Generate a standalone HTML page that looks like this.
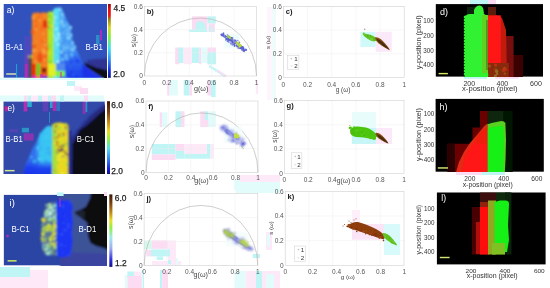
<!DOCTYPE html><html><head><meta charset="utf-8"><style>html,body{margin:0;padding:0;background:#fff;width:550px;height:288px;overflow:hidden}svg{display:block;will-change:transform}text{font-family:"Liberation Sans", sans-serif}</style></head><body>
<svg width="550" height="288" viewBox="0 0 550 288">
<defs>
<filter id="b1" x="-20%" y="-20%" width="140%" height="140%"><feGaussianBlur stdDeviation="0.8"/></filter>
<filter id="b2" x="-20%" y="-20%" width="140%" height="140%"><feGaussianBlur stdDeviation="1.5"/></filter>
<filter id="b06" x="-20%" y="-20%" width="140%" height="140%"><feGaussianBlur stdDeviation="0.6"/></filter>
<filter id="b05" x="-20%" y="-20%" width="140%" height="140%"><feGaussianBlur stdDeviation="0.45"/></filter>
<filter id="b07" x="-20%" y="-20%" width="140%" height="140%"><feGaussianBlur stdDeviation="0.95"/></filter>
<linearGradient id="cbA" x1="0" y1="0" x2="0" y2="1">
 <stop offset="0" stop-color="#8a0a10"/><stop offset="0.06" stop-color="#e01010"/><stop offset="0.16" stop-color="#f01818"/>
 <stop offset="0.2" stop-color="#9a7a10"/><stop offset="0.32" stop-color="#d8d820"/><stop offset="0.45" stop-color="#80f040"/>
 <stop offset="0.6" stop-color="#40e0f0"/><stop offset="0.75" stop-color="#3090f0"/><stop offset="0.9" stop-color="#1830e0"/><stop offset="1" stop-color="#101890"/>
</linearGradient>
<linearGradient id="cbE" x1="0" y1="0" x2="0" y2="1">
 <stop offset="0" stop-color="#3a1808"/><stop offset="0.15" stop-color="#7a4010"/><stop offset="0.3" stop-color="#d09018"/><stop offset="0.42" stop-color="#e8e020"/>
 <stop offset="0.52" stop-color="#90f040"/><stop offset="0.65" stop-color="#50e0f0"/><stop offset="0.8" stop-color="#3080f0"/><stop offset="0.93" stop-color="#1820e0"/><stop offset="1" stop-color="#10108a"/>
</linearGradient>
<linearGradient id="cbI" x1="0" y1="0" x2="0" y2="1">
 <stop offset="0" stop-color="#3a1808"/><stop offset="0.12" stop-color="#7a4010"/><stop offset="0.25" stop-color="#c08818"/><stop offset="0.36" stop-color="#e8e020"/>
 <stop offset="0.46" stop-color="#90f040"/><stop offset="0.6" stop-color="#a0e8f0"/><stop offset="0.75" stop-color="#a0a8f0"/><stop offset="0.9" stop-color="#3030e0"/><stop offset="1" stop-color="#10108a"/>
</linearGradient>
<linearGradient id="gMt" x1="0" y1="0" x2="0" y2="1">
 <stop offset="0" stop-color="#48a8f6"/><stop offset="0.55" stop-color="#4494f2"/><stop offset="0.75" stop-color="#2c60ee"/><stop offset="1" stop-color="#1a3ae8"/>
</linearGradient>
<linearGradient id="gEm" x1="0" y1="0" x2="1" y2="0">
 <stop offset="0" stop-color="#2c5cee"/><stop offset="0.45" stop-color="#3278f0"/><stop offset="0.6" stop-color="#38b0f2"/><stop offset="1" stop-color="#40ccf2"/>
</linearGradient>
<linearGradient id="gEb" x1="0" y1="0" x2="0" y2="1">
 <stop offset="0" stop-color="#1c38ee" stop-opacity="0"/><stop offset="0.45" stop-color="#1c38ee" stop-opacity="0.9"/><stop offset="1" stop-color="#1830e8"/>
</linearGradient>
</defs>
<rect x="3.7" y="4" width="103.3" height="73.8" fill="#3152bd"/>
<svg x="3.7" y="4" width="103.3" height="73.8" viewBox="3.7 4 103.3 73.8" overflow="hidden"><g filter="url(#b07)">
<polygon points="58.5,8 61,7.5 63,11 66.5,19.4 70.4,27 73,42.6 76,49 79.4,55.4 83.3,66 89.7,77.8 91,81 58.5,81" fill="url(#gMt)"/>
<circle cx="61.3" cy="52.2" r="1.74" fill="#80d0f8" opacity="1.0"/>
<circle cx="61.0" cy="47.8" r="1.42" fill="#3c88f0" opacity="1.0"/>
<circle cx="59.5" cy="51.6" r="1.38" fill="#68b8f8" opacity="1.0"/>
<circle cx="60.7" cy="25.2" r="0.92" fill="#5ab0f6" opacity="1.0"/>
<circle cx="59.2" cy="53.9" r="1.66" fill="#3c88f0" opacity="1.0"/>
<circle cx="71.3" cy="35.9" r="1.74" fill="#3c88f0" opacity="1.0"/>
<circle cx="68.4" cy="26.6" r="1.64" fill="#3c88f0" opacity="1.0"/>
<circle cx="66.1" cy="55.7" r="1.91" fill="#68b8f8" opacity="1.0"/>
<circle cx="62.2" cy="59.6" r="1.85" fill="#68b8f8" opacity="1.0"/>
<circle cx="71.6" cy="54.7" r="1.97" fill="#5ab0f6" opacity="1.0"/>
<circle cx="73.1" cy="43.2" r="1.23" fill="#5ab0f6" opacity="1.0"/>
<circle cx="70.3" cy="27.7" r="1.87" fill="#80d0f8" opacity="1.0"/>
<circle cx="60.5" cy="42.9" r="1.02" fill="#50a8f4" opacity="1.0"/>
<circle cx="67.9" cy="29.1" r="1.44" fill="#68b8f8" opacity="1.0"/>
<circle cx="67.0" cy="24.7" r="1.83" fill="#5ab0f6" opacity="1.0"/>
<circle cx="69.1" cy="29.1" r="1.09" fill="#5ab0f6" opacity="1.0"/>
<circle cx="62.4" cy="55.9" r="1.50" fill="#3c88f0" opacity="1.0"/>
<circle cx="67.7" cy="57.6" r="1.54" fill="#3c88f0" opacity="1.0"/>
<circle cx="69.4" cy="46.2" r="1.32" fill="#5ab0f6" opacity="1.0"/>
<circle cx="68.5" cy="30.7" r="0.96" fill="#80d0f8" opacity="1.0"/>
<circle cx="67.6" cy="33.7" r="1.29" fill="#80d0f8" opacity="1.0"/>
<circle cx="59.0" cy="36.5" r="1.77" fill="#80d0f8" opacity="1.0"/>
<circle cx="62.9" cy="18.0" r="1.54" fill="#68b8f8" opacity="1.0"/>
<circle cx="72.6" cy="49.7" r="1.80" fill="#80d0f8" opacity="1.0"/>
<circle cx="59.6" cy="57.1" r="0.98" fill="#68b8f8" opacity="1.0"/>
<circle cx="66.7" cy="47.5" r="1.21" fill="#80d0f8" opacity="1.0"/>
<circle cx="60.9" cy="40.9" r="1.28" fill="#68b8f8" opacity="1.0"/>
<circle cx="61.8" cy="22.0" r="1.95" fill="#80d0f8" opacity="1.0"/>
<circle cx="70.9" cy="34.3" r="1.03" fill="#80d0f8" opacity="1.0"/>
<circle cx="65.6" cy="30.5" r="1.11" fill="#68b8f8" opacity="1.0"/>
<circle cx="63.3" cy="46.2" r="1.97" fill="#5ab0f6" opacity="1.0"/>
<circle cx="66.3" cy="58.8" r="1.15" fill="#3c88f0" opacity="1.0"/>
<circle cx="61.5" cy="45.7" r="1.08" fill="#5ab0f6" opacity="1.0"/>
<circle cx="70.5" cy="36.8" r="1.14" fill="#5ab0f6" opacity="1.0"/>
<circle cx="66.7" cy="35.7" r="0.93" fill="#5ab0f6" opacity="1.0"/>
<circle cx="72.7" cy="42.7" r="1.37" fill="#80d0f8" opacity="1.0"/>
<circle cx="61.1" cy="19.8" r="0.95" fill="#68b8f8" opacity="1.0"/>
<circle cx="75.0" cy="46.9" r="1.36" fill="#80d0f8" opacity="1.0"/>
<circle cx="61.2" cy="37.6" r="1.84" fill="#5ab0f6" opacity="1.0"/>
<circle cx="71.0" cy="35.0" r="1.32" fill="#80d0f8" opacity="1.0"/>
<circle cx="60.7" cy="38.2" r="1.89" fill="#5ab0f6" opacity="1.0"/>
<circle cx="62.3" cy="14.3" r="1.63" fill="#80d0f8" opacity="1.0"/>
<circle cx="69.4" cy="29.5" r="1.21" fill="#50a8f4" opacity="1.0"/>
<circle cx="62.4" cy="25.7" r="1.99" fill="#50a8f4" opacity="1.0"/>
<circle cx="64.8" cy="19.9" r="1.64" fill="#3c88f0" opacity="1.0"/>
<circle cx="67.2" cy="59.3" r="1.16" fill="#68b8f8" opacity="1.0"/>
<circle cx="60.4" cy="17.7" r="1.90" fill="#50a8f4" opacity="1.0"/>
<circle cx="63.6" cy="25.9" r="1.46" fill="#80d0f8" opacity="1.0"/>
<circle cx="65.3" cy="26.4" r="1.22" fill="#5ab0f6" opacity="1.0"/>
<circle cx="72.3" cy="45.5" r="1.44" fill="#5ab0f6" opacity="1.0"/>
<circle cx="59.7" cy="12.7" r="1.85" fill="#50a8f4" opacity="1.0"/>
<circle cx="69.5" cy="48.9" r="1.32" fill="#5ab0f6" opacity="1.0"/>
<circle cx="68.4" cy="37.9" r="1.95" fill="#80d0f8" opacity="1.0"/>
<circle cx="63.7" cy="49.1" r="1.81" fill="#68b8f8" opacity="1.0"/>
<circle cx="66.0" cy="51.1" r="1.77" fill="#50a8f4" opacity="1.0"/>
<circle cx="63.1" cy="59.4" r="1.36" fill="#68b8f8" opacity="1.0"/>
<circle cx="66.7" cy="43.7" r="1.07" fill="#68b8f8" opacity="1.0"/>
<circle cx="66.4" cy="58.2" r="1.79" fill="#5ab0f6" opacity="1.0"/>
<circle cx="63.3" cy="33.3" r="1.01" fill="#80d0f8" opacity="1.0"/>
<circle cx="59.7" cy="9.5" r="1.98" fill="#80d0f8" opacity="1.0"/>
<circle cx="82.8" cy="73.9" r="1.49" fill="#1838ec" opacity="1.0"/>
<circle cx="76.6" cy="77.0" r="1.73" fill="#1838ec" opacity="1.0"/>
<circle cx="83.1" cy="71.9" r="1.41" fill="#3060f0" opacity="1.0"/>
<circle cx="75.2" cy="58.1" r="1.56" fill="#3060f0" opacity="1.0"/>
<circle cx="83.1" cy="70.9" r="1.84" fill="#1838ec" opacity="1.0"/>
<circle cx="71.3" cy="61.5" r="1.70" fill="#2048f0" opacity="1.0"/>
<circle cx="80.0" cy="73.4" r="1.10" fill="#2048f0" opacity="1.0"/>
<circle cx="76.7" cy="60.4" r="1.66" fill="#1838ec" opacity="1.0"/>
<circle cx="73.6" cy="74.2" r="1.19" fill="#3060f0" opacity="1.0"/>
<circle cx="78.3" cy="71.2" r="1.81" fill="#2048f0" opacity="1.0"/>
<circle cx="78.0" cy="61.3" r="1.43" fill="#1838ec" opacity="1.0"/>
<circle cx="76.7" cy="58.0" r="1.88" fill="#3060f0" opacity="1.0"/>
<circle cx="65.0" cy="69.3" r="1.27" fill="#3060f0" opacity="1.0"/>
<circle cx="64.9" cy="66.5" r="1.14" fill="#2048f0" opacity="1.0"/>
<circle cx="84.0" cy="75.1" r="1.52" fill="#2048f0" opacity="1.0"/>
<circle cx="69.0" cy="75.7" r="1.62" fill="#1838ec" opacity="1.0"/>
<circle cx="70.2" cy="67.5" r="1.29" fill="#3060f0" opacity="1.0"/>
<circle cx="71.7" cy="72.3" r="1.40" fill="#1838ec" opacity="1.0"/>
<circle cx="66.4" cy="77.3" r="1.89" fill="#3060f0" opacity="1.0"/>
<circle cx="61.3" cy="65.3" r="1.30" fill="#1838ec" opacity="1.0"/>
<polygon points="53,10 55,8 58.8,7.5 59.5,30 59.5,81 53,81" fill="#58dcf8"/>
<circle cx="58.8" cy="68.7" r="0.85" fill="#90ecfc" opacity="1.0"/>
<circle cx="55.5" cy="19.7" r="1.45" fill="#50d0f4" opacity="1.0"/>
<circle cx="54.9" cy="22.4" r="0.83" fill="#b0f4fc" opacity="1.0"/>
<circle cx="54.4" cy="36.1" r="1.11" fill="#b0f4fc" opacity="1.0"/>
<circle cx="58.2" cy="41.1" r="1.10" fill="#50d0f4" opacity="1.0"/>
<circle cx="56.3" cy="65.8" r="1.50" fill="#50d0f4" opacity="1.0"/>
<circle cx="56.1" cy="29.1" r="1.10" fill="#b0f4fc" opacity="1.0"/>
<circle cx="54.4" cy="20.2" r="0.98" fill="#90ecfc" opacity="1.0"/>
<circle cx="55.3" cy="17.6" r="1.21" fill="#b0f4fc" opacity="1.0"/>
<circle cx="57.2" cy="20.5" r="1.51" fill="#50d0f4" opacity="1.0"/>
<circle cx="57.5" cy="66.1" r="1.41" fill="#b0f4fc" opacity="1.0"/>
<circle cx="55.4" cy="70.8" r="1.57" fill="#90ecfc" opacity="1.0"/>
<circle cx="58.8" cy="34.2" r="1.39" fill="#b0f4fc" opacity="1.0"/>
<circle cx="56.4" cy="39.9" r="1.54" fill="#b0f4fc" opacity="1.0"/>
<circle cx="56.3" cy="59.2" r="1.33" fill="#50d0f4" opacity="1.0"/>
<circle cx="58.4" cy="38.0" r="1.25" fill="#b0f4fc" opacity="1.0"/>
<circle cx="57.5" cy="39.7" r="0.98" fill="#50d0f4" opacity="1.0"/>
<circle cx="58.0" cy="61.6" r="1.50" fill="#b0f4fc" opacity="1.0"/>
<circle cx="55.0" cy="66.4" r="1.05" fill="#b0f4fc" opacity="1.0"/>
<circle cx="58.1" cy="44.4" r="1.21" fill="#b0f4fc" opacity="1.0"/>
<circle cx="56.7" cy="28.6" r="0.97" fill="#b0f4fc" opacity="1.0"/>
<circle cx="55.5" cy="52.1" r="1.51" fill="#50d0f4" opacity="1.0"/>
<polygon points="47.3,13 49,11.5 52,11.5 53.7,12.5 53.7,81 47.3,81" fill="#a8e828"/>
<circle cx="48.9" cy="45.6" r="1.06" fill="#70d040" opacity="1.0"/>
<circle cx="51.3" cy="17.8" r="0.81" fill="#70d040" opacity="1.0"/>
<circle cx="49.1" cy="27.6" r="1.50" fill="#70d040" opacity="1.0"/>
<circle cx="50.7" cy="45.9" r="1.08" fill="#80e830" opacity="1.0"/>
<circle cx="48.9" cy="22.8" r="1.45" fill="#70d040" opacity="1.0"/>
<circle cx="51.9" cy="52.9" r="0.84" fill="#c8e820" opacity="1.0"/>
<circle cx="49.3" cy="15.8" r="1.41" fill="#70d040" opacity="1.0"/>
<circle cx="51.1" cy="67.4" r="1.07" fill="#70d040" opacity="1.0"/>
<circle cx="49.9" cy="60.5" r="1.11" fill="#80e830" opacity="1.0"/>
<circle cx="52.8" cy="19.7" r="0.90" fill="#80e830" opacity="1.0"/>
<circle cx="49.0" cy="53.0" r="1.35" fill="#e0e020" opacity="1.0"/>
<circle cx="50.0" cy="62.3" r="1.20" fill="#70d040" opacity="1.0"/>
<circle cx="51.0" cy="66.4" r="1.28" fill="#c8e820" opacity="1.0"/>
<circle cx="52.6" cy="71.5" r="1.27" fill="#80e830" opacity="1.0"/>
<circle cx="51.7" cy="32.9" r="1.18" fill="#c8e820" opacity="1.0"/>
<circle cx="51.8" cy="26.2" r="1.38" fill="#e0e020" opacity="1.0"/>
<path d="M31.9,81 L31.9,15 Q33.5,11.5 36,13 Q38,11.5 40,13.5 Q43,11.5 45.5,12.5 L47.8,13.5 L47.8,81 Z" fill="#f47c22"/>
<circle cx="35.8" cy="21.1" r="1.34" fill="#f06a1c" opacity="1.0"/>
<circle cx="33.6" cy="16.2" r="1.50" fill="#f49430" opacity="1.0"/>
<circle cx="44.4" cy="60.1" r="1.14" fill="#f8a040" opacity="1.0"/>
<circle cx="37.7" cy="61.0" r="1.81" fill="#f49430" opacity="1.0"/>
<circle cx="35.5" cy="69.7" r="1.81" fill="#f49430" opacity="1.0"/>
<circle cx="44.4" cy="26.4" r="1.24" fill="#f49430" opacity="1.0"/>
<circle cx="33.5" cy="50.7" r="1.64" fill="#f8a040" opacity="1.0"/>
<circle cx="36.0" cy="29.6" r="1.21" fill="#f8a040" opacity="1.0"/>
<circle cx="45.1" cy="15.4" r="1.22" fill="#f49430" opacity="1.0"/>
<circle cx="45.2" cy="45.0" r="1.36" fill="#f8a040" opacity="1.0"/>
<circle cx="36.6" cy="41.6" r="1.16" fill="#f49430" opacity="1.0"/>
<circle cx="44.6" cy="17.6" r="0.95" fill="#f49430" opacity="1.0"/>
<circle cx="40.1" cy="53.2" r="1.67" fill="#f06a1c" opacity="1.0"/>
<circle cx="47.5" cy="26.5" r="1.35" fill="#f06a1c" opacity="1.0"/>
<circle cx="41.9" cy="41.0" r="1.10" fill="#ee5818" opacity="1.0"/>
<circle cx="43.6" cy="33.9" r="1.51" fill="#f49430" opacity="1.0"/>
<circle cx="33.7" cy="18.6" r="1.15" fill="#f8a040" opacity="1.0"/>
<circle cx="41.6" cy="29.0" r="1.26" fill="#f06a1c" opacity="1.0"/>
<circle cx="36.7" cy="16.5" r="1.29" fill="#f68a2a" opacity="1.0"/>
<circle cx="45.9" cy="71.3" r="1.71" fill="#f49430" opacity="1.0"/>
<circle cx="32.5" cy="32.1" r="1.96" fill="#ee5818" opacity="1.0"/>
<circle cx="45.4" cy="66.3" r="1.65" fill="#f68a2a" opacity="1.0"/>
<circle cx="36.7" cy="26.3" r="1.39" fill="#f06a1c" opacity="1.0"/>
<circle cx="36.0" cy="50.3" r="1.07" fill="#f8a040" opacity="1.0"/>
<circle cx="32.3" cy="17.6" r="1.09" fill="#f49430" opacity="1.0"/>
<circle cx="47.5" cy="48.7" r="1.38" fill="#f06a1c" opacity="1.0"/>
<circle cx="38.7" cy="27.3" r="0.97" fill="#f68a2a" opacity="1.0"/>
<circle cx="43.5" cy="50.1" r="1.97" fill="#f8a040" opacity="1.0"/>
<circle cx="32.8" cy="43.9" r="1.17" fill="#f68a2a" opacity="1.0"/>
<circle cx="34.1" cy="46.2" r="1.75" fill="#ee5818" opacity="1.0"/>
<circle cx="42.2" cy="26.8" r="1.12" fill="#ee5818" opacity="1.0"/>
<circle cx="38.5" cy="17.2" r="1.36" fill="#f06a1c" opacity="1.0"/>
<circle cx="42.1" cy="40.2" r="1.14" fill="#f06a1c" opacity="1.0"/>
<circle cx="32.7" cy="30.0" r="1.17" fill="#f06a1c" opacity="1.0"/>
<circle cx="44.0" cy="39.6" r="1.19" fill="#f49430" opacity="1.0"/>
<circle cx="33.0" cy="69.8" r="1.52" fill="#f8a040" opacity="1.0"/>
<circle cx="38.4" cy="68.2" r="1.62" fill="#f68a2a" opacity="1.0"/>
<circle cx="39.8" cy="20.5" r="1.13" fill="#f8a040" opacity="1.0"/>
<circle cx="46.0" cy="69.6" r="1.27" fill="#ee5818" opacity="1.0"/>
<circle cx="44.4" cy="52.9" r="1.80" fill="#f8a040" opacity="1.0"/>
<circle cx="35.5" cy="62.3" r="1.78" fill="#f49430" opacity="1.0"/>
<circle cx="46.3" cy="71.4" r="0.98" fill="#f49430" opacity="1.0"/>
<circle cx="46.9" cy="54.4" r="0.95" fill="#f8a040" opacity="1.0"/>
<circle cx="34.2" cy="72.1" r="1.63" fill="#f68a2a" opacity="1.0"/>
<circle cx="45.5" cy="55.6" r="1.41" fill="#ee5818" opacity="1.0"/>
<ellipse cx="45" cy="24" rx="2" ry="4" fill="#e03010"/>
<ellipse cx="40" cy="58" rx="3" ry="5" fill="#ec5418"/>
<rect x="25" y="55" width="3.00" height="26.00" fill="#6040c0" opacity="1"/>
<rect x="28" y="55" width="4.00" height="26.00" fill="#405018" opacity="1"/>
<rect x="28" y="55" width="4.00" height="3.00" fill="#a0d020" opacity="1"/>
<rect x="32" y="63.7" width="4.30" height="17.30" fill="#f02a10" opacity="1"/>
<rect x="36.3" y="63.7" width="3.90" height="12.30" fill="#60d020" opacity="1"/>
<rect x="40.2" y="67" width="7.80" height="9.00" fill="#e85a18" opacity="1"/>
<rect x="42.4" y="68" width="3.50" height="4.40" fill="#602010" opacity="1"/>
<rect x="48" y="63.7" width="7.90" height="12.30" fill="#e0f020" opacity="1"/>
<rect x="55.9" y="70.7" width="9.10" height="6.00" fill="#80f040" opacity="1"/>
<rect x="55.9" y="63" width="9.10" height="7.70" fill="#5088f0" opacity="1"/>
<rect x="32" y="75.9" width="4.30" height="5.10" fill="#e020c0" opacity="1"/>
<rect x="40.2" y="75.9" width="7.80" height="5.10" fill="#8040c0" opacity="1"/>
<polygon points="88,60 110,58 110,71 96,67.5 86,63" fill="#2e2c88" opacity="0.8"/>
<polygon points="82,64 92,72 101,77.8 102,81 84,81" fill="#1c30e8"/>
<polygon points="84,62.5 96,67.5 110,71 110,81 104,81 103,77.8 95,72.5 86,66.5" fill="#0a0a18"/>
</g></svg>
<rect x="108" y="4" width="2.8" height="73.8" fill="url(#cbA)"/>
<rect x="6.2" y="73.2" width="9.8" height="1.6" fill="#c8d8b0"/>
<rect x="3.5" y="101.4" width="101.1" height="72.6" fill="#3249aa"/>
<svg x="3.5" y="101.4" width="101.1" height="72.6" viewBox="3.5 101.4 101.1 72.6" overflow="hidden"><g filter="url(#b07)">
<polygon points="68,178 69,142 76,132 90,116 104.6,104 108,101 108,178" fill="#262a80"/>
<polygon points="72,178 72.5,144 76.5,137 80,130 88,124.5 96,117 104.6,109.5 108,106.5 108,178" fill="#0a0a14"/>
<polygon points="22.5,178 25,166 27.5,160 30,154 33.2,146.9 36,143 38,138 41,133.8 45,128 48.5,125.5 51.5,127 52,178" fill="url(#gEm)"/>
<circle cx="39.5" cy="147.8" r="1.82" fill="#3070f0" opacity="1.0"/>
<circle cx="39.5" cy="159.3" r="1.09" fill="#48b8f0" opacity="1.0"/>
<circle cx="40.0" cy="149.9" r="1.09" fill="#3070f0" opacity="1.0"/>
<circle cx="47.0" cy="153.0" r="0.94" fill="#3070f0" opacity="1.0"/>
<circle cx="50.3" cy="151.5" r="1.52" fill="#3890f0" opacity="1.0"/>
<circle cx="43.1" cy="158.4" r="0.96" fill="#40c8f0" opacity="1.0"/>
<circle cx="39.3" cy="158.9" r="1.42" fill="#58d8f4" opacity="1.0"/>
<circle cx="40.5" cy="151.8" r="1.36" fill="#58d8f4" opacity="1.0"/>
<circle cx="38.5" cy="147.5" r="1.83" fill="#40c8f0" opacity="1.0"/>
<circle cx="44.9" cy="138.3" r="1.13" fill="#58d8f4" opacity="1.0"/>
<circle cx="34.5" cy="162.2" r="0.95" fill="#3070f0" opacity="1.0"/>
<circle cx="50.6" cy="141.5" r="0.97" fill="#3890f0" opacity="1.0"/>
<circle cx="46.3" cy="136.5" r="0.99" fill="#58d8f4" opacity="1.0"/>
<circle cx="49.4" cy="131.2" r="1.61" fill="#40c8f0" opacity="1.0"/>
<circle cx="31.3" cy="157.1" r="1.08" fill="#48b8f0" opacity="1.0"/>
<circle cx="50.7" cy="156.0" r="1.32" fill="#3070f0" opacity="1.0"/>
<circle cx="50.4" cy="157.3" r="1.20" fill="#40c8f0" opacity="1.0"/>
<circle cx="47.9" cy="151.0" r="1.00" fill="#3890f0" opacity="1.0"/>
<circle cx="46.2" cy="138.8" r="1.20" fill="#40c8f0" opacity="1.0"/>
<circle cx="37.7" cy="150.3" r="1.03" fill="#48b8f0" opacity="1.0"/>
<circle cx="40.2" cy="148.4" r="1.77" fill="#3890f0" opacity="1.0"/>
<circle cx="43.2" cy="138.1" r="1.13" fill="#48b8f0" opacity="1.0"/>
<circle cx="45.5" cy="162.7" r="1.10" fill="#3070f0" opacity="1.0"/>
<circle cx="48.5" cy="149.5" r="1.32" fill="#40c8f0" opacity="1.0"/>
<circle cx="35.4" cy="154.9" r="1.29" fill="#3070f0" opacity="1.0"/>
<circle cx="47.3" cy="149.3" r="1.19" fill="#3890f0" opacity="1.0"/>
<circle cx="49.5" cy="164.1" r="1.03" fill="#3070f0" opacity="1.0"/>
<circle cx="41.7" cy="159.2" r="1.51" fill="#58d8f4" opacity="1.0"/>
<circle cx="34.5" cy="161.7" r="1.65" fill="#40c8f0" opacity="1.0"/>
<circle cx="37.7" cy="148.3" r="1.03" fill="#58d8f4" opacity="1.0"/>
<circle cx="37.0" cy="154.6" r="1.42" fill="#3890f0" opacity="1.0"/>
<circle cx="42.4" cy="162.0" r="1.37" fill="#58d8f4" opacity="1.0"/>
<circle cx="44.7" cy="163.5" r="0.92" fill="#40c8f0" opacity="1.0"/>
<circle cx="40.1" cy="154.5" r="1.22" fill="#40c8f0" opacity="1.0"/>
<circle cx="45.5" cy="161.1" r="1.64" fill="#3890f0" opacity="1.0"/>
<circle cx="46.7" cy="161.7" r="1.25" fill="#3070f0" opacity="1.0"/>
<circle cx="48.9" cy="160.0" r="1.32" fill="#40c8f0" opacity="1.0"/>
<circle cx="48.1" cy="148.3" r="1.52" fill="#3070f0" opacity="1.0"/>
<circle cx="49.6" cy="153.1" r="1.36" fill="#3070f0" opacity="1.0"/>
<circle cx="47.6" cy="129.3" r="1.65" fill="#40c8f0" opacity="1.0"/>
<polygon points="39,134 45,128 48.5,125.5 52,127 52,165 40,165" fill="#38c8f4" opacity="0.7"/>
<polygon points="22.5,178 25.5,165 30,160 52,160 52,178" fill="url(#gEb)"/>
<polygon points="52,125 55,123 60,122.5 65,123.5 68.4,125 68.4,178 52,178" fill="#e8d820"/>
<rect x="52" y="125" width="4.5" height="53" fill="#9ae040"/>
<circle cx="59.8" cy="157.2" r="1.07" fill="#c8e030" opacity="1.0"/>
<circle cx="58.3" cy="173.8" r="0.94" fill="#80e040" opacity="1.0"/>
<circle cx="63.3" cy="154.5" r="0.99" fill="#f8f040" opacity="1.0"/>
<circle cx="54.4" cy="146.6" r="0.71" fill="#c8e030" opacity="1.0"/>
<circle cx="53.0" cy="165.1" r="0.65" fill="#e0a020" opacity="1.0"/>
<circle cx="63.2" cy="164.1" r="0.66" fill="#f0e020" opacity="1.0"/>
<circle cx="65.4" cy="157.4" r="0.76" fill="#80e040" opacity="1.0"/>
<circle cx="67.5" cy="130.5" r="0.90" fill="#c8e030" opacity="1.0"/>
<circle cx="60.8" cy="168.2" r="0.99" fill="#f0e020" opacity="1.0"/>
<circle cx="61.1" cy="149.9" r="0.66" fill="#f8f040" opacity="1.0"/>
<circle cx="58.9" cy="154.2" r="0.93" fill="#80e040" opacity="1.0"/>
<circle cx="60.9" cy="156.4" r="0.66" fill="#c8e030" opacity="1.0"/>
<circle cx="68.0" cy="157.5" r="0.85" fill="#e0a020" opacity="1.0"/>
<circle cx="66.2" cy="143.9" r="0.82" fill="#e0a020" opacity="1.0"/>
<circle cx="55.9" cy="142.8" r="0.96" fill="#f8f040" opacity="1.0"/>
<circle cx="54.9" cy="143.7" r="1.20" fill="#f0e020" opacity="1.0"/>
<circle cx="60.5" cy="135.9" r="0.90" fill="#80e040" opacity="1.0"/>
<circle cx="55.4" cy="154.8" r="1.13" fill="#c8e030" opacity="1.0"/>
<circle cx="54.9" cy="159.1" r="0.63" fill="#e0a020" opacity="1.0"/>
<circle cx="60.2" cy="154.5" r="1.11" fill="#f8f040" opacity="1.0"/>
<circle cx="59.5" cy="135.2" r="0.80" fill="#80e040" opacity="1.0"/>
<circle cx="63.4" cy="166.9" r="0.77" fill="#c8e030" opacity="1.0"/>
<circle cx="59.6" cy="151.9" r="0.73" fill="#c8e030" opacity="1.0"/>
<circle cx="67.0" cy="125.3" r="0.79" fill="#e0a020" opacity="1.0"/>
<circle cx="54.9" cy="164.0" r="0.95" fill="#c8e030" opacity="1.0"/>
<circle cx="62.2" cy="173.2" r="1.30" fill="#f8f040" opacity="1.0"/>
<circle cx="54.5" cy="170.4" r="1.22" fill="#e0a020" opacity="1.0"/>
<circle cx="62.5" cy="136.2" r="0.97" fill="#80e040" opacity="1.0"/>
<circle cx="60.0" cy="142.3" r="1.08" fill="#80e040" opacity="1.0"/>
<circle cx="66.7" cy="132.9" r="0.80" fill="#f0e020" opacity="1.0"/>
<circle cx="56.6" cy="171.3" r="0.96" fill="#80e040" opacity="1.0"/>
<circle cx="63.6" cy="135.5" r="0.80" fill="#e0a020" opacity="1.0"/>
<circle cx="52.5" cy="125.2" r="0.62" fill="#f8f040" opacity="1.0"/>
<circle cx="66.5" cy="145.6" r="0.77" fill="#80e040" opacity="1.0"/>
<circle cx="59.7" cy="127.9" r="1.00" fill="#e0a020" opacity="1.0"/>
<circle cx="64.5" cy="145.5" r="1.01" fill="#80e040" opacity="1.0"/>
<circle cx="64.9" cy="153.4" r="0.84" fill="#e0a020" opacity="1.0"/>
<circle cx="62.5" cy="143.9" r="0.71" fill="#c8e030" opacity="1.0"/>
<circle cx="66.8" cy="164.1" r="1.23" fill="#80e040" opacity="1.0"/>
<circle cx="60.8" cy="163.7" r="0.87" fill="#f0e020" opacity="1.0"/>
<circle cx="63.6" cy="134.3" r="0.79" fill="#f8f040" opacity="1.0"/>
<circle cx="60.1" cy="154.9" r="0.75" fill="#f8f040" opacity="1.0"/>
<circle cx="63.5" cy="144.3" r="0.77" fill="#80e040" opacity="1.0"/>
<circle cx="57.8" cy="129.0" r="0.83" fill="#f0e020" opacity="1.0"/>
<circle cx="63.8" cy="140.2" r="0.73" fill="#80e040" opacity="1.0"/>
<circle cx="58.0" cy="126.5" r="0.94" fill="#80e040" opacity="1.0"/>
<circle cx="60.0" cy="127.8" r="1.02" fill="#80e040" opacity="1.0"/>
<circle cx="55.9" cy="141.0" r="1.26" fill="#f0e020" opacity="1.0"/>
<circle cx="67.8" cy="143.0" r="1.19" fill="#80e040" opacity="1.0"/>
<circle cx="56.9" cy="150.3" r="0.70" fill="#e0a020" opacity="1.0"/>
<circle cx="54.7" cy="147.8" r="1.02" fill="#c8e030" opacity="1.0"/>
<circle cx="59.5" cy="163.5" r="0.63" fill="#c8e030" opacity="1.0"/>
<circle cx="58.7" cy="159.2" r="1.15" fill="#f8f040" opacity="1.0"/>
<circle cx="63.0" cy="157.5" r="1.28" fill="#f8f040" opacity="1.0"/>
<circle cx="61.4" cy="140.3" r="1.13" fill="#f0e020" opacity="1.0"/>
<circle cx="57.3" cy="149.5" r="0.85" fill="#e0a020" opacity="1.0"/>
<circle cx="54.8" cy="148.4" r="1.16" fill="#c8e030" opacity="1.0"/>
<circle cx="56.1" cy="127.2" r="1.16" fill="#e0a020" opacity="1.0"/>
<circle cx="58.7" cy="155.7" r="0.80" fill="#f8f040" opacity="1.0"/>
<circle cx="57.3" cy="131.2" r="1.05" fill="#f8f040" opacity="1.0"/>
<circle cx="65.1" cy="143.5" r="0.90" fill="#e0a020" opacity="1.0"/>
<circle cx="57.6" cy="162.7" r="0.94" fill="#80e040" opacity="1.0"/>
<circle cx="65.4" cy="134.0" r="1.15" fill="#e0a020" opacity="1.0"/>
<circle cx="53.8" cy="138.1" r="1.22" fill="#e0a020" opacity="1.0"/>
<circle cx="68.1" cy="169.8" r="1.14" fill="#e0a020" opacity="1.0"/>
<circle cx="65.7" cy="135.3" r="1.22" fill="#f0e020" opacity="1.0"/>
<circle cx="61.1" cy="127.1" r="1.17" fill="#c8e030" opacity="1.0"/>
<circle cx="54.7" cy="160.1" r="0.81" fill="#c8e030" opacity="1.0"/>
<circle cx="68.1" cy="162.9" r="0.98" fill="#f0e020" opacity="1.0"/>
<circle cx="62.0" cy="130.0" r="1.08" fill="#f8f040" opacity="1.0"/>
<circle cx="58.1" cy="149.9" r="0.91" fill="#403070" opacity="1.0"/>
<circle cx="62.8" cy="149.3" r="1.02" fill="#403070" opacity="1.0"/>
<circle cx="56.6" cy="145.0" r="0.63" fill="#604040" opacity="1.0"/>
<circle cx="55.4" cy="132.0" r="0.91" fill="#503060" opacity="1.0"/>
<circle cx="66.9" cy="154.7" r="0.55" fill="#604040" opacity="1.0"/>
<circle cx="64.9" cy="151.8" r="1.07" fill="#604040" opacity="1.0"/>
<circle cx="59.3" cy="135.5" r="1.04" fill="#e06020" opacity="1.0"/>
<circle cx="63.0" cy="156.4" r="0.88" fill="#503060" opacity="1.0"/>
<circle cx="59.2" cy="147.0" r="0.88" fill="#604040" opacity="1.0"/>
<circle cx="63.3" cy="145.7" r="0.95" fill="#403070" opacity="1.0"/>
<circle cx="60.3" cy="151.3" r="0.82" fill="#604040" opacity="1.0"/>
<circle cx="57.4" cy="144.7" r="0.65" fill="#e06020" opacity="1.0"/>
<circle cx="58.1" cy="137.0" r="1.03" fill="#e06020" opacity="1.0"/>
<circle cx="61.6" cy="146.1" r="1.03" fill="#604040" opacity="1.0"/>
<circle cx="56.6" cy="141.8" r="0.88" fill="#e06020" opacity="1.0"/>
<circle cx="59.7" cy="151.0" r="1.06" fill="#503060" opacity="1.0"/>
<circle cx="57.7" cy="143.9" r="0.92" fill="#e06020" opacity="1.0"/>
<circle cx="62.7" cy="133.1" r="0.75" fill="#604040" opacity="1.0"/>
<circle cx="65.6" cy="153.7" r="0.62" fill="#604040" opacity="1.0"/>
<circle cx="61.2" cy="149.0" r="1.04" fill="#403070" opacity="1.0"/>
<circle cx="63.7" cy="134.8" r="0.87" fill="#503060" opacity="1.0"/>
<circle cx="59.3" cy="151.3" r="0.70" fill="#604040" opacity="1.0"/>
<circle cx="57.3" cy="153.2" r="0.83" fill="#403070" opacity="1.0"/>
<circle cx="57.0" cy="141.7" r="0.86" fill="#503060" opacity="1.0"/>
<circle cx="66.7" cy="154.4" r="0.89" fill="#503060" opacity="1.0"/>
<circle cx="56.5" cy="137.9" r="0.74" fill="#604040" opacity="1.0"/>
<circle cx="61.8" cy="150.4" r="1.06" fill="#604040" opacity="1.0"/>
<circle cx="65.2" cy="129.1" r="0.69" fill="#403070" opacity="1.0"/>
<circle cx="53.7" cy="130.7" r="0.99" fill="#e09020" opacity="1.0"/>
<circle cx="56.3" cy="125.8" r="1.04" fill="#604050" opacity="1.0"/>
<circle cx="56.8" cy="130.5" r="0.84" fill="#a0e040" opacity="1.0"/>
<circle cx="56.2" cy="132.6" r="0.79" fill="#c0e040" opacity="1.0"/>
<circle cx="57.8" cy="130.0" r="0.91" fill="#e09020" opacity="1.0"/>
<circle cx="60.8" cy="130.3" r="0.70" fill="#a0e040" opacity="1.0"/>
<circle cx="54.0" cy="126.7" r="0.65" fill="#e09020" opacity="1.0"/>
<circle cx="65.7" cy="127.2" r="0.95" fill="#604050" opacity="1.0"/>
<circle cx="66.3" cy="124.0" r="0.98" fill="#a0e040" opacity="1.0"/>
<circle cx="61.3" cy="130.0" r="0.82" fill="#a0e040" opacity="1.0"/>
<circle cx="64.0" cy="128.4" r="1.00" fill="#c0e040" opacity="1.0"/>
<circle cx="59.2" cy="125.4" r="1.08" fill="#c0e040" opacity="1.0"/>
<circle cx="53.6" cy="132.0" r="0.65" fill="#c0e040" opacity="1.0"/>
<circle cx="53.9" cy="124.8" r="0.85" fill="#a0e040" opacity="1.0"/>
<circle cx="58.8" cy="133.7" r="0.70" fill="#604050" opacity="1.0"/>
<circle cx="59.3" cy="128.3" r="0.86" fill="#a0e040" opacity="1.0"/>
<rect x="68.4" y="130" width="3" height="48" fill="#242c88"/>
</g></svg>
<rect x="107" y="101.2" width="3" height="72.8" fill="url(#cbE)"/>
<rect x="4.9" y="169.9" width="9.7" height="1.5" fill="#d0e890"/>
<rect x="3.85" y="194.9" width="102.75" height="70.4" fill="#2b45a4"/>
<svg x="3.85" y="194.9" width="102.75" height="70.4" viewBox="3.85 194.9 102.75 70.4" overflow="hidden"><g filter="url(#b07)">
<polygon points="60,190 110,190 110,270 60,270" fill="#3d5398"/>
<polygon points="60,252 110,254 110,270 60,270" fill="#3a44a0"/>
<polygon points="74.5,212.5 78,210.5 81,209.5 86,206.5 89.7,199 91.5,191 110,191 110,251 106.6,249.5 103.5,248 96,246 90.5,243 88,236 87.2,222.7 81,217.7 76,214.2" fill="#08080e"/>
<polygon points="74.5,212.5 80,210 85,211 84.7,219 78,216" fill="#202838" opacity="0.8"/>
<polygon points="46,204.7 50,203 54.5,202.3 57.5,202 57.5,255 49.6,255.8 44.7,254.6 42.3,248.5 41,238.8 41,229 42.3,219.3 44.7,209.6" fill="#7a9a90" opacity="0.55"/>
<circle cx="46.2" cy="214.4" r="1.27" fill="#c0e040" opacity="1.0"/>
<circle cx="55.4" cy="219.8" r="1.13" fill="#90d8c0" opacity="1.0"/>
<circle cx="46.5" cy="211.5" r="1.41" fill="#a8e8d8" opacity="1.0"/>
<circle cx="49.0" cy="212.5" r="0.76" fill="#c8f0e0" opacity="1.0"/>
<circle cx="56.4" cy="214.5" r="1.09" fill="#c0e040" opacity="1.0"/>
<circle cx="48.4" cy="211.0" r="0.80" fill="#b0e0a0" opacity="1.0"/>
<circle cx="45.2" cy="216.6" r="0.72" fill="#c8f0e0" opacity="1.0"/>
<circle cx="51.5" cy="208.2" r="1.14" fill="#c8f0e0" opacity="1.0"/>
<circle cx="53.0" cy="210.5" r="1.44" fill="#a8e8d8" opacity="1.0"/>
<circle cx="54.5" cy="205.8" r="1.57" fill="#90d8c0" opacity="1.0"/>
<circle cx="57.3" cy="203.3" r="1.20" fill="#90d8c0" opacity="1.0"/>
<circle cx="55.2" cy="205.6" r="1.53" fill="#90d8c0" opacity="1.0"/>
<circle cx="49.5" cy="208.6" r="1.11" fill="#c0e040" opacity="1.0"/>
<circle cx="48.3" cy="210.7" r="0.94" fill="#a8e8d8" opacity="1.0"/>
<circle cx="46.1" cy="214.9" r="1.58" fill="#a8e8d8" opacity="1.0"/>
<circle cx="50.6" cy="211.9" r="1.37" fill="#c8f0e0" opacity="1.0"/>
<circle cx="51.7" cy="207.7" r="1.58" fill="#a8e8d8" opacity="1.0"/>
<circle cx="46.4" cy="205.1" r="1.01" fill="#b0e0a0" opacity="1.0"/>
<circle cx="48.7" cy="212.8" r="0.98" fill="#a8e8d8" opacity="1.0"/>
<circle cx="46.3" cy="218.6" r="0.86" fill="#c0e040" opacity="1.0"/>
<circle cx="49.1" cy="214.3" r="1.31" fill="#c8f0e0" opacity="1.0"/>
<circle cx="49.5" cy="219.8" r="1.57" fill="#90d8c0" opacity="1.0"/>
<circle cx="50.8" cy="214.0" r="1.54" fill="#c8f0e0" opacity="1.0"/>
<circle cx="54.9" cy="215.9" r="1.13" fill="#b0e0a0" opacity="1.0"/>
<circle cx="47.9" cy="209.6" r="0.85" fill="#a8e8d8" opacity="1.0"/>
<circle cx="55.8" cy="213.6" r="0.83" fill="#c8f0e0" opacity="1.0"/>
<circle cx="54.1" cy="210.6" r="0.93" fill="#90d8c0" opacity="1.0"/>
<circle cx="56.3" cy="210.6" r="1.56" fill="#b0e0a0" opacity="1.0"/>
<circle cx="54.7" cy="217.9" r="1.24" fill="#c0e040" opacity="1.0"/>
<circle cx="50.5" cy="218.2" r="1.13" fill="#c8f0e0" opacity="1.0"/>
<circle cx="51.2" cy="207.0" r="1.39" fill="#a8e8d8" opacity="1.0"/>
<circle cx="49.2" cy="204.3" r="1.34" fill="#b0e0a0" opacity="1.0"/>
<circle cx="52.0" cy="213.6" r="1.47" fill="#90d8c0" opacity="1.0"/>
<circle cx="49.7" cy="214.3" r="1.38" fill="#c8f0e0" opacity="1.0"/>
<circle cx="50.0" cy="204.5" r="1.48" fill="#b0e0a0" opacity="1.0"/>
<circle cx="45.7" cy="211.7" r="0.99" fill="#c0e040" opacity="1.0"/>
<circle cx="56.0" cy="213.2" r="0.86" fill="#c0e040" opacity="1.0"/>
<circle cx="46.7" cy="215.4" r="1.38" fill="#90d8c0" opacity="1.0"/>
<circle cx="53.6" cy="217.7" r="1.40" fill="#a8e8d8" opacity="1.0"/>
<circle cx="49.2" cy="217.6" r="1.06" fill="#90d8c0" opacity="1.0"/>
<circle cx="46.4" cy="214.8" r="0.93" fill="#90d8c0" opacity="1.0"/>
<circle cx="49.2" cy="207.6" r="1.51" fill="#b0e0a0" opacity="1.0"/>
<circle cx="55.0" cy="216.5" r="1.14" fill="#90d8c0" opacity="1.0"/>
<circle cx="45.3" cy="212.8" r="1.16" fill="#b0e0a0" opacity="1.0"/>
<circle cx="57.1" cy="207.6" r="1.33" fill="#90d8c0" opacity="1.0"/>
<circle cx="56.3" cy="243.7" r="1.59" fill="#c0e040" opacity="1.0"/>
<circle cx="47.3" cy="228.3" r="1.43" fill="#90d850" opacity="1.0"/>
<circle cx="48.3" cy="224.7" r="1.16" fill="#c0e040" opacity="1.0"/>
<circle cx="42.7" cy="244.5" r="1.20" fill="#c0e040" opacity="1.0"/>
<circle cx="49.5" cy="238.1" r="1.06" fill="#c0e040" opacity="1.0"/>
<circle cx="44.4" cy="219.9" r="1.07" fill="#e0e020" opacity="1.0"/>
<circle cx="51.2" cy="244.2" r="1.06" fill="#a8d840" opacity="1.0"/>
<circle cx="55.2" cy="244.2" r="0.98" fill="#90d850" opacity="1.0"/>
<circle cx="50.5" cy="240.2" r="0.88" fill="#d8e840" opacity="1.0"/>
<circle cx="50.7" cy="230.6" r="1.34" fill="#e0e020" opacity="1.0"/>
<circle cx="54.2" cy="232.9" r="1.37" fill="#e8e830" opacity="1.0"/>
<circle cx="44.2" cy="222.0" r="0.80" fill="#c0e040" opacity="1.0"/>
<circle cx="50.4" cy="243.4" r="0.98" fill="#e8e830" opacity="1.0"/>
<circle cx="46.5" cy="228.6" r="0.99" fill="#90d850" opacity="1.0"/>
<circle cx="55.8" cy="230.8" r="0.92" fill="#e0e020" opacity="1.0"/>
<circle cx="42.8" cy="239.4" r="1.41" fill="#a8d840" opacity="1.0"/>
<circle cx="49.1" cy="227.5" r="0.84" fill="#3a48a8" opacity="1.0"/>
<circle cx="50.8" cy="243.6" r="0.87" fill="#c0e040" opacity="1.0"/>
<circle cx="41.9" cy="229.8" r="0.72" fill="#a8d840" opacity="1.0"/>
<circle cx="44.7" cy="219.3" r="0.92" fill="#3a48a8" opacity="1.0"/>
<circle cx="56.7" cy="233.0" r="1.69" fill="#3a48a8" opacity="1.0"/>
<circle cx="42.5" cy="219.4" r="1.49" fill="#d8e840" opacity="1.0"/>
<circle cx="44.2" cy="221.0" r="1.17" fill="#e0e020" opacity="1.0"/>
<circle cx="53.5" cy="230.9" r="1.00" fill="#c0e040" opacity="1.0"/>
<circle cx="42.7" cy="232.8" r="0.87" fill="#e8e830" opacity="1.0"/>
<circle cx="50.2" cy="225.2" r="0.80" fill="#e0e020" opacity="1.0"/>
<circle cx="55.9" cy="230.6" r="1.04" fill="#d8e840" opacity="1.0"/>
<circle cx="54.4" cy="242.3" r="1.39" fill="#d8e840" opacity="1.0"/>
<circle cx="42.1" cy="244.0" r="1.60" fill="#3a48a8" opacity="1.0"/>
<circle cx="44.9" cy="226.7" r="1.11" fill="#a8d840" opacity="1.0"/>
<circle cx="55.2" cy="234.9" r="0.75" fill="#90d850" opacity="1.0"/>
<circle cx="42.8" cy="235.4" r="1.03" fill="#e8e830" opacity="1.0"/>
<circle cx="53.0" cy="230.2" r="0.87" fill="#3a48a8" opacity="1.0"/>
<circle cx="42.3" cy="233.6" r="1.24" fill="#e0e020" opacity="1.0"/>
<circle cx="55.6" cy="243.9" r="1.50" fill="#3a48a8" opacity="1.0"/>
<circle cx="45.5" cy="227.8" r="0.72" fill="#e0e020" opacity="1.0"/>
<circle cx="53.4" cy="229.4" r="1.49" fill="#c0e040" opacity="1.0"/>
<circle cx="43.9" cy="230.7" r="1.12" fill="#c0e040" opacity="1.0"/>
<circle cx="47.9" cy="226.2" r="1.30" fill="#e8e830" opacity="1.0"/>
<circle cx="52.9" cy="223.6" r="1.23" fill="#90d850" opacity="1.0"/>
<circle cx="55.8" cy="221.2" r="1.58" fill="#a8d840" opacity="1.0"/>
<circle cx="55.7" cy="228.8" r="0.72" fill="#d8e840" opacity="1.0"/>
<circle cx="51.0" cy="226.6" r="1.02" fill="#90d850" opacity="1.0"/>
<circle cx="54.3" cy="226.1" r="1.63" fill="#e0e020" opacity="1.0"/>
<circle cx="47.4" cy="229.9" r="1.52" fill="#d8e840" opacity="1.0"/>
<circle cx="53.5" cy="242.0" r="1.24" fill="#3a48a8" opacity="1.0"/>
<circle cx="42.5" cy="224.6" r="0.96" fill="#a8d840" opacity="1.0"/>
<circle cx="43.4" cy="228.6" r="1.32" fill="#c0e040" opacity="1.0"/>
<circle cx="45.6" cy="239.0" r="0.71" fill="#c0e040" opacity="1.0"/>
<circle cx="45.3" cy="241.1" r="0.95" fill="#e8e830" opacity="1.0"/>
<circle cx="51.5" cy="220.1" r="1.51" fill="#90d850" opacity="1.0"/>
<circle cx="44.3" cy="233.7" r="1.32" fill="#a8d840" opacity="1.0"/>
<circle cx="42.5" cy="238.2" r="1.10" fill="#3a48a8" opacity="1.0"/>
<circle cx="47.0" cy="244.6" r="1.32" fill="#3a48a8" opacity="1.0"/>
<circle cx="51.8" cy="223.4" r="1.68" fill="#3a48a8" opacity="1.0"/>
<circle cx="44.0" cy="219.5" r="1.31" fill="#e0e020" opacity="1.0"/>
<circle cx="56.4" cy="226.7" r="1.60" fill="#90d850" opacity="1.0"/>
<circle cx="50.4" cy="239.0" r="1.52" fill="#e8e830" opacity="1.0"/>
<circle cx="53.5" cy="221.7" r="0.73" fill="#90d850" opacity="1.0"/>
<circle cx="42.5" cy="241.3" r="0.91" fill="#d8e840" opacity="1.0"/>
<circle cx="57.4" cy="238.7" r="0.92" fill="#e8e830" opacity="1.0"/>
<circle cx="55.2" cy="230.3" r="1.06" fill="#3a48a8" opacity="1.0"/>
<circle cx="44.6" cy="233.6" r="1.44" fill="#d8e840" opacity="1.0"/>
<circle cx="55.6" cy="244.5" r="1.68" fill="#e0e020" opacity="1.0"/>
<circle cx="46.9" cy="244.5" r="1.01" fill="#c0e040" opacity="1.0"/>
<circle cx="49.1" cy="228.1" r="0.91" fill="#3a48a8" opacity="1.0"/>
<circle cx="49.8" cy="224.5" r="1.11" fill="#c0e040" opacity="1.0"/>
<circle cx="41.7" cy="238.1" r="1.17" fill="#e0e020" opacity="1.0"/>
<circle cx="50.7" cy="229.8" r="0.95" fill="#90d850" opacity="1.0"/>
<circle cx="54.5" cy="229.4" r="1.07" fill="#d8e840" opacity="1.0"/>
<circle cx="57.0" cy="232.9" r="1.32" fill="#d8e840" opacity="1.0"/>
<circle cx="54.4" cy="223.7" r="1.14" fill="#e0e020" opacity="1.0"/>
<circle cx="51.9" cy="230.2" r="0.76" fill="#a8d840" opacity="1.0"/>
<circle cx="45.2" cy="238.2" r="1.12" fill="#90d850" opacity="1.0"/>
<circle cx="57.1" cy="238.3" r="1.41" fill="#3a48a8" opacity="1.0"/>
<circle cx="55.4" cy="237.7" r="0.84" fill="#c0e040" opacity="1.0"/>
<circle cx="53.4" cy="240.1" r="1.16" fill="#a8d840" opacity="1.0"/>
<circle cx="43.0" cy="220.8" r="1.17" fill="#e0e020" opacity="1.0"/>
<circle cx="57.2" cy="239.8" r="0.82" fill="#c0e040" opacity="1.0"/>
<circle cx="53.4" cy="234.8" r="1.23" fill="#e0e020" opacity="1.0"/>
<circle cx="55.1" cy="239.4" r="1.01" fill="#3a48a8" opacity="1.0"/>
<circle cx="45.7" cy="231.8" r="1.25" fill="#a8d840" opacity="1.0"/>
<circle cx="49.9" cy="227.8" r="1.44" fill="#e0e020" opacity="1.0"/>
<circle cx="54.0" cy="233.8" r="1.60" fill="#e0e020" opacity="1.0"/>
<circle cx="42.0" cy="239.3" r="0.84" fill="#c0e040" opacity="1.0"/>
<circle cx="52.5" cy="227.1" r="0.95" fill="#a8d840" opacity="1.0"/>
<circle cx="50.6" cy="240.6" r="1.66" fill="#c0e040" opacity="1.0"/>
<circle cx="52.9" cy="243.9" r="1.33" fill="#e8e830" opacity="1.0"/>
<circle cx="45.4" cy="233.2" r="1.12" fill="#3a48a8" opacity="1.0"/>
<circle cx="51.7" cy="241.8" r="0.90" fill="#3a48a8" opacity="1.0"/>
<circle cx="51.9" cy="236.6" r="1.36" fill="#e0e020" opacity="1.0"/>
<circle cx="43.9" cy="224.7" r="0.76" fill="#3a48a8" opacity="1.0"/>
<circle cx="55.8" cy="225.8" r="1.63" fill="#e8e830" opacity="1.0"/>
<circle cx="54.4" cy="238.7" r="1.27" fill="#e8e830" opacity="1.0"/>
<circle cx="48.0" cy="220.2" r="0.72" fill="#e0e020" opacity="1.0"/>
<circle cx="53.0" cy="253.2" r="0.85" fill="#c0e040" opacity="1.0"/>
<circle cx="45.0" cy="251.4" r="0.77" fill="#c0e040" opacity="1.0"/>
<circle cx="54.5" cy="247.1" r="1.44" fill="#a8e8d8" opacity="1.0"/>
<circle cx="48.8" cy="253.5" r="1.49" fill="#a8e8d8" opacity="1.0"/>
<circle cx="49.6" cy="253.3" r="1.25" fill="#80d0c0" opacity="1.0"/>
<circle cx="56.8" cy="244.9" r="1.31" fill="#3a48a8" opacity="1.0"/>
<circle cx="44.4" cy="247.6" r="0.94" fill="#3a48a8" opacity="1.0"/>
<circle cx="52.1" cy="251.3" r="0.73" fill="#c0e040" opacity="1.0"/>
<circle cx="46.9" cy="253.8" r="0.76" fill="#a8e8d8" opacity="1.0"/>
<circle cx="45.8" cy="250.6" r="0.82" fill="#80d0c0" opacity="1.0"/>
<circle cx="55.3" cy="246.9" r="1.29" fill="#c0e040" opacity="1.0"/>
<circle cx="43.5" cy="249.4" r="0.82" fill="#c0e040" opacity="1.0"/>
<circle cx="47.0" cy="246.2" r="1.18" fill="#c0e040" opacity="1.0"/>
<circle cx="49.4" cy="246.9" r="1.11" fill="#c0e040" opacity="1.0"/>
<circle cx="50.2" cy="246.7" r="1.20" fill="#90d850" opacity="1.0"/>
<circle cx="46.9" cy="250.0" r="0.88" fill="#c0e040" opacity="1.0"/>
<circle cx="54.3" cy="248.4" r="1.08" fill="#90d850" opacity="1.0"/>
<circle cx="45.9" cy="246.0" r="1.16" fill="#80d0c0" opacity="1.0"/>
<circle cx="47.3" cy="253.7" r="1.42" fill="#a8e8d8" opacity="1.0"/>
<circle cx="46.8" cy="248.9" r="1.31" fill="#a8e8d8" opacity="1.0"/>
<circle cx="43.3" cy="247.6" r="1.03" fill="#80d0c0" opacity="1.0"/>
<circle cx="50.4" cy="250.3" r="1.03" fill="#80d0c0" opacity="1.0"/>
<circle cx="55.0" cy="247.1" r="1.00" fill="#c0e040" opacity="1.0"/>
<circle cx="47.2" cy="254.0" r="1.34" fill="#a8e8d8" opacity="1.0"/>
<circle cx="56.1" cy="254.2" r="0.71" fill="#80d0c0" opacity="1.0"/>
<circle cx="48.2" cy="248.3" r="0.93" fill="#80d0c0" opacity="1.0"/>
<circle cx="47.9" cy="252.4" r="0.95" fill="#a8e8d8" opacity="1.0"/>
<circle cx="48.2" cy="244.2" r="1.07" fill="#a8e8d8" opacity="1.0"/>
<circle cx="44.6" cy="246.5" r="0.80" fill="#3a48a8" opacity="1.0"/>
<circle cx="45.3" cy="248.9" r="0.84" fill="#a8e8d8" opacity="1.0"/>
<circle cx="43.7" cy="244.9" r="0.89" fill="#a8e8d8" opacity="1.0"/>
<circle cx="50.6" cy="251.7" r="0.74" fill="#90d850" opacity="1.0"/>
<circle cx="54.3" cy="245.1" r="0.85" fill="#c0e040" opacity="1.0"/>
<circle cx="54.1" cy="252.4" r="1.18" fill="#3a48a8" opacity="1.0"/>
<circle cx="49.7" cy="251.7" r="0.90" fill="#80d0c0" opacity="1.0"/>
<polygon points="56,201 60,199.8 64,200.5 68,199.8 71,201.5 72.5,206 71.8,214 72.8,222 72,232 72.6,242 71.5,250 70,256 66,256.5 62,257.5 57,256.5" fill="#1c34f4"/>
<circle cx="72.1" cy="207.9" r="0.62" fill="#1028e8" opacity="1.0"/>
<circle cx="59.1" cy="206.8" r="1.12" fill="#1028e8" opacity="1.0"/>
<circle cx="69.3" cy="204.4" r="0.82" fill="#2444f8" opacity="1.0"/>
<circle cx="61.4" cy="234.5" r="1.35" fill="#3050f8" opacity="1.0"/>
<circle cx="68.3" cy="224.6" r="1.31" fill="#3050f8" opacity="1.0"/>
<circle cx="70.8" cy="233.8" r="0.85" fill="#2444f8" opacity="1.0"/>
<circle cx="59.0" cy="206.2" r="1.02" fill="#3050f8" opacity="1.0"/>
<circle cx="69.0" cy="255.3" r="1.05" fill="#3050f8" opacity="1.0"/>
<circle cx="61.5" cy="219.1" r="0.75" fill="#1028e8" opacity="1.0"/>
<circle cx="61.2" cy="244.9" r="1.36" fill="#3050f8" opacity="1.0"/>
<circle cx="64.7" cy="215.9" r="0.82" fill="#3050f8" opacity="1.0"/>
<circle cx="59.1" cy="202.6" r="1.03" fill="#2444f8" opacity="1.0"/>
<circle cx="63.0" cy="214.3" r="0.83" fill="#1028e8" opacity="1.0"/>
<circle cx="62.7" cy="253.1" r="0.75" fill="#3050f8" opacity="1.0"/>
<circle cx="62.3" cy="233.4" r="0.84" fill="#3050f8" opacity="1.0"/>
<circle cx="65.4" cy="230.2" r="1.21" fill="#3050f8" opacity="1.0"/>
<circle cx="63.2" cy="205.0" r="0.95" fill="#2444f8" opacity="1.0"/>
<circle cx="63.3" cy="223.0" r="1.34" fill="#2444f8" opacity="1.0"/>
<circle cx="64.6" cy="222.9" r="0.68" fill="#2444f8" opacity="1.0"/>
<circle cx="58.9" cy="231.3" r="0.88" fill="#1028e8" opacity="1.0"/>
<circle cx="71.3" cy="236.1" r="0.95" fill="#2444f8" opacity="1.0"/>
<circle cx="65.0" cy="245.7" r="1.12" fill="#2444f8" opacity="1.0"/>
<circle cx="67.0" cy="205.6" r="0.76" fill="#2444f8" opacity="1.0"/>
<circle cx="69.9" cy="252.9" r="0.97" fill="#2444f8" opacity="1.0"/>
<circle cx="64.4" cy="230.0" r="1.07" fill="#3050f8" opacity="1.0"/>
<circle cx="68.5" cy="227.1" r="1.18" fill="#3050f8" opacity="1.0"/>
<circle cx="68.0" cy="254.9" r="0.69" fill="#3050f8" opacity="1.0"/>
<circle cx="60.3" cy="206.7" r="0.75" fill="#1028e8" opacity="1.0"/>
<circle cx="66.7" cy="219.5" r="0.74" fill="#3050f8" opacity="1.0"/>
<circle cx="66.0" cy="240.2" r="0.74" fill="#2444f8" opacity="1.0"/>
<circle cx="72.2" cy="220.1" r="0.69" fill="#2444f8" opacity="1.0"/>
<circle cx="65.0" cy="227.9" r="0.65" fill="#2444f8" opacity="1.0"/>
<circle cx="60.6" cy="205.4" r="0.98" fill="#2444f8" opacity="1.0"/>
<circle cx="62.8" cy="206.6" r="1.33" fill="#3050f8" opacity="1.0"/>
<circle cx="70.0" cy="202.0" r="0.90" fill="#3050f8" opacity="1.0"/>
<circle cx="56.6" cy="211.5" r="0.99" fill="#1028e8" opacity="1.0"/>
<circle cx="56.8" cy="239.5" r="0.94" fill="#1028e8" opacity="1.0"/>
<circle cx="60.2" cy="213.1" r="0.81" fill="#2444f8" opacity="1.0"/>
<circle cx="71.6" cy="232.5" r="0.74" fill="#3050f8" opacity="1.0"/>
<circle cx="61.4" cy="201.5" r="0.73" fill="#1028e8" opacity="1.0"/>
</g></svg>
<rect x="109.3" y="194.4" width="3.1" height="72.5" fill="url(#cbI)"/>
<rect x="7.6" y="260.1" width="9" height="1.5" fill="#cce860"/>
<g filter="url(#b05)">
<rect x="16.3" y="64" width="0.80" height="14.00" fill="#28c4d8" opacity="0.9"/>
<rect x="24.3" y="36" width="7.20" height="41.80" fill="#7a3cc0" opacity="0.35"/>
<rect x="24.8" y="64" width="3.00" height="13.50" fill="#c828b4" opacity="0.7"/>
<rect x="100" y="30" width="2.00" height="10.50" fill="#c828b4" opacity="0.8"/>
<rect x="96" y="35" width="3.50" height="9.00" fill="#28c4d8" opacity="0.5"/>
<rect x="60" y="72" width="2.00" height="5.80" fill="#c828b4" opacity="0.5"/>
<rect x="40" y="74" width="3.00" height="3.80" fill="#c828b4" opacity="0.6"/>
<rect x="23.6" y="101.4" width="3.70" height="10.10" fill="#c828b4" opacity="0.85"/>
<rect x="27.3" y="101.4" width="4.50" height="5.60" fill="#28c4d8" opacity="0.8"/>
<rect x="42.7" y="101.4" width="5.50" height="10.10" fill="#7a3cc0" opacity="0.6"/>
<rect x="50" y="101.4" width="2.70" height="6.60" fill="#28c4d8" opacity="0.7"/>
<rect x="52.7" y="101.4" width="3.70" height="9.60" fill="#c828b4" opacity="0.8"/>
<rect x="56.4" y="101.4" width="3.60" height="9.60" fill="#3090d0" opacity="0.6"/>
<rect x="82.7" y="101.4" width="2.80" height="12.60" fill="#c828b4" opacity="0.6"/>
<rect x="85.5" y="101.4" width="1.80" height="10.60" fill="#28c4d8" opacity="0.6"/>
<rect x="23.6" y="133.5" width="10.00" height="7.00" fill="#c828b4" opacity="0.6"/>
<rect x="21.8" y="127.8" width="7.20" height="4.60" fill="#28c4d8" opacity="0.6"/>
<rect x="9" y="129" width="9.00" height="3.50" fill="#7a3cc0" opacity="0.4"/>
<rect x="49" y="112" width="1.00" height="11.00" fill="#28c4d8" opacity="0.5"/>
<rect x="59.3" y="198" width="1.30" height="9.00" fill="#c828b4" opacity="0.8"/>
<circle cx="7.5" cy="236" r="1.5" fill="#c828b4" opacity="0.8"/>
<ellipse cx="6.2" cy="108.6" rx="1.6" ry="2.8" fill="#e01890" opacity="0.9"/>
<rect x="7.6" y="98" width="1.10" height="4.00" fill="#28c4d8" opacity="0.8"/>
</g>
<text x="6.8" y="12.9" font-size="8.6" fill="#fff" text-anchor="start" font-weight="normal" >a)</text>
<text x="5.6" y="49.9" font-size="9" fill="#fff" text-anchor="start" font-weight="normal"  textLength="17.6" lengthAdjust="spacingAndGlyphs">B-A1</text>
<text x="85.4" y="49.9" font-size="9" fill="#fff" text-anchor="start" font-weight="normal"  textLength="17.4" lengthAdjust="spacingAndGlyphs">B-B1</text>
<text x="7.4" y="110.5" font-size="8.4" fill="#fff" text-anchor="start" font-weight="normal" >e)</text>
<text x="5.6" y="141.6" font-size="9" fill="#fff" text-anchor="start" font-weight="normal"  textLength="17.2" lengthAdjust="spacingAndGlyphs">B-B1</text>
<text x="76.7" y="141.8" font-size="9" fill="#fff" text-anchor="start" font-weight="normal"  textLength="17.6" lengthAdjust="spacingAndGlyphs">B-C1</text>
<text x="9.6" y="206.3" font-size="9.4" fill="#fff" text-anchor="start" font-weight="normal" >i)</text>
<text x="11.5" y="231.8" font-size="9.4" fill="#fff" text-anchor="start" font-weight="normal"  textLength="18.2" lengthAdjust="spacingAndGlyphs">B-C1</text>
<text x="78.5" y="231.8" font-size="9.4" fill="#fff" text-anchor="start" font-weight="normal"  textLength="17.9" lengthAdjust="spacingAndGlyphs">B-D1</text>
<text x="113.6" y="11" font-size="8.4" fill="#222" text-anchor="start" font-weight="normal" stroke="#222" stroke-width="0.25">4.5</text>
<text x="113.2" y="76.8" font-size="8.4" fill="#222" text-anchor="start" font-weight="normal" stroke="#222" stroke-width="0.25">2.0</text>
<text x="111.3" y="108.2" font-size="8.4" fill="#222" text-anchor="start" font-weight="normal" stroke="#222" stroke-width="0.25">6.0</text>
<text x="111.3" y="174.4" font-size="8.4" fill="#222" text-anchor="start" font-weight="normal" stroke="#222" stroke-width="0.25">2.0</text>
<text x="114.8" y="200.6" font-size="8.4" fill="#222" text-anchor="start" font-weight="normal" stroke="#222" stroke-width="0.25">6.0</text>
<text x="115" y="265.6" font-size="8.4" fill="#222" text-anchor="start" font-weight="normal" stroke="#222" stroke-width="0.25">1.2</text>
<rect x="0" y="95.5" width="24.00" height="5.90" fill="#e2fbfb" opacity="1"/>
<rect x="24" y="95.5" width="3.50" height="5.90" fill="#fbdcf3" opacity="1"/>
<rect x="27.5" y="95.5" width="3.50" height="5.90" fill="#bff5f5" opacity="1"/>
<rect x="31" y="95.5" width="7.00" height="5.90" fill="#fde9f8" opacity="1"/>
<rect x="38" y="95.5" width="4.00" height="5.90" fill="#bff5f5" opacity="1"/>
<rect x="42" y="95.5" width="6.00" height="5.90" fill="#fde9f8" opacity="1"/>
<rect x="48" y="95.5" width="3.00" height="5.90" fill="#bff5f5" opacity="1"/>
<rect x="51" y="95.5" width="5.00" height="5.90" fill="#fbdcf3" opacity="1"/>
<rect x="56" y="95.5" width="48.00" height="5.90" fill="#e2fbfb" opacity="1"/>
<rect x="60" y="95.5" width="4.00" height="5.90" fill="#bff5f5" opacity="1"/>
<rect x="84" y="95.5" width="4.00" height="5.90" fill="#fbdcf3" opacity="1"/>
<rect x="0" y="77.8" width="104.00" height="2.20" fill="#e2fbfb" opacity="1"/>
<rect x="67" y="81" width="8.00" height="5.00" fill="#bff5f5" opacity="1"/>
<rect x="74" y="86" width="8.00" height="5.00" fill="#fde9f8" opacity="1"/>
<rect x="80" y="88" width="8.00" height="6.00" fill="#fbdcf3" opacity="1"/>
<rect x="191.9" y="16.3" width="15.60" height="15.60" fill="#fbdcf3" opacity="1"/>
<rect x="207.5" y="16.3" width="8.30" height="7.20" fill="#bff5f5" opacity="1"/>
<rect x="208.5" y="23.5" width="6.30" height="8.40" fill="#fbdcf3" opacity="1"/>
<rect x="188.8" y="29.8" width="3.20" height="2.10" fill="#bff5f5" opacity="1"/>
<rect x="192" y="29.5" width="4.00" height="2.40" fill="#bff5f5" opacity="1"/>
<rect x="175.2" y="47.5" width="4.20" height="16.70" fill="#fbdcf3" opacity="1"/>
<rect x="178.3" y="47.5" width="5.20" height="15.50" fill="#bff5f5" opacity="1"/>
<rect x="183.5" y="47.5" width="8.40" height="16.70" fill="#fde9f8" opacity="1"/>
<rect x="191.9" y="47.5" width="7.30" height="15.50" fill="#bff5f5" opacity="1"/>
<rect x="199.2" y="47.5" width="2.10" height="16.70" fill="#fbdcf3" opacity="1"/>
<rect x="201.3" y="47.5" width="6.20" height="15.50" fill="#e2fbfb" opacity="1"/>
<rect x="207.5" y="47.5" width="8.50" height="16.70" fill="#fbdcf3" opacity="1"/>
<rect x="208.5" y="52" width="7.30" height="11.00" fill="#bff5f5" opacity="1"/>
<rect x="167.2" y="80" width="2.30" height="15.50" fill="#fbdcf3" opacity="1"/>
<rect x="169.5" y="80" width="8.30" height="15.50" fill="#e2fbfb" opacity="1"/>
<rect x="183.7" y="80" width="5.90" height="15.50" fill="#bff5f5" opacity="1"/>
<rect x="189.6" y="80" width="2.40" height="15.50" fill="#fbdcf3" opacity="1"/>
<rect x="207.4" y="80" width="3.60" height="15.50" fill="#fbdcf3" opacity="1"/>
<rect x="211" y="80" width="4.60" height="17.00" fill="#bff5f5" opacity="1"/>
<rect x="255.8" y="80" width="2.40" height="14.00" fill="#fde9f8" opacity="1"/>
<rect x="159.7" y="112.4" width="2.30" height="14.60" fill="#fbdcf3" opacity="1"/>
<rect x="162" y="112.4" width="5.60" height="14.60" fill="#e2fbfb" opacity="1"/>
<rect x="175.5" y="111.3" width="6.70" height="15.70" fill="#bff5f5" opacity="1"/>
<rect x="181" y="111.3" width="3.50" height="15.70" fill="#fbdcf3" opacity="1"/>
<rect x="200.3" y="111.3" width="5.70" height="15.70" fill="#fbdcf3" opacity="1"/>
<rect x="204.8" y="111.3" width="3.40" height="8.70" fill="#bff5f5" opacity="1"/>
<rect x="206" y="120" width="6.70" height="7.00" fill="#fbdcf3" opacity="1"/>
<rect x="208.2" y="111.3" width="7.80" height="15.70" fill="#e2fbfb" opacity="1"/>
<rect x="151.8" y="144" width="23.70" height="10.50" fill="#bff5f5" opacity="1"/>
<rect x="151.8" y="154.5" width="23.70" height="5.50" fill="#fbdcf3" opacity="1"/>
<rect x="175.5" y="144" width="9.00" height="6.80" fill="#fbdcf3" opacity="1"/>
<rect x="175.5" y="150.8" width="9.00" height="7.90" fill="#bff5f5" opacity="1"/>
<rect x="184.5" y="144" width="22.50" height="10.00" fill="#fde9f8" opacity="1"/>
<rect x="184.5" y="154" width="22.50" height="4.70" fill="#bff5f5" opacity="1"/>
<rect x="207" y="144" width="3.50" height="14.70" fill="#bff5f5" opacity="1"/>
<rect x="210.5" y="144" width="3.50" height="14.70" fill="#fde9f8" opacity="1"/>
<rect x="234" y="180" width="21.00" height="10.00" fill="#e2fbfb" opacity="1"/>
<rect x="470" y="0" width="18.00" height="4.30" fill="#bff5f5" opacity="1"/>
<rect x="488" y="0" width="8.00" height="4.30" fill="#fbdcf3" opacity="1"/>
<rect x="464" y="76" width="23.00" height="2.80" fill="#bff5f5" opacity="1"/>
<rect x="495" y="76" width="23.60" height="2.80" fill="#fbdcf3" opacity="1"/>
<rect x="456" y="171.4" width="25.80" height="3.60" fill="#fbdcf3" opacity="1"/>
<rect x="481.8" y="171.4" width="23.20" height="3.60" fill="#bff5f5" opacity="1"/>
<rect x="271.5" y="7" width="4.50" height="93.00" fill="#f0fcfc" opacity="1"/>
<rect x="267" y="7" width="4.50" height="93.00" fill="#fef4fb" opacity="1"/>
<rect x="152" y="261" width="29.00" height="4.30" fill="#fde9f8" opacity="1"/>
<rect x="168" y="258" width="10.00" height="7.30" fill="#e2fbfb" opacity="1"/>
<rect x="252.7" y="254" width="7.30" height="4.00" fill="#bff5f5" opacity="1"/>
<rect x="127.3" y="271.5" width="6.70" height="6.50" fill="#bff5f5" opacity="1"/>
<rect x="127.3" y="276" width="14.50" height="12.00" fill="#fbdcf3" opacity="1"/>
<rect x="134" y="271.5" width="7.80" height="4.50" fill="#fde9f8" opacity="1"/>
<rect x="142.5" y="270" width="1.50" height="18.00" fill="#bff5f5" opacity="1"/>
<rect x="160" y="270" width="2.20" height="18.00" fill="#bff5f5" opacity="1"/>
<rect x="162.2" y="270" width="5.80" height="18.00" fill="#fbdcf3" opacity="1"/>
<rect x="234.5" y="271" width="11.00" height="17.00" fill="#e2fbfb" opacity="1"/>
<rect x="245.5" y="271" width="10.50" height="17.00" fill="#fde9f8" opacity="1"/>
<rect x="256" y="271" width="6.00" height="17.00" fill="#bff5f5" opacity="1"/>
<rect x="262" y="271" width="18.00" height="17.00" fill="#fde9f8" opacity="1"/>
<rect x="266" y="274" width="8.00" height="14.00" fill="#e2fbfb" opacity="1"/>
<rect x="0" y="267" width="30.00" height="10.00" fill="#bff5f5" opacity="1"/>
<rect x="0" y="277" width="48.00" height="11.00" fill="#fde9f8" opacity="1"/>
<rect x="30" y="270" width="18.00" height="10.00" fill="#fde9f8" opacity="1"/>
<rect x="124.7" y="275" width="2.60" height="13.00" fill="#e2fbfb" opacity="1"/>
<rect x="240" y="175" width="40.00" height="7.00" fill="#fde9f8" opacity="1"/>
<rect x="235.5" y="182" width="44.50" height="11.00" fill="#e2fbfb" opacity="1"/>
<rect x="151.8" y="240.4" width="16.00" height="8.40" fill="#fbdcf3" opacity="1"/>
<rect x="167.8" y="240.4" width="8.20" height="24.30" fill="#fde9f8" opacity="1"/>
<rect x="151" y="249.4" width="18.90" height="7.00" fill="#bff5f5" opacity="1"/>
<rect x="156.7" y="256.4" width="6.30" height="3.60" fill="#bff5f5" opacity="1"/>
<rect x="146.3" y="250" width="4.70" height="6.40" fill="#fbdcf3" opacity="1"/>
<rect x="144.3" y="240.4" width="7.50" height="9.00" fill="#d8f8ec" opacity="1"/>
<rect x="168" y="260" width="3.00" height="4.00" fill="#bff5f5" opacity="1"/>
<rect x="266" y="232" width="6.00" height="18.00" fill="#fde9f8" opacity="1"/>
<rect x="267" y="234" width="3.00" height="12.00" fill="#e2fbfb" opacity="1"/>
<rect x="57" y="192.4" width="6.60" height="3.60" fill="#bff5f5" opacity="1"/>
<rect x="104" y="192" width="3.00" height="4.00" fill="#fbdcf3" opacity="1"/>
<path d="M195.5,31.9 L195.5,25.5 Q196,21.5 200,21.3 Q204.5,21.5 205,25 L206,28 L207.5,31.9 Z" fill="#bff5f5"/>
<path d="M208.5,31.9 L208.5,27 Q209.5,24.5 212,26 L214.8,31.9 Z" fill="#bff5f5" opacity="0.6"/>
<path d="M207.5,64.2 L207.5,55 Q209,51.5 211.5,53 Q213.5,55 214,58 L216,64.2 Z" fill="#bff5f5"/>
<rect x="209.0" y="65.5" width="2.60" height="2.20" fill="#bff5f5" opacity="1"/>
<rect x="211.0" y="66.8" width="2.60" height="2.20" fill="#bff5f5" opacity="1"/>
<rect x="213.0" y="68.1" width="2.60" height="2.20" fill="#bff5f5" opacity="1"/>
<rect x="215.0" y="69.4" width="2.60" height="2.20" fill="#bff5f5" opacity="1"/>
<rect x="217.0" y="70.7" width="2.60" height="2.20" fill="#bff5f5" opacity="1"/>
<rect x="219.0" y="72.0" width="2.60" height="2.20" fill="#bff5f5" opacity="1"/>
<rect x="221.0" y="73.3" width="2.60" height="2.20" fill="#bff5f5" opacity="1"/>
<rect x="223.0" y="74.6" width="2.60" height="2.20" fill="#bff5f5" opacity="1"/>
<rect x="217.0" y="70.0" width="2.20" height="2.00" fill="#fbdcf3" opacity="1"/>
<rect x="218.8" y="71.2" width="2.20" height="2.00" fill="#fbdcf3" opacity="1"/>
<rect x="220.6" y="72.4" width="2.20" height="2.00" fill="#fbdcf3" opacity="1"/>
<rect x="222.4" y="73.6" width="2.20" height="2.00" fill="#fbdcf3" opacity="1"/>
<rect x="224.2" y="74.8" width="2.20" height="2.00" fill="#fbdcf3" opacity="1"/>
<line x1="166.82" y1="6.4" x2="166.82" y2="76" stroke="#eeeeee" stroke-width="0.5"/>
<line x1="189.24" y1="6.4" x2="189.24" y2="76" stroke="#eeeeee" stroke-width="0.5"/>
<line x1="211.66" y1="6.4" x2="211.66" y2="76" stroke="#eeeeee" stroke-width="0.5"/>
<line x1="234.08" y1="6.4" x2="234.08" y2="76" stroke="#eeeeee" stroke-width="0.5"/>
<line x1="144.4" y1="52.80" x2="256.5" y2="52.80" stroke="#eeeeee" stroke-width="0.5"/>
<line x1="144.4" y1="29.60" x2="256.5" y2="29.60" stroke="#eeeeee" stroke-width="0.5"/>
<rect x="144.4" y="6.4" width="112.1" height="69.6" fill="none" stroke="#d0d0d0" stroke-width="0.6"/>
<path d="M144.4,76 A56.05,58.0 0 0 1 256.5,76" fill="none" stroke="#b8b8b8" stroke-width="0.7"/>
<text x="144.40" y="84.80" font-size="6.5" fill="#555" text-anchor="middle" font-weight="normal" >0</text>
<text x="166.82" y="84.80" font-size="6.5" fill="#555" text-anchor="middle" font-weight="normal" >0.2</text>
<text x="189.24" y="84.80" font-size="6.5" fill="#555" text-anchor="middle" font-weight="normal" >0.4</text>
<text x="211.66" y="84.80" font-size="6.5" fill="#555" text-anchor="middle" font-weight="normal" >0.6</text>
<text x="234.08" y="84.80" font-size="6.5" fill="#555" text-anchor="middle" font-weight="normal" >0.8</text>
<text x="256.50" y="84.80" font-size="6.5" fill="#555" text-anchor="middle" font-weight="normal" >1</text>
<text x="142.90" y="78.30" font-size="6.5" fill="#555" text-anchor="end" font-weight="normal" >0</text>
<text x="142.90" y="55.10" font-size="6.5" fill="#555" text-anchor="end" font-weight="normal" >0.2</text>
<text x="142.90" y="31.90" font-size="6.5" fill="#555" text-anchor="end" font-weight="normal" >0.4</text>
<text x="142.90" y="8.70" font-size="6.5" fill="#555" text-anchor="end" font-weight="normal" >0.6</text>
<text x="146.70000000000002" y="14.100000000000001" font-size="7.6" fill="#1a1a1a" text-anchor="start" font-weight="bold" >b)</text>
<line x1="307.56" y1="6.4" x2="307.56" y2="77.5" stroke="#eeeeee" stroke-width="0.5"/>
<line x1="331.72" y1="6.4" x2="331.72" y2="77.5" stroke="#eeeeee" stroke-width="0.5"/>
<line x1="355.88" y1="6.4" x2="355.88" y2="77.5" stroke="#eeeeee" stroke-width="0.5"/>
<line x1="380.04" y1="6.4" x2="380.04" y2="77.5" stroke="#eeeeee" stroke-width="0.5"/>
<line x1="283.4" y1="53.80" x2="404.2" y2="53.80" stroke="#eeeeee" stroke-width="0.5"/>
<line x1="283.4" y1="30.10" x2="404.2" y2="30.10" stroke="#eeeeee" stroke-width="0.5"/>
<rect x="283.4" y="6.4" width="120.80000000000001" height="71.1" fill="none" stroke="#d0d0d0" stroke-width="0.6"/>
<text x="283.40" y="86.70" font-size="6.5" fill="#555" text-anchor="middle" font-weight="normal" >0</text>
<text x="307.56" y="86.70" font-size="6.5" fill="#555" text-anchor="middle" font-weight="normal" >0.2</text>
<text x="331.72" y="86.70" font-size="6.5" fill="#555" text-anchor="middle" font-weight="normal" >0.4</text>
<text x="355.88" y="86.70" font-size="6.5" fill="#555" text-anchor="middle" font-weight="normal" >0.6</text>
<text x="380.04" y="86.70" font-size="6.5" fill="#555" text-anchor="middle" font-weight="normal" >0.8</text>
<text x="404.20" y="86.70" font-size="6.5" fill="#555" text-anchor="middle" font-weight="normal" >1</text>
<text x="281.90" y="79.80" font-size="6.5" fill="#555" text-anchor="end" font-weight="normal" >0</text>
<text x="281.90" y="56.10" font-size="6.5" fill="#555" text-anchor="end" font-weight="normal" >0.2</text>
<text x="281.90" y="32.40" font-size="6.5" fill="#555" text-anchor="end" font-weight="normal" >0.4</text>
<text x="281.90" y="8.70" font-size="6.5" fill="#555" text-anchor="end" font-weight="normal" >0.6</text>
<text x="285.7" y="14.100000000000001" font-size="7.6" fill="#1a1a1a" text-anchor="start" font-weight="bold" >c)</text>
<line x1="168.40" y1="101" x2="168.40" y2="172.4" stroke="#eeeeee" stroke-width="0.5"/>
<line x1="190.80" y1="101" x2="190.80" y2="172.4" stroke="#eeeeee" stroke-width="0.5"/>
<line x1="213.20" y1="101" x2="213.20" y2="172.4" stroke="#eeeeee" stroke-width="0.5"/>
<line x1="235.60" y1="101" x2="235.60" y2="172.4" stroke="#eeeeee" stroke-width="0.5"/>
<line x1="146" y1="148.60" x2="258" y2="148.60" stroke="#eeeeee" stroke-width="0.5"/>
<line x1="146" y1="124.80" x2="258" y2="124.80" stroke="#eeeeee" stroke-width="0.5"/>
<rect x="146" y="101" width="112" height="71.4" fill="none" stroke="#d0d0d0" stroke-width="0.6"/>
<path d="M146,172.4 A56.0,59.50000000000001 0 0 1 258,172.4" fill="none" stroke="#b8b8b8" stroke-width="0.7"/>
<text x="146.00" y="180.10" font-size="6.5" fill="#555" text-anchor="middle" font-weight="normal" >0</text>
<text x="168.40" y="180.10" font-size="6.5" fill="#555" text-anchor="middle" font-weight="normal" >0.2</text>
<text x="190.80" y="180.10" font-size="6.5" fill="#555" text-anchor="middle" font-weight="normal" >0.4</text>
<text x="213.20" y="180.10" font-size="6.5" fill="#555" text-anchor="middle" font-weight="normal" >0.6</text>
<text x="235.60" y="180.10" font-size="6.5" fill="#555" text-anchor="middle" font-weight="normal" >0.8</text>
<text x="258.00" y="180.10" font-size="6.5" fill="#555" text-anchor="middle" font-weight="normal" >1</text>
<text x="144.50" y="174.70" font-size="6.5" fill="#555" text-anchor="end" font-weight="normal" >0</text>
<text x="144.50" y="150.90" font-size="6.5" fill="#555" text-anchor="end" font-weight="normal" >0.2</text>
<text x="144.50" y="127.10" font-size="6.5" fill="#555" text-anchor="end" font-weight="normal" >0.4</text>
<text x="144.50" y="103.30" font-size="6.5" fill="#555" text-anchor="end" font-weight="normal" >0.6</text>
<text x="148.3" y="108.7" font-size="7.6" fill="#1a1a1a" text-anchor="start" font-weight="bold" >f)</text>
<line x1="308.24" y1="100.3" x2="308.24" y2="173.5" stroke="#eeeeee" stroke-width="0.5"/>
<line x1="332.18" y1="100.3" x2="332.18" y2="173.5" stroke="#eeeeee" stroke-width="0.5"/>
<line x1="356.12" y1="100.3" x2="356.12" y2="173.5" stroke="#eeeeee" stroke-width="0.5"/>
<line x1="380.06" y1="100.3" x2="380.06" y2="173.5" stroke="#eeeeee" stroke-width="0.5"/>
<line x1="284.3" y1="149.10" x2="404" y2="149.10" stroke="#eeeeee" stroke-width="0.5"/>
<line x1="284.3" y1="124.70" x2="404" y2="124.70" stroke="#eeeeee" stroke-width="0.5"/>
<rect x="284.3" y="100.3" width="119.69999999999999" height="73.2" fill="none" stroke="#d0d0d0" stroke-width="0.6"/>
<text x="284.30" y="181.70" font-size="6.5" fill="#555" text-anchor="middle" font-weight="normal" >0</text>
<text x="308.24" y="181.70" font-size="6.5" fill="#555" text-anchor="middle" font-weight="normal" >0.2</text>
<text x="332.18" y="181.70" font-size="6.5" fill="#555" text-anchor="middle" font-weight="normal" >0.4</text>
<text x="356.12" y="181.70" font-size="6.5" fill="#555" text-anchor="middle" font-weight="normal" >0.6</text>
<text x="380.06" y="181.70" font-size="6.5" fill="#555" text-anchor="middle" font-weight="normal" >0.8</text>
<text x="404.00" y="181.70" font-size="6.5" fill="#555" text-anchor="middle" font-weight="normal" >1</text>
<text x="282.80" y="175.80" font-size="6.5" fill="#555" text-anchor="end" font-weight="normal" >0</text>
<text x="282.80" y="151.40" font-size="6.5" fill="#555" text-anchor="end" font-weight="normal" >0.2</text>
<text x="282.80" y="127.00" font-size="6.5" fill="#555" text-anchor="end" font-weight="normal" >0.4</text>
<text x="282.80" y="102.60" font-size="6.5" fill="#555" text-anchor="end" font-weight="normal" >0.6</text>
<text x="286.6" y="108.0" font-size="7.6" fill="#1a1a1a" text-anchor="start" font-weight="bold" >g)</text>
<line x1="166.84" y1="193.4" x2="166.84" y2="265.5" stroke="#eeeeee" stroke-width="0.5"/>
<line x1="189.58" y1="193.4" x2="189.58" y2="265.5" stroke="#eeeeee" stroke-width="0.5"/>
<line x1="212.32" y1="193.4" x2="212.32" y2="265.5" stroke="#eeeeee" stroke-width="0.5"/>
<line x1="235.06" y1="193.4" x2="235.06" y2="265.5" stroke="#eeeeee" stroke-width="0.5"/>
<line x1="144.1" y1="241.47" x2="257.8" y2="241.47" stroke="#eeeeee" stroke-width="0.5"/>
<line x1="144.1" y1="217.43" x2="257.8" y2="217.43" stroke="#eeeeee" stroke-width="0.5"/>
<rect x="144.1" y="193.4" width="113.70000000000002" height="72.1" fill="none" stroke="#d0d0d0" stroke-width="0.6"/>
<path d="M144.1,265.5 A56.85000000000001,60.08333333333333 0 0 1 257.8,265.5" fill="none" stroke="#b8b8b8" stroke-width="0.7"/>
<text x="144.10" y="274.40" font-size="6.5" fill="#555" text-anchor="middle" font-weight="normal" >0</text>
<text x="166.84" y="274.40" font-size="6.5" fill="#555" text-anchor="middle" font-weight="normal" >0.2</text>
<text x="189.58" y="274.40" font-size="6.5" fill="#555" text-anchor="middle" font-weight="normal" >0.4</text>
<text x="212.32" y="274.40" font-size="6.5" fill="#555" text-anchor="middle" font-weight="normal" >0.6</text>
<text x="235.06" y="274.40" font-size="6.5" fill="#555" text-anchor="middle" font-weight="normal" >0.8</text>
<text x="257.80" y="274.40" font-size="6.5" fill="#555" text-anchor="middle" font-weight="normal" >1</text>
<text x="142.60" y="267.80" font-size="6.5" fill="#555" text-anchor="end" font-weight="normal" >0</text>
<text x="142.60" y="243.77" font-size="6.5" fill="#555" text-anchor="end" font-weight="normal" >0.2</text>
<text x="142.60" y="219.73" font-size="6.5" fill="#555" text-anchor="end" font-weight="normal" >0.4</text>
<text x="142.60" y="195.70" font-size="6.5" fill="#555" text-anchor="end" font-weight="normal" >0.6</text>
<text x="146.4" y="201.1" font-size="7.6" fill="#1a1a1a" text-anchor="start" font-weight="bold" >j)</text>
<line x1="308.96" y1="191.4" x2="308.96" y2="265.3" stroke="#eeeeee" stroke-width="0.5"/>
<line x1="332.72" y1="191.4" x2="332.72" y2="265.3" stroke="#eeeeee" stroke-width="0.5"/>
<line x1="356.48" y1="191.4" x2="356.48" y2="265.3" stroke="#eeeeee" stroke-width="0.5"/>
<line x1="380.24" y1="191.4" x2="380.24" y2="265.3" stroke="#eeeeee" stroke-width="0.5"/>
<line x1="285.2" y1="240.67" x2="404" y2="240.67" stroke="#eeeeee" stroke-width="0.5"/>
<line x1="285.2" y1="216.03" x2="404" y2="216.03" stroke="#eeeeee" stroke-width="0.5"/>
<rect x="285.2" y="191.4" width="118.80000000000001" height="73.9" fill="none" stroke="#d0d0d0" stroke-width="0.6"/>
<text x="285.30" y="274.00" font-size="6.5" fill="#555" text-anchor="middle" font-weight="normal" >0</text>
<text x="312.60" y="274.00" font-size="6.5" fill="#555" text-anchor="middle" font-weight="normal" >0.2</text>
<text x="336.50" y="274.00" font-size="6.5" fill="#555" text-anchor="middle" font-weight="normal" >0.4</text>
<text x="360.50" y="274.00" font-size="6.5" fill="#555" text-anchor="middle" font-weight="normal" >0.6</text>
<text x="380.50" y="274.00" font-size="6.5" fill="#555" text-anchor="middle" font-weight="normal" >0.8</text>
<text x="404.20" y="274.00" font-size="6.5" fill="#555" text-anchor="middle" font-weight="normal" >1</text>
<text x="283.70" y="267.60" font-size="6.5" fill="#555" text-anchor="end" font-weight="normal" >0</text>
<text x="283.70" y="242.97" font-size="6.5" fill="#555" text-anchor="end" font-weight="normal" >0.2</text>
<text x="283.70" y="218.33" font-size="6.5" fill="#555" text-anchor="end" font-weight="normal" >0.4</text>
<text x="283.70" y="193.70" font-size="6.5" fill="#555" text-anchor="end" font-weight="normal" >0.6</text>
<text x="287.5" y="199.1" font-size="7.6" fill="#1a1a1a" text-anchor="start" font-weight="bold" >k)</text>
<rect x="224" y="34" width="15" height="14" fill="#ecfcfc" filter="url(#b1)"/>
<g filter="url(#b06)">
<circle cx="221.48" cy="34.46" r="0.98" fill="#6068d4" opacity="1.0"/>
<circle cx="244.00" cy="50.38" r="0.87" fill="#9aa0e2" opacity="1.0"/>
<circle cx="239.01" cy="47.63" r="0.96" fill="#6068d4" opacity="1.0"/>
<circle cx="226.16" cy="38.98" r="1.01" fill="#5860d0" opacity="1.0"/>
<circle cx="231.05" cy="41.31" r="0.51" fill="#8088dc" opacity="1.0"/>
<circle cx="229.70" cy="39.60" r="0.64" fill="#8088dc" opacity="1.0"/>
<circle cx="229.75" cy="40.72" r="0.65" fill="#5860d0" opacity="1.0"/>
<circle cx="237.55" cy="44.86" r="0.54" fill="#5860d0" opacity="1.0"/>
<circle cx="241.88" cy="47.71" r="1.09" fill="#8088dc" opacity="1.0"/>
<circle cx="221.99" cy="34.65" r="1.01" fill="#8088dc" opacity="1.0"/>
<circle cx="236.86" cy="45.25" r="1.01" fill="#6068d4" opacity="1.0"/>
<circle cx="228.12" cy="41.28" r="1.07" fill="#8088dc" opacity="1.0"/>
<circle cx="222.71" cy="34.20" r="0.78" fill="#9aa0e2" opacity="1.0"/>
<circle cx="236.53" cy="45.70" r="0.72" fill="#6068d4" opacity="1.0"/>
<circle cx="244.17" cy="51.48" r="0.71" fill="#6068d4" opacity="1.0"/>
<circle cx="235.00" cy="43.24" r="1.16" fill="#9aa0e2" opacity="1.0"/>
<circle cx="228.50" cy="38.93" r="1.06" fill="#5058c8" opacity="1.0"/>
<circle cx="238.03" cy="45.84" r="0.57" fill="#8088dc" opacity="1.0"/>
<circle cx="228.81" cy="37.98" r="1.12" fill="#5860d0" opacity="1.0"/>
<circle cx="230.97" cy="43.57" r="1.06" fill="#8088dc" opacity="1.0"/>
<circle cx="229.98" cy="42.33" r="0.69" fill="#9aa0e2" opacity="1.0"/>
<circle cx="224.10" cy="36.20" r="0.64" fill="#5058c8" opacity="1.0"/>
<circle cx="225.05" cy="37.05" r="0.54" fill="#5860d0" opacity="1.0"/>
<circle cx="240.45" cy="47.17" r="0.69" fill="#5058c8" opacity="1.0"/>
<circle cx="245.63" cy="49.68" r="1.10" fill="#8088dc" opacity="1.0"/>
<circle cx="224.76" cy="36.21" r="1.01" fill="#9aa0e2" opacity="1.0"/>
<circle cx="233.36" cy="42.38" r="0.84" fill="#8088dc" opacity="1.0"/>
<circle cx="230.02" cy="39.52" r="0.51" fill="#8088dc" opacity="1.0"/>
<circle cx="237.85" cy="40.36" r="0.59" fill="#5860d0" opacity="1.0"/>
<circle cx="241.66" cy="49.36" r="0.53" fill="#5860d0" opacity="1.0"/>
<circle cx="242.46" cy="49.33" r="1.11" fill="#9aa0e2" opacity="1.0"/>
<circle cx="227.38" cy="34.85" r="0.82" fill="#9aa0e2" opacity="1.0"/>
<circle cx="234.06" cy="42.19" r="0.66" fill="#6068d4" opacity="1.0"/>
<circle cx="239.53" cy="44.83" r="0.82" fill="#9aa0e2" opacity="1.0"/>
<circle cx="241.44" cy="47.34" r="0.87" fill="#5058c8" opacity="1.0"/>
<circle cx="238.78" cy="47.30" r="1.16" fill="#9aa0e2" opacity="1.0"/>
<circle cx="230.57" cy="40.29" r="0.97" fill="#9aa0e2" opacity="1.0"/>
<circle cx="231.93" cy="40.70" r="0.60" fill="#8088dc" opacity="1.0"/>
<circle cx="242.36" cy="49.26" r="0.71" fill="#5860d0" opacity="1.0"/>
<circle cx="225.95" cy="39.88" r="1.05" fill="#9aa0e2" opacity="1.0"/>
<circle cx="243.51" cy="50.51" r="1.08" fill="#5058c8" opacity="1.0"/>
<circle cx="227.53" cy="38.46" r="0.64" fill="#9aa0e2" opacity="1.0"/>
<circle cx="231.39" cy="38.35" r="0.77" fill="#6068d4" opacity="1.0"/>
<circle cx="226.53" cy="38.91" r="0.73" fill="#5058c8" opacity="1.0"/>
<circle cx="239.10" cy="44.46" r="0.55" fill="#6068d4" opacity="1.0"/>
<circle cx="242.04" cy="49.82" r="0.99" fill="#8088dc" opacity="1.0"/>
<circle cx="233.03" cy="40.52" r="0.79" fill="#5860d0" opacity="1.0"/>
<circle cx="234.05" cy="40.64" r="0.71" fill="#8088dc" opacity="1.0"/>
<circle cx="240.98" cy="48.63" r="0.69" fill="#5058c8" opacity="1.0"/>
<circle cx="228.78" cy="38.81" r="1.14" fill="#5860d0" opacity="1.0"/>
<circle cx="227.35" cy="41.19" r="0.67" fill="#6068d4" opacity="1.0"/>
<circle cx="242.78" cy="46.82" r="0.88" fill="#5058c8" opacity="1.0"/>
<circle cx="242.34" cy="47.62" r="0.51" fill="#5860d0" opacity="1.0"/>
<circle cx="234.43" cy="40.60" r="0.71" fill="#8088dc" opacity="1.0"/>
<circle cx="233.53" cy="43.25" r="0.77" fill="#9aa0e2" opacity="1.0"/>
<circle cx="227.06" cy="36.81" r="1.12" fill="#8088dc" opacity="1.0"/>
<circle cx="223.72" cy="33.12" r="0.67" fill="#8088dc" opacity="1.0"/>
<circle cx="238.72" cy="44.29" r="0.73" fill="#5860d0" opacity="1.0"/>
<circle cx="240.16" cy="47.98" r="0.84" fill="#8088dc" opacity="1.0"/>
<circle cx="224.71" cy="36.42" r="0.53" fill="#5058c8" opacity="1.0"/>
<circle cx="240.25" cy="47.97" r="1.10" fill="#5860d0" opacity="1.0"/>
<circle cx="225.06" cy="35.97" r="0.52" fill="#8088dc" opacity="1.0"/>
<circle cx="232.97" cy="40.00" r="0.98" fill="#9aa0e2" opacity="1.0"/>
<circle cx="241.26" cy="47.98" r="1.01" fill="#5058c8" opacity="1.0"/>
<circle cx="226.39" cy="38.87" r="0.75" fill="#5860d0" opacity="1.0"/>
<circle cx="230.95" cy="40.41" r="1.11" fill="#5860d0" opacity="1.0"/>
<circle cx="232.48" cy="38.10" r="0.98" fill="#8088dc" opacity="1.0"/>
<circle cx="221.89" cy="35.22" r="1.01" fill="#8088dc" opacity="1.0"/>
<circle cx="238.37" cy="48.23" r="1.05" fill="#9aa0e2" opacity="1.0"/>
<circle cx="232.32" cy="44.81" r="0.72" fill="#6068d4" opacity="1.0"/>
<circle cx="234.66" cy="43.52" r="0.60" fill="#5860d0" opacity="1.0"/>
<circle cx="229.65" cy="37.90" r="1.00" fill="#6068d4" opacity="1.0"/>
<circle cx="224.80" cy="35.51" r="0.74" fill="#8088dc" opacity="1.0"/>
<circle cx="239.77" cy="47.43" r="1.08" fill="#5860d0" opacity="1.0"/>
<circle cx="232.42" cy="40.78" r="0.63" fill="#6068d4" opacity="1.0"/>
<circle cx="243.45" cy="48.44" r="1.07" fill="#6068d4" opacity="1.0"/>
<circle cx="223.78" cy="36.50" r="0.72" fill="#9aa0e2" opacity="1.0"/>
<circle cx="241.05" cy="45.87" r="0.80" fill="#5860d0" opacity="1.0"/>
<circle cx="234.60" cy="41.23" r="1.11" fill="#8088dc" opacity="1.0"/>
<circle cx="228.53" cy="41.80" r="0.98" fill="#8088dc" opacity="1.0"/>
<circle cx="225.26" cy="36.42" r="1.10" fill="#5058c8" opacity="1.0"/>
<circle cx="233.97" cy="44.13" r="1.04" fill="#5860d0" opacity="1.0"/>
<circle cx="237.30" cy="46.60" r="0.99" fill="#6068d4" opacity="1.0"/>
<circle cx="235.97" cy="41.44" r="0.91" fill="#6068d4" opacity="1.0"/>
<circle cx="229.02" cy="36.61" r="0.92" fill="#5860d0" opacity="1.0"/>
<circle cx="229.49" cy="38.69" r="0.92" fill="#9aa0e2" opacity="1.0"/>
<circle cx="226.86" cy="39.42" r="0.60" fill="#6068d4" opacity="1.0"/>
<circle cx="232.39" cy="42.58" r="0.87" fill="#9aa0e2" opacity="1.0"/>
<circle cx="241.99" cy="49.14" r="0.63" fill="#8088dc" opacity="1.0"/>
<circle cx="233.10" cy="43.49" r="0.98" fill="#5860d0" opacity="1.0"/>
<circle cx="231.30" cy="38.07" r="1.08" fill="#5058c8" opacity="1.0"/>
<circle cx="221.24" cy="34.84" r="0.76" fill="#6068d4" opacity="1.0"/>
<circle cx="239.41" cy="45.19" r="0.64" fill="#5860d0" opacity="1.0"/>
<circle cx="239.15" cy="46.43" r="0.91" fill="#5058c8" opacity="1.0"/>
<circle cx="243.41" cy="50.82" r="1.03" fill="#9aa0e2" opacity="1.0"/>
<circle cx="234.59" cy="45.85" r="1.07" fill="#5860d0" opacity="1.0"/>
<circle cx="223.47" cy="36.01" r="0.74" fill="#6068d4" opacity="1.0"/>
<circle cx="228.43" cy="36.12" r="0.76" fill="#8088dc" opacity="1.0"/>
<circle cx="228.07" cy="39.68" r="1.07" fill="#5860d0" opacity="1.0"/>
<circle cx="223.68" cy="35.64" r="0.61" fill="#5058c8" opacity="1.0"/>
<circle cx="225.15" cy="36.88" r="0.60" fill="#5058c8" opacity="1.0"/>
<circle cx="242.13" cy="48.52" r="0.99" fill="#5860d0" opacity="1.0"/>
<circle cx="229.30" cy="39.34" r="0.92" fill="#5058c8" opacity="1.0"/>
<circle cx="232.39" cy="44.97" r="0.80" fill="#9aa0e2" opacity="1.0"/>
<circle cx="225.48" cy="36.60" r="0.89" fill="#6068d4" opacity="1.0"/>
<circle cx="235.00" cy="43.64" r="0.60" fill="#9aa0e2" opacity="1.0"/>
<circle cx="236.73" cy="42.88" r="0.70" fill="#6068d4" opacity="1.0"/>
<circle cx="234.79" cy="40.00" r="0.74" fill="#6068d4" opacity="1.0"/>
<circle cx="228.96" cy="37.94" r="0.69" fill="#5058c8" opacity="1.0"/>
<circle cx="239.08" cy="42.65" r="1.17" fill="#8088dc" opacity="1.0"/>
<circle cx="230.04" cy="39.20" r="0.79" fill="#5860d0" opacity="1.0"/>
<circle cx="245.28" cy="50.16" r="0.53" fill="#8088dc" opacity="1.0"/>
<circle cx="235.37" cy="41.37" r="1.08" fill="#8088dc" opacity="1.0"/>
<circle cx="223.54" cy="34.98" r="0.92" fill="#5860d0" opacity="1.0"/>
<circle cx="243.78" cy="50.63" r="0.84" fill="#5860d0" opacity="1.0"/>
<circle cx="240.82" cy="45.57" r="0.52" fill="#6068d4" opacity="1.0"/>
<circle cx="232.82" cy="43.45" r="1.10" fill="#8088dc" opacity="1.0"/>
<circle cx="227.97" cy="38.86" r="0.82" fill="#6068d4" opacity="1.0"/>
<circle cx="232.17" cy="41.40" r="0.84" fill="#6068d4" opacity="1.0"/>
<circle cx="224.21" cy="36.48" r="0.96" fill="#5860d0" opacity="1.0"/>
<circle cx="234.70" cy="42.43" r="0.69" fill="#9aa0e2" opacity="1.0"/>
<circle cx="241.79" cy="48.96" r="0.52" fill="#8088dc" opacity="1.0"/>
<circle cx="232.06" cy="39.20" r="0.81" fill="#5860d0" opacity="1.0"/>
<circle cx="232.49" cy="42.06" r="0.97" fill="#5058c8" opacity="1.0"/>
<circle cx="243.68" cy="49.96" r="1.16" fill="#5860d0" opacity="1.0"/>
<circle cx="227.82" cy="39.50" r="0.69" fill="#6068d4" opacity="1.0"/>
<circle cx="224.35" cy="35.81" r="0.97" fill="#8088dc" opacity="1.0"/>
<circle cx="222.42" cy="34.83" r="0.88" fill="#6068d4" opacity="1.0"/>
<circle cx="227.88" cy="37.69" r="0.77" fill="#5860d0" opacity="1.0"/>
<circle cx="223.33" cy="33.50" r="0.90" fill="#6068d4" opacity="1.0"/>
<circle cx="227.94" cy="37.79" r="0.54" fill="#6068d4" opacity="1.0"/>
<circle cx="229.14" cy="39.42" r="1.05" fill="#5058c8" opacity="1.0"/>
<circle cx="229.01" cy="39.78" r="0.93" fill="#5860d0" opacity="1.0"/>
<circle cx="242.84" cy="47.88" r="1.11" fill="#5860d0" opacity="1.0"/>
<circle cx="246.09" cy="49.97" r="1.05" fill="#6068d4" opacity="1.0"/>
<circle cx="235.01" cy="43.42" r="0.95" fill="#5860d0" opacity="1.0"/>
<circle cx="241.46" cy="47.12" r="1.20" fill="#5860d0" opacity="1.0"/>
<circle cx="235.39" cy="40.60" r="0.94" fill="#6068d4" opacity="1.0"/>
<circle cx="222.32" cy="35.52" r="0.92" fill="#5860d0" opacity="1.0"/>
<circle cx="238.55" cy="44.88" r="0.77" fill="#5860d0" opacity="1.0"/>
</g>
<g filter="url(#b06)">
<circle cx="227.77" cy="36.09" r="0.85" fill="#b8d448" opacity="1.0"/>
<circle cx="227.44" cy="36.09" r="0.42" fill="#b8d448" opacity="1.0"/>
<circle cx="229.29" cy="37.65" r="0.87" fill="#b8d448" opacity="1.0"/>
<circle cx="229.33" cy="36.45" r="0.40" fill="#a8d050" opacity="1.0"/>
<circle cx="230.22" cy="36.55" r="0.50" fill="#b8d448" opacity="1.0"/>
<circle cx="231.28" cy="38.70" r="0.50" fill="#a8d050" opacity="1.0"/>
<circle cx="228.44" cy="37.34" r="0.76" fill="#b8d448" opacity="1.0"/>
<circle cx="227.53" cy="35.93" r="0.42" fill="#a8d050" opacity="1.0"/>
<circle cx="229.66" cy="37.54" r="0.76" fill="#b8d448" opacity="1.0"/>
<circle cx="227.87" cy="36.70" r="0.81" fill="#98c860" opacity="1.0"/>
<circle cx="228.82" cy="36.54" r="0.42" fill="#b8d448" opacity="1.0"/>
<circle cx="228.47" cy="36.41" r="0.56" fill="#a8d050" opacity="1.0"/>
<circle cx="230.00" cy="37.99" r="0.75" fill="#b8d448" opacity="1.0"/>
<circle cx="227.66" cy="35.66" r="0.49" fill="#a8d050" opacity="1.0"/>
<circle cx="230.21" cy="38.04" r="0.73" fill="#a8d050" opacity="1.0"/>
<circle cx="229.64" cy="37.55" r="0.47" fill="#a8d050" opacity="1.0"/>
<circle cx="228.24" cy="36.42" r="0.88" fill="#98c860" opacity="1.0"/>
<circle cx="228.80" cy="36.79" r="0.58" fill="#b8d448" opacity="1.0"/>
</g>
<g filter="url(#b06)">
<circle cx="239.43" cy="43.86" r="0.57" fill="#a8d050" opacity="1.0"/>
<circle cx="240.84" cy="45.16" r="0.72" fill="#a8d050" opacity="1.0"/>
<circle cx="237.22" cy="42.87" r="0.70" fill="#a8d050" opacity="1.0"/>
<circle cx="239.17" cy="43.77" r="0.67" fill="#a8d050" opacity="1.0"/>
<circle cx="239.30" cy="44.72" r="0.70" fill="#c0d840" opacity="1.0"/>
<circle cx="239.39" cy="45.73" r="0.92" fill="#a8d050" opacity="1.0"/>
<circle cx="237.53" cy="44.97" r="0.73" fill="#a8d050" opacity="1.0"/>
<circle cx="237.98" cy="42.45" r="0.92" fill="#c8dc40" opacity="1.0"/>
<circle cx="240.94" cy="46.08" r="0.94" fill="#a8d050" opacity="1.0"/>
<circle cx="237.53" cy="44.34" r="0.79" fill="#c0d840" opacity="1.0"/>
<circle cx="238.75" cy="44.19" r="0.80" fill="#a8d050" opacity="1.0"/>
<circle cx="237.59" cy="44.55" r="0.51" fill="#c0d840" opacity="1.0"/>
<circle cx="240.69" cy="45.35" r="0.81" fill="#c0d840" opacity="1.0"/>
<circle cx="236.02" cy="43.24" r="0.46" fill="#c8dc40" opacity="1.0"/>
<circle cx="236.20" cy="42.35" r="0.92" fill="#a8d050" opacity="1.0"/>
<circle cx="239.05" cy="45.26" r="0.67" fill="#c8dc40" opacity="1.0"/>
<circle cx="240.30" cy="44.96" r="0.92" fill="#c8dc40" opacity="1.0"/>
<circle cx="236.52" cy="42.62" r="0.69" fill="#c8dc40" opacity="1.0"/>
<circle cx="240.17" cy="44.80" r="0.55" fill="#a8d050" opacity="1.0"/>
<circle cx="238.67" cy="45.59" r="0.83" fill="#a8d050" opacity="1.0"/>
<circle cx="239.86" cy="46.34" r="0.69" fill="#a8d050" opacity="1.0"/>
<circle cx="236.70" cy="42.56" r="0.76" fill="#a8d050" opacity="1.0"/>
<circle cx="237.60" cy="43.36" r="0.64" fill="#c8dc40" opacity="1.0"/>
<circle cx="239.62" cy="46.82" r="0.98" fill="#c8dc40" opacity="1.0"/>
<circle cx="237.92" cy="44.03" r="0.97" fill="#c0d840" opacity="1.0"/>
<circle cx="236.80" cy="42.60" r="0.51" fill="#a8d050" opacity="1.0"/>
</g>
<rect x="224" y="127" width="18" height="15" fill="#f2fcfc" filter="url(#b1)"/>
<polygon points="221.50,127.00 222.18,128.49 223.05,129.73 224.00,130.87 225.00,131.94 226.07,132.93 227.19,133.84 228.35,134.71 229.51,135.56 230.69,136.39 231.89,137.21 233.09,138.02 234.31,138.81 235.53,139.58 236.77,140.34 238.02,141.09 239.28,141.82 240.55,142.53 241.84,143.23 243.14,143.90 244.50,144.50 244.50,144.50 243.56,143.35 242.56,142.27 241.55,141.22 240.52,140.18 239.48,139.16 238.43,138.16 237.37,137.17 236.29,136.19 235.21,135.23 234.11,134.29 233.01,133.36 231.89,132.44 230.75,131.54 229.61,130.66 228.43,129.82 227.20,129.06 225.90,128.38 224.55,127.77 223.12,127.26 221.50,127.00" fill="#5a62d4" opacity="0.7" filter="url(#b05)"/>
<g filter="url(#b07)">
<circle cx="229.86" cy="133.48" r="0.95" fill="#ffffff" opacity="1.0"/>
<circle cx="241.55" cy="143.31" r="0.61" fill="#3a40c8" opacity="1.0"/>
<circle cx="230.21" cy="133.15" r="0.88" fill="#c0c4f0" opacity="1.0"/>
<circle cx="245.31" cy="143.33" r="0.46" fill="#5a60d8" opacity="1.0"/>
<circle cx="243.59" cy="145.04" r="0.59" fill="#c0c4f0" opacity="1.0"/>
<circle cx="235.73" cy="137.49" r="0.48" fill="#ffffff" opacity="1.0"/>
<circle cx="220.84" cy="128.31" r="0.57" fill="#c0c4f0" opacity="1.0"/>
<circle cx="231.25" cy="130.65" r="0.71" fill="#ffffff" opacity="1.0"/>
<circle cx="234.81" cy="141.08" r="0.83" fill="#5a60d8" opacity="1.0"/>
<circle cx="221.06" cy="129.02" r="0.62" fill="#ffffff" opacity="1.0"/>
<circle cx="222.29" cy="126.09" r="0.89" fill="#4a50d0" opacity="1.0"/>
<circle cx="228.68" cy="131.14" r="0.53" fill="#c0c4f0" opacity="1.0"/>
<circle cx="221.97" cy="129.79" r="0.92" fill="#5a60d8" opacity="1.0"/>
<circle cx="221.37" cy="127.07" r="0.52" fill="#7078e0" opacity="1.0"/>
<circle cx="244.00" cy="142.51" r="0.60" fill="#4a50d0" opacity="1.0"/>
<circle cx="241.05" cy="143.18" r="0.81" fill="#3a40c8" opacity="1.0"/>
<circle cx="224.58" cy="130.41" r="0.85" fill="#c0c4f0" opacity="1.0"/>
<circle cx="242.91" cy="140.47" r="0.86" fill="#4a50d0" opacity="1.0"/>
<circle cx="244.59" cy="143.73" r="0.68" fill="#c0c4f0" opacity="1.0"/>
<circle cx="240.91" cy="137.00" r="0.78" fill="#7078e0" opacity="1.0"/>
<circle cx="232.62" cy="140.60" r="0.57" fill="#3a40c8" opacity="1.0"/>
<circle cx="236.62" cy="141.82" r="0.82" fill="#7078e0" opacity="1.0"/>
<circle cx="238.17" cy="142.49" r="0.75" fill="#c0c4f0" opacity="1.0"/>
<circle cx="226.02" cy="132.06" r="0.66" fill="#c0c4f0" opacity="1.0"/>
<circle cx="227.59" cy="133.75" r="0.94" fill="#7078e0" opacity="1.0"/>
<circle cx="238.72" cy="139.01" r="0.57" fill="#5a60d8" opacity="1.0"/>
<circle cx="225.84" cy="130.59" r="0.58" fill="#5a60d8" opacity="1.0"/>
<circle cx="232.41" cy="138.26" r="0.79" fill="#7078e0" opacity="1.0"/>
<circle cx="228.48" cy="132.75" r="0.52" fill="#7078e0" opacity="1.0"/>
<circle cx="233.16" cy="139.78" r="0.84" fill="#ffffff" opacity="1.0"/>
<circle cx="239.98" cy="139.38" r="0.60" fill="#3a40c8" opacity="1.0"/>
<circle cx="221.28" cy="127.59" r="0.77" fill="#5a60d8" opacity="1.0"/>
<circle cx="237.81" cy="135.62" r="0.55" fill="#c0c4f0" opacity="1.0"/>
<circle cx="243.94" cy="143.90" r="0.98" fill="#4a50d0" opacity="1.0"/>
<circle cx="233.99" cy="134.35" r="0.82" fill="#3a40c8" opacity="1.0"/>
<circle cx="228.29" cy="130.81" r="0.59" fill="#7078e0" opacity="1.0"/>
<circle cx="234.15" cy="139.13" r="0.60" fill="#ffffff" opacity="1.0"/>
<circle cx="233.08" cy="131.01" r="0.67" fill="#7078e0" opacity="1.0"/>
<circle cx="237.15" cy="139.08" r="0.78" fill="#5a60d8" opacity="1.0"/>
<circle cx="230.82" cy="137.23" r="0.95" fill="#3a40c8" opacity="1.0"/>
<circle cx="224.61" cy="125.30" r="0.90" fill="#4a50d0" opacity="1.0"/>
<circle cx="235.26" cy="137.61" r="1.00" fill="#c0c4f0" opacity="1.0"/>
<circle cx="233.49" cy="136.24" r="0.68" fill="#7078e0" opacity="1.0"/>
<circle cx="230.29" cy="130.06" r="0.65" fill="#5a60d8" opacity="1.0"/>
<circle cx="230.27" cy="135.22" r="0.79" fill="#7078e0" opacity="1.0"/>
<circle cx="224.43" cy="129.25" r="0.81" fill="#ffffff" opacity="1.0"/>
<circle cx="229.56" cy="133.59" r="0.79" fill="#ffffff" opacity="1.0"/>
<circle cx="236.88" cy="143.07" r="0.85" fill="#7078e0" opacity="1.0"/>
<circle cx="237.06" cy="140.86" r="0.73" fill="#5a60d8" opacity="1.0"/>
<circle cx="232.18" cy="135.73" r="0.76" fill="#c0c4f0" opacity="1.0"/>
<circle cx="222.35" cy="126.69" r="0.50" fill="#c0c4f0" opacity="1.0"/>
<circle cx="239.25" cy="141.75" r="0.92" fill="#7078e0" opacity="1.0"/>
<circle cx="221.61" cy="126.52" r="0.89" fill="#ffffff" opacity="1.0"/>
<circle cx="239.85" cy="142.55" r="1.00" fill="#c0c4f0" opacity="1.0"/>
<circle cx="231.62" cy="133.98" r="0.55" fill="#4a50d0" opacity="1.0"/>
<circle cx="231.19" cy="131.24" r="0.64" fill="#7078e0" opacity="1.0"/>
<circle cx="224.83" cy="129.92" r="0.91" fill="#3a40c8" opacity="1.0"/>
<circle cx="227.80" cy="132.62" r="0.96" fill="#3a40c8" opacity="1.0"/>
<circle cx="239.94" cy="142.50" r="0.99" fill="#c0c4f0" opacity="1.0"/>
<circle cx="221.96" cy="131.01" r="0.46" fill="#5a60d8" opacity="1.0"/>
<circle cx="243.88" cy="143.55" r="0.88" fill="#3a40c8" opacity="1.0"/>
<circle cx="242.66" cy="145.89" r="0.86" fill="#7078e0" opacity="1.0"/>
<circle cx="238.97" cy="140.59" r="0.81" fill="#c0c4f0" opacity="1.0"/>
<circle cx="238.34" cy="137.26" r="0.74" fill="#3a40c8" opacity="1.0"/>
<circle cx="232.83" cy="138.92" r="0.89" fill="#4a50d0" opacity="1.0"/>
<circle cx="236.47" cy="142.99" r="0.74" fill="#5a60d8" opacity="1.0"/>
<circle cx="240.90" cy="141.01" r="0.96" fill="#3a40c8" opacity="1.0"/>
<circle cx="226.51" cy="132.48" r="0.50" fill="#3a40c8" opacity="1.0"/>
<circle cx="244.61" cy="144.10" r="0.75" fill="#c0c4f0" opacity="1.0"/>
<circle cx="220.63" cy="127.58" r="0.81" fill="#5a60d8" opacity="1.0"/>
<circle cx="229.37" cy="133.76" r="0.82" fill="#7078e0" opacity="1.0"/>
<circle cx="238.03" cy="136.16" r="0.47" fill="#5a60d8" opacity="1.0"/>
<circle cx="222.57" cy="127.44" r="0.72" fill="#c0c4f0" opacity="1.0"/>
<circle cx="223.18" cy="127.94" r="0.76" fill="#7078e0" opacity="1.0"/>
<circle cx="243.07" cy="139.42" r="0.85" fill="#c0c4f0" opacity="1.0"/>
<circle cx="233.04" cy="130.48" r="0.81" fill="#ffffff" opacity="1.0"/>
<circle cx="240.73" cy="144.22" r="0.83" fill="#c0c4f0" opacity="1.0"/>
<circle cx="244.63" cy="142.97" r="0.87" fill="#4a50d0" opacity="1.0"/>
<circle cx="223.32" cy="127.70" r="0.98" fill="#7078e0" opacity="1.0"/>
<circle cx="228.20" cy="130.27" r="0.47" fill="#ffffff" opacity="1.0"/>
<circle cx="241.09" cy="138.79" r="0.90" fill="#ffffff" opacity="1.0"/>
<circle cx="232.82" cy="130.77" r="0.64" fill="#5a60d8" opacity="1.0"/>
<circle cx="226.98" cy="136.73" r="0.94" fill="#ffffff" opacity="1.0"/>
<circle cx="238.09" cy="138.06" r="0.54" fill="#c0c4f0" opacity="1.0"/>
<circle cx="226.42" cy="133.50" r="0.60" fill="#3a40c8" opacity="1.0"/>
<circle cx="228.91" cy="139.80" r="0.85" fill="#5a60d8" opacity="1.0"/>
<circle cx="231.99" cy="137.65" r="0.50" fill="#3a40c8" opacity="1.0"/>
<circle cx="241.75" cy="144.99" r="0.63" fill="#5a60d8" opacity="1.0"/>
<circle cx="242.46" cy="144.99" r="0.53" fill="#3a40c8" opacity="1.0"/>
<circle cx="231.39" cy="141.35" r="0.88" fill="#4a50d0" opacity="1.0"/>
<circle cx="224.73" cy="125.62" r="0.88" fill="#c0c4f0" opacity="1.0"/>
<circle cx="225.23" cy="128.17" r="0.56" fill="#3a40c8" opacity="1.0"/>
<circle cx="228.90" cy="133.94" r="0.61" fill="#5a60d8" opacity="1.0"/>
<circle cx="238.75" cy="139.69" r="0.55" fill="#7078e0" opacity="1.0"/>
<circle cx="226.39" cy="131.24" r="0.61" fill="#3a40c8" opacity="1.0"/>
<circle cx="231.51" cy="137.58" r="0.68" fill="#3a40c8" opacity="1.0"/>
<circle cx="229.54" cy="137.04" r="0.79" fill="#3a40c8" opacity="1.0"/>
<circle cx="225.37" cy="128.01" r="0.50" fill="#7078e0" opacity="1.0"/>
<circle cx="225.53" cy="127.96" r="0.53" fill="#7078e0" opacity="1.0"/>
<circle cx="239.74" cy="141.80" r="0.96" fill="#5a60d8" opacity="1.0"/>
<circle cx="222.18" cy="129.29" r="0.61" fill="#5a60d8" opacity="1.0"/>
<circle cx="243.64" cy="144.73" r="0.57" fill="#4a50d0" opacity="1.0"/>
<circle cx="231.81" cy="137.47" r="0.86" fill="#c0c4f0" opacity="1.0"/>
<circle cx="238.73" cy="138.34" r="0.68" fill="#4a50d0" opacity="1.0"/>
<circle cx="235.89" cy="135.98" r="0.50" fill="#7078e0" opacity="1.0"/>
<circle cx="224.65" cy="129.26" r="0.80" fill="#ffffff" opacity="1.0"/>
<circle cx="242.57" cy="144.70" r="0.59" fill="#7078e0" opacity="1.0"/>
<circle cx="243.43" cy="143.86" r="0.64" fill="#7078e0" opacity="1.0"/>
<circle cx="227.59" cy="129.36" r="0.60" fill="#4a50d0" opacity="1.0"/>
<circle cx="230.45" cy="135.26" r="0.91" fill="#3a40c8" opacity="1.0"/>
<circle cx="226.85" cy="128.62" r="0.78" fill="#5a60d8" opacity="1.0"/>
<circle cx="220.63" cy="128.63" r="0.63" fill="#7078e0" opacity="1.0"/>
<circle cx="237.25" cy="139.47" r="0.78" fill="#7078e0" opacity="1.0"/>
<circle cx="227.83" cy="131.16" r="0.54" fill="#ffffff" opacity="1.0"/>
<circle cx="233.55" cy="131.73" r="0.58" fill="#7078e0" opacity="1.0"/>
<circle cx="232.13" cy="136.56" r="0.46" fill="#5a60d8" opacity="1.0"/>
<circle cx="223.13" cy="130.92" r="0.89" fill="#c0c4f0" opacity="1.0"/>
<circle cx="236.41" cy="139.48" r="0.74" fill="#ffffff" opacity="1.0"/>
<circle cx="230.66" cy="131.60" r="0.59" fill="#3a40c8" opacity="1.0"/>
<circle cx="240.69" cy="142.01" r="0.97" fill="#ffffff" opacity="1.0"/>
<circle cx="224.50" cy="131.92" r="0.46" fill="#4a50d0" opacity="1.0"/>
<circle cx="237.50" cy="139.33" r="0.70" fill="#4a50d0" opacity="1.0"/>
<circle cx="235.80" cy="133.10" r="0.73" fill="#5a60d8" opacity="1.0"/>
<circle cx="234.40" cy="132.95" r="0.67" fill="#ffffff" opacity="1.0"/>
<circle cx="233.08" cy="141.44" r="0.71" fill="#5a60d8" opacity="1.0"/>
<circle cx="233.56" cy="139.89" r="0.83" fill="#5a60d8" opacity="1.0"/>
<circle cx="223.32" cy="128.66" r="0.66" fill="#5a60d8" opacity="1.0"/>
<circle cx="226.73" cy="126.69" r="0.88" fill="#5a60d8" opacity="1.0"/>
<circle cx="243.70" cy="144.81" r="0.52" fill="#3a40c8" opacity="1.0"/>
<circle cx="223.70" cy="126.77" r="0.97" fill="#3a40c8" opacity="1.0"/>
<circle cx="222.04" cy="127.80" r="0.70" fill="#7078e0" opacity="1.0"/>
<circle cx="242.53" cy="144.19" r="0.70" fill="#5a60d8" opacity="1.0"/>
<circle cx="227.44" cy="132.35" r="0.69" fill="#c0c4f0" opacity="1.0"/>
<circle cx="235.03" cy="137.21" r="1.00" fill="#ffffff" opacity="1.0"/>
<circle cx="229.82" cy="135.27" r="0.80" fill="#c0c4f0" opacity="1.0"/>
<circle cx="230.98" cy="139.88" r="0.45" fill="#c0c4f0" opacity="1.0"/>
<circle cx="238.07" cy="137.82" r="0.93" fill="#3a40c8" opacity="1.0"/>
<circle cx="239.75" cy="138.93" r="0.55" fill="#7078e0" opacity="1.0"/>
<circle cx="236.30" cy="138.43" r="0.54" fill="#5a60d8" opacity="1.0"/>
<circle cx="223.08" cy="127.10" r="0.49" fill="#3a40c8" opacity="1.0"/>
<circle cx="225.27" cy="128.38" r="0.51" fill="#3a40c8" opacity="1.0"/>
<circle cx="228.73" cy="130.37" r="0.74" fill="#4a50d0" opacity="1.0"/>
<circle cx="230.74" cy="136.40" r="0.80" fill="#ffffff" opacity="1.0"/>
<circle cx="233.85" cy="140.74" r="0.89" fill="#3a40c8" opacity="1.0"/>
<circle cx="242.66" cy="143.60" r="0.93" fill="#4a50d0" opacity="1.0"/>
<circle cx="224.72" cy="126.95" r="0.73" fill="#c0c4f0" opacity="1.0"/>
<circle cx="240.93" cy="139.06" r="0.85" fill="#ffffff" opacity="1.0"/>
<circle cx="240.15" cy="134.71" r="0.88" fill="#ffffff" opacity="1.0"/>
<circle cx="234.90" cy="136.65" r="0.93" fill="#7078e0" opacity="1.0"/>
<circle cx="237.25" cy="138.83" r="0.85" fill="#3a40c8" opacity="1.0"/>
<circle cx="225.28" cy="130.17" r="1.00" fill="#4a50d0" opacity="1.0"/>
<circle cx="244.79" cy="143.86" r="0.82" fill="#5a60d8" opacity="1.0"/>
<circle cx="223.86" cy="132.10" r="0.52" fill="#ffffff" opacity="1.0"/>
<circle cx="239.10" cy="141.66" r="0.67" fill="#c0c4f0" opacity="1.0"/>
<circle cx="238.63" cy="140.70" r="0.99" fill="#ffffff" opacity="1.0"/>
<circle cx="225.60" cy="128.74" r="0.67" fill="#ffffff" opacity="1.0"/>
<circle cx="223.91" cy="126.78" r="0.85" fill="#4a50d0" opacity="1.0"/>
<circle cx="242.39" cy="143.59" r="0.85" fill="#3a40c8" opacity="1.0"/>
<circle cx="233.87" cy="135.36" r="0.68" fill="#4a50d0" opacity="1.0"/>
<circle cx="236.76" cy="134.91" r="0.90" fill="#4a50d0" opacity="1.0"/>
<circle cx="235.37" cy="134.74" r="0.51" fill="#c0c4f0" opacity="1.0"/>
<circle cx="227.02" cy="132.92" r="0.80" fill="#4a50d0" opacity="1.0"/>
<circle cx="226.31" cy="131.74" r="0.57" fill="#5a60d8" opacity="1.0"/>
<circle cx="229.40" cy="136.54" r="0.84" fill="#7078e0" opacity="1.0"/>
<circle cx="223.91" cy="127.95" r="0.60" fill="#5a60d8" opacity="1.0"/>
<circle cx="242.55" cy="142.61" r="0.68" fill="#3a40c8" opacity="1.0"/>
<circle cx="233.30" cy="134.47" r="0.53" fill="#4a50d0" opacity="1.0"/>
<circle cx="241.32" cy="141.73" r="0.97" fill="#c0c4f0" opacity="1.0"/>
<circle cx="226.24" cy="130.31" r="0.95" fill="#4a50d0" opacity="1.0"/>
<circle cx="237.95" cy="138.59" r="0.91" fill="#c0c4f0" opacity="1.0"/>
<circle cx="240.81" cy="141.07" r="0.80" fill="#c0c4f0" opacity="1.0"/>
<circle cx="221.67" cy="127.51" r="0.94" fill="#5a60d8" opacity="1.0"/>
<circle cx="240.89" cy="140.00" r="0.94" fill="#ffffff" opacity="1.0"/>
<circle cx="240.67" cy="143.81" r="0.55" fill="#7078e0" opacity="1.0"/>
<circle cx="243.75" cy="138.54" r="0.66" fill="#5a60d8" opacity="1.0"/>
<circle cx="232.45" cy="132.13" r="0.61" fill="#7078e0" opacity="1.0"/>
<circle cx="226.76" cy="132.21" r="0.69" fill="#7078e0" opacity="1.0"/>
<circle cx="237.94" cy="138.33" r="0.73" fill="#5a60d8" opacity="1.0"/>
<circle cx="231.04" cy="134.86" r="0.48" fill="#7078e0" opacity="1.0"/>
<circle cx="241.82" cy="145.59" r="0.77" fill="#3a40c8" opacity="1.0"/>
<circle cx="222.00" cy="128.98" r="0.78" fill="#ffffff" opacity="1.0"/>
<circle cx="241.62" cy="139.10" r="0.52" fill="#c0c4f0" opacity="1.0"/>
<circle cx="239.61" cy="143.41" r="0.58" fill="#3a40c8" opacity="1.0"/>
<circle cx="229.88" cy="131.24" r="0.74" fill="#7078e0" opacity="1.0"/>
<circle cx="244.94" cy="143.20" r="0.79" fill="#5a60d8" opacity="1.0"/>
<circle cx="229.66" cy="137.21" r="0.68" fill="#ffffff" opacity="1.0"/>
<circle cx="226.59" cy="132.12" r="0.46" fill="#3a40c8" opacity="1.0"/>
<circle cx="240.30" cy="139.94" r="0.58" fill="#7078e0" opacity="1.0"/>
<circle cx="238.72" cy="138.20" r="0.85" fill="#4a50d0" opacity="1.0"/>
<circle cx="241.67" cy="139.42" r="0.56" fill="#5a60d8" opacity="1.0"/>
</g>
<g filter="url(#b06)">
<circle cx="237.03" cy="137.12" r="0.66" fill="#b0d848" opacity="1.0"/>
<circle cx="235.35" cy="134.88" r="1.02" fill="#b0d848" opacity="1.0"/>
<circle cx="235.44" cy="134.63" r="0.65" fill="#b0d848" opacity="1.0"/>
<circle cx="237.33" cy="136.41" r="0.89" fill="#b0d848" opacity="1.0"/>
<circle cx="238.05" cy="135.85" r="0.91" fill="#c0dc40" opacity="1.0"/>
<circle cx="238.15" cy="136.62" r="0.61" fill="#d0e040" opacity="1.0"/>
<circle cx="235.44" cy="136.75" r="0.74" fill="#c0dc40" opacity="1.0"/>
<circle cx="235.11" cy="137.51" r="0.75" fill="#d0e040" opacity="1.0"/>
<circle cx="237.03" cy="136.83" r="0.88" fill="#d0e040" opacity="1.0"/>
<circle cx="235.98" cy="133.86" r="0.71" fill="#b0d848" opacity="1.0"/>
<circle cx="236.90" cy="137.12" r="0.99" fill="#c0dc40" opacity="1.0"/>
<circle cx="238.30" cy="135.61" r="1.04" fill="#c0dc40" opacity="1.0"/>
<circle cx="238.09" cy="137.50" r="0.82" fill="#d0e040" opacity="1.0"/>
<circle cx="236.03" cy="134.48" r="0.75" fill="#b0d848" opacity="1.0"/>
<circle cx="235.25" cy="136.39" r="0.93" fill="#c0dc40" opacity="1.0"/>
<circle cx="237.53" cy="135.58" r="0.67" fill="#d0e040" opacity="1.0"/>
<circle cx="235.55" cy="136.92" r="0.89" fill="#b0d848" opacity="1.0"/>
<circle cx="236.36" cy="135.39" r="1.04" fill="#c0dc40" opacity="1.0"/>
<circle cx="235.42" cy="135.85" r="0.69" fill="#c0dc40" opacity="1.0"/>
<circle cx="238.58" cy="137.34" r="0.90" fill="#b0d848" opacity="1.0"/>
<circle cx="236.62" cy="134.96" r="1.14" fill="#d0e040" opacity="1.0"/>
<circle cx="235.99" cy="134.37" r="0.60" fill="#b0d848" opacity="1.0"/>
<circle cx="237.32" cy="136.09" r="1.13" fill="#d0e040" opacity="1.0"/>
<circle cx="235.57" cy="136.76" r="1.20" fill="#c0dc40" opacity="1.0"/>
<circle cx="236.86" cy="136.27" r="0.58" fill="#b0d848" opacity="1.0"/>
<circle cx="235.55" cy="135.10" r="0.98" fill="#b0d848" opacity="1.0"/>
<circle cx="236.28" cy="133.32" r="0.87" fill="#b0d848" opacity="1.0"/>
<circle cx="237.32" cy="138.58" r="0.51" fill="#b0d848" opacity="1.0"/>
<circle cx="234.87" cy="135.63" r="1.04" fill="#d0e040" opacity="1.0"/>
<circle cx="235.97" cy="134.14" r="0.80" fill="#d0e040" opacity="1.0"/>
</g>
<g filter="url(#b06)">
<circle cx="236.37" cy="143.15" r="0.39" fill="#b0b0c0" opacity="1.0"/>
<circle cx="241.87" cy="146.81" r="0.32" fill="#b0b0c0" opacity="1.0"/>
<circle cx="239.35" cy="146.83" r="0.37" fill="#b0b0c0" opacity="1.0"/>
<circle cx="243.04" cy="148.39" r="0.49" fill="#98b090" opacity="1.0"/>
<circle cx="236.91" cy="144.73" r="0.38" fill="#a0a8a0" opacity="1.0"/>
<circle cx="237.95" cy="143.08" r="0.47" fill="#a0a8a0" opacity="1.0"/>
<circle cx="242.66" cy="146.99" r="0.42" fill="#98b090" opacity="1.0"/>
<circle cx="236.75" cy="143.05" r="0.42" fill="#a0a8a0" opacity="1.0"/>
<circle cx="243.38" cy="148.86" r="0.48" fill="#b0b0c0" opacity="1.0"/>
<circle cx="241.40" cy="146.19" r="0.50" fill="#b0b0c0" opacity="1.0"/>
<circle cx="241.35" cy="146.77" r="0.47" fill="#98b090" opacity="1.0"/>
<circle cx="242.43" cy="147.54" r="0.48" fill="#98b090" opacity="1.0"/>
</g>
<rect x="226" y="232" width="22" height="14" fill="#f4fcfc" filter="url(#b1)"/>
<polygon points="224.00,231.00 225.03,232.55 226.21,233.86 227.45,235.09 228.72,236.27 230.03,237.40 231.37,238.47 232.74,239.50 234.15,240.47 235.59,241.41 237.04,242.32 238.50,243.21 239.99,244.07 241.49,244.91 243.00,245.72 244.54,246.51 246.08,247.28 247.65,248.02 249.23,248.73 250.83,249.42 252.50,250.00 252.50,250.00 251.32,248.68 250.07,247.47 248.80,246.28 247.52,245.12 246.21,243.99 244.90,242.88 243.56,241.79 242.21,240.73 240.85,239.69 239.46,238.68 238.06,237.69 236.65,236.73 235.21,235.80 233.73,234.93 232.22,234.10 230.68,233.33 229.10,232.61 227.49,231.94 225.82,231.35 224.00,231.00" fill="#8488dc" opacity="0.8" filter="url(#b05)"/>
<g filter="url(#b07)">
<circle cx="231.08" cy="234.48" r="0.99" fill="#7c80dc" opacity="1.0"/>
<circle cx="247.65" cy="246.73" r="0.65" fill="#9094e0" opacity="1.0"/>
<circle cx="240.93" cy="238.92" r="0.81" fill="#5a60cc" opacity="1.0"/>
<circle cx="240.14" cy="242.45" r="0.72" fill="#5a60cc" opacity="1.0"/>
<circle cx="233.27" cy="241.27" r="0.52" fill="#5a60cc" opacity="1.0"/>
<circle cx="224.56" cy="230.97" r="0.91" fill="#7c80dc" opacity="1.0"/>
<circle cx="233.89" cy="236.79" r="0.98" fill="#7c80dc" opacity="1.0"/>
<circle cx="244.77" cy="246.73" r="0.52" fill="#7c80dc" opacity="1.0"/>
<circle cx="234.65" cy="243.37" r="0.99" fill="#c0c4f0" opacity="1.0"/>
<circle cx="227.72" cy="230.96" r="0.83" fill="#9094e0" opacity="1.0"/>
<circle cx="251.11" cy="247.80" r="1.05" fill="#5a60cc" opacity="1.0"/>
<circle cx="228.21" cy="230.52" r="1.04" fill="#c0c4f0" opacity="1.0"/>
<circle cx="248.21" cy="242.46" r="0.80" fill="#c0c4f0" opacity="1.0"/>
<circle cx="247.01" cy="243.32" r="0.89" fill="#9094e0" opacity="1.0"/>
<circle cx="246.98" cy="247.56" r="1.06" fill="#c0c4f0" opacity="1.0"/>
<circle cx="228.61" cy="229.15" r="0.99" fill="#5a60cc" opacity="1.0"/>
<circle cx="249.75" cy="249.41" r="0.52" fill="#9094e0" opacity="1.0"/>
<circle cx="240.53" cy="238.27" r="1.03" fill="#c0c4f0" opacity="1.0"/>
<circle cx="234.71" cy="239.42" r="1.04" fill="#9094e0" opacity="1.0"/>
<circle cx="241.00" cy="241.19" r="0.63" fill="#c0c4f0" opacity="1.0"/>
<circle cx="225.77" cy="230.47" r="0.86" fill="#7c80dc" opacity="1.0"/>
<circle cx="239.22" cy="241.66" r="1.03" fill="#5a60cc" opacity="1.0"/>
<circle cx="230.63" cy="235.73" r="1.03" fill="#7c80dc" opacity="1.0"/>
<circle cx="227.62" cy="231.42" r="0.78" fill="#6c70d4" opacity="1.0"/>
<circle cx="242.36" cy="244.37" r="0.55" fill="#c0c4f0" opacity="1.0"/>
<circle cx="237.13" cy="241.59" r="1.08" fill="#5a60cc" opacity="1.0"/>
<circle cx="241.19" cy="240.45" r="0.77" fill="#9094e0" opacity="1.0"/>
<circle cx="224.31" cy="230.35" r="0.97" fill="#5a60cc" opacity="1.0"/>
<circle cx="228.32" cy="232.08" r="0.74" fill="#9094e0" opacity="1.0"/>
<circle cx="235.04" cy="233.21" r="0.74" fill="#5a60cc" opacity="1.0"/>
<circle cx="240.93" cy="239.18" r="0.69" fill="#c0c4f0" opacity="1.0"/>
<circle cx="226.48" cy="233.87" r="1.06" fill="#9094e0" opacity="1.0"/>
<circle cx="248.50" cy="247.65" r="0.53" fill="#c0c4f0" opacity="1.0"/>
<circle cx="232.07" cy="238.33" r="0.53" fill="#5a60cc" opacity="1.0"/>
<circle cx="225.04" cy="230.28" r="0.67" fill="#9094e0" opacity="1.0"/>
<circle cx="224.32" cy="233.82" r="0.79" fill="#c0c4f0" opacity="1.0"/>
<circle cx="249.62" cy="246.74" r="1.05" fill="#6c70d4" opacity="1.0"/>
<circle cx="245.17" cy="244.50" r="1.06" fill="#c0c4f0" opacity="1.0"/>
<circle cx="247.76" cy="246.96" r="0.61" fill="#6c70d4" opacity="1.0"/>
<circle cx="247.90" cy="249.48" r="1.06" fill="#6c70d4" opacity="1.0"/>
<circle cx="242.57" cy="240.58" r="0.60" fill="#c0c4f0" opacity="1.0"/>
<circle cx="238.50" cy="238.09" r="0.58" fill="#c0c4f0" opacity="1.0"/>
<circle cx="240.14" cy="239.47" r="0.53" fill="#9094e0" opacity="1.0"/>
<circle cx="236.23" cy="240.32" r="0.55" fill="#6c70d4" opacity="1.0"/>
<circle cx="227.81" cy="231.46" r="1.01" fill="#6c70d4" opacity="1.0"/>
<circle cx="241.06" cy="242.19" r="0.81" fill="#9094e0" opacity="1.0"/>
<circle cx="233.17" cy="238.42" r="0.79" fill="#6c70d4" opacity="1.0"/>
<circle cx="245.15" cy="240.26" r="0.79" fill="#c0c4f0" opacity="1.0"/>
<circle cx="229.35" cy="234.82" r="0.63" fill="#7c80dc" opacity="1.0"/>
<circle cx="249.90" cy="247.35" r="0.84" fill="#9094e0" opacity="1.0"/>
<circle cx="244.91" cy="244.55" r="0.61" fill="#5a60cc" opacity="1.0"/>
<circle cx="247.58" cy="246.75" r="0.68" fill="#6c70d4" opacity="1.0"/>
<circle cx="227.34" cy="234.86" r="0.56" fill="#6c70d4" opacity="1.0"/>
<circle cx="229.83" cy="232.71" r="0.78" fill="#5a60cc" opacity="1.0"/>
<circle cx="225.84" cy="232.22" r="0.83" fill="#9094e0" opacity="1.0"/>
<circle cx="233.24" cy="234.07" r="0.88" fill="#9094e0" opacity="1.0"/>
<circle cx="233.89" cy="235.60" r="0.53" fill="#5a60cc" opacity="1.0"/>
<circle cx="238.20" cy="239.12" r="0.54" fill="#c0c4f0" opacity="1.0"/>
<circle cx="225.41" cy="230.10" r="0.88" fill="#5a60cc" opacity="1.0"/>
<circle cx="239.07" cy="237.44" r="0.56" fill="#c0c4f0" opacity="1.0"/>
<circle cx="250.62" cy="248.38" r="0.68" fill="#6c70d4" opacity="1.0"/>
<circle cx="243.09" cy="243.99" r="0.52" fill="#9094e0" opacity="1.0"/>
<circle cx="241.49" cy="243.82" r="0.79" fill="#6c70d4" opacity="1.0"/>
<circle cx="245.72" cy="245.03" r="0.95" fill="#5a60cc" opacity="1.0"/>
<circle cx="245.59" cy="248.19" r="1.08" fill="#6c70d4" opacity="1.0"/>
<circle cx="229.66" cy="232.36" r="0.93" fill="#9094e0" opacity="1.0"/>
<circle cx="229.99" cy="235.23" r="0.89" fill="#9094e0" opacity="1.0"/>
<circle cx="243.95" cy="240.66" r="0.54" fill="#6c70d4" opacity="1.0"/>
<circle cx="245.23" cy="246.12" r="0.52" fill="#5a60cc" opacity="1.0"/>
<circle cx="250.88" cy="248.58" r="0.94" fill="#7c80dc" opacity="1.0"/>
<circle cx="250.33" cy="249.09" r="1.09" fill="#7c80dc" opacity="1.0"/>
<circle cx="231.24" cy="232.35" r="0.56" fill="#5a60cc" opacity="1.0"/>
<circle cx="241.94" cy="242.28" r="0.53" fill="#5a60cc" opacity="1.0"/>
<circle cx="227.86" cy="234.70" r="0.95" fill="#c0c4f0" opacity="1.0"/>
<circle cx="226.33" cy="232.22" r="0.65" fill="#7c80dc" opacity="1.0"/>
<circle cx="251.84" cy="249.58" r="0.56" fill="#7c80dc" opacity="1.0"/>
<circle cx="248.05" cy="246.75" r="0.64" fill="#5a60cc" opacity="1.0"/>
<circle cx="229.28" cy="236.24" r="0.96" fill="#9094e0" opacity="1.0"/>
<circle cx="252.37" cy="250.09" r="0.53" fill="#5a60cc" opacity="1.0"/>
<circle cx="244.79" cy="244.34" r="0.66" fill="#6c70d4" opacity="1.0"/>
<circle cx="238.93" cy="242.26" r="0.65" fill="#5a60cc" opacity="1.0"/>
<circle cx="235.29" cy="237.30" r="0.93" fill="#9094e0" opacity="1.0"/>
<circle cx="243.04" cy="242.42" r="1.00" fill="#c0c4f0" opacity="1.0"/>
<circle cx="234.36" cy="239.90" r="0.89" fill="#7c80dc" opacity="1.0"/>
<circle cx="243.29" cy="247.83" r="1.01" fill="#7c80dc" opacity="1.0"/>
<circle cx="241.20" cy="246.38" r="0.68" fill="#9094e0" opacity="1.0"/>
<circle cx="224.39" cy="231.64" r="0.79" fill="#5a60cc" opacity="1.0"/>
<circle cx="242.88" cy="243.92" r="0.71" fill="#5a60cc" opacity="1.0"/>
<circle cx="236.76" cy="239.18" r="1.05" fill="#9094e0" opacity="1.0"/>
<circle cx="231.55" cy="237.31" r="1.01" fill="#5a60cc" opacity="1.0"/>
<circle cx="227.82" cy="232.88" r="0.82" fill="#c0c4f0" opacity="1.0"/>
<circle cx="230.92" cy="233.84" r="1.08" fill="#6c70d4" opacity="1.0"/>
<circle cx="246.04" cy="244.88" r="0.88" fill="#5a60cc" opacity="1.0"/>
<circle cx="228.04" cy="234.90" r="0.64" fill="#5a60cc" opacity="1.0"/>
<circle cx="238.51" cy="241.26" r="0.63" fill="#c0c4f0" opacity="1.0"/>
<circle cx="237.66" cy="239.14" r="0.76" fill="#5a60cc" opacity="1.0"/>
<circle cx="229.46" cy="233.98" r="0.64" fill="#7c80dc" opacity="1.0"/>
<circle cx="246.59" cy="247.21" r="0.77" fill="#5a60cc" opacity="1.0"/>
<circle cx="237.26" cy="242.79" r="0.96" fill="#c0c4f0" opacity="1.0"/>
<circle cx="239.63" cy="240.80" r="0.64" fill="#9094e0" opacity="1.0"/>
<circle cx="236.38" cy="243.01" r="1.05" fill="#5a60cc" opacity="1.0"/>
<circle cx="247.18" cy="245.02" r="0.82" fill="#c0c4f0" opacity="1.0"/>
<circle cx="233.73" cy="238.13" r="1.08" fill="#7c80dc" opacity="1.0"/>
<circle cx="237.57" cy="242.30" r="0.50" fill="#9094e0" opacity="1.0"/>
<circle cx="226.75" cy="235.90" r="0.51" fill="#9094e0" opacity="1.0"/>
<circle cx="233.35" cy="233.11" r="0.52" fill="#c0c4f0" opacity="1.0"/>
<circle cx="238.73" cy="242.69" r="0.61" fill="#6c70d4" opacity="1.0"/>
<circle cx="243.13" cy="238.71" r="0.94" fill="#7c80dc" opacity="1.0"/>
<circle cx="241.01" cy="242.55" r="0.64" fill="#6c70d4" opacity="1.0"/>
<circle cx="252.49" cy="248.91" r="1.09" fill="#9094e0" opacity="1.0"/>
<circle cx="251.52" cy="248.96" r="0.63" fill="#c0c4f0" opacity="1.0"/>
<circle cx="229.50" cy="232.37" r="0.95" fill="#9094e0" opacity="1.0"/>
<circle cx="236.96" cy="240.97" r="0.96" fill="#6c70d4" opacity="1.0"/>
<circle cx="229.45" cy="235.95" r="0.96" fill="#7c80dc" opacity="1.0"/>
<circle cx="249.58" cy="250.06" r="0.90" fill="#9094e0" opacity="1.0"/>
<circle cx="231.49" cy="234.14" r="0.68" fill="#6c70d4" opacity="1.0"/>
<circle cx="242.89" cy="242.49" r="0.90" fill="#6c70d4" opacity="1.0"/>
<circle cx="225.80" cy="234.89" r="0.53" fill="#9094e0" opacity="1.0"/>
<circle cx="225.67" cy="232.52" r="0.96" fill="#6c70d4" opacity="1.0"/>
<circle cx="241.89" cy="242.95" r="1.10" fill="#6c70d4" opacity="1.0"/>
<circle cx="235.48" cy="238.36" r="0.81" fill="#6c70d4" opacity="1.0"/>
<circle cx="235.18" cy="239.32" r="0.60" fill="#9094e0" opacity="1.0"/>
<circle cx="225.14" cy="233.51" r="0.54" fill="#c0c4f0" opacity="1.0"/>
<circle cx="251.85" cy="250.56" r="1.00" fill="#c0c4f0" opacity="1.0"/>
<circle cx="240.13" cy="241.98" r="0.62" fill="#6c70d4" opacity="1.0"/>
<circle cx="246.61" cy="246.94" r="0.66" fill="#9094e0" opacity="1.0"/>
<circle cx="232.80" cy="237.89" r="0.65" fill="#7c80dc" opacity="1.0"/>
<circle cx="242.59" cy="241.60" r="0.70" fill="#5a60cc" opacity="1.0"/>
<circle cx="236.13" cy="237.84" r="1.00" fill="#6c70d4" opacity="1.0"/>
<circle cx="238.95" cy="245.18" r="0.68" fill="#9094e0" opacity="1.0"/>
<circle cx="225.76" cy="232.09" r="0.62" fill="#c0c4f0" opacity="1.0"/>
<circle cx="242.44" cy="242.43" r="0.75" fill="#7c80dc" opacity="1.0"/>
<circle cx="230.88" cy="237.52" r="0.85" fill="#9094e0" opacity="1.0"/>
<circle cx="229.59" cy="236.19" r="0.96" fill="#7c80dc" opacity="1.0"/>
<circle cx="225.36" cy="231.21" r="0.72" fill="#5a60cc" opacity="1.0"/>
<circle cx="228.59" cy="239.00" r="0.77" fill="#7c80dc" opacity="1.0"/>
<circle cx="244.29" cy="245.36" r="0.77" fill="#5a60cc" opacity="1.0"/>
<circle cx="241.25" cy="241.86" r="0.87" fill="#6c70d4" opacity="1.0"/>
<circle cx="226.53" cy="234.75" r="0.93" fill="#9094e0" opacity="1.0"/>
<circle cx="245.49" cy="246.50" r="0.65" fill="#7c80dc" opacity="1.0"/>
<circle cx="247.61" cy="247.14" r="0.59" fill="#6c70d4" opacity="1.0"/>
<circle cx="228.25" cy="235.25" r="1.02" fill="#5a60cc" opacity="1.0"/>
<circle cx="243.53" cy="242.38" r="0.51" fill="#5a60cc" opacity="1.0"/>
<circle cx="241.88" cy="242.37" r="0.85" fill="#5a60cc" opacity="1.0"/>
<circle cx="230.67" cy="235.88" r="0.86" fill="#9094e0" opacity="1.0"/>
<circle cx="238.50" cy="240.07" r="1.06" fill="#c0c4f0" opacity="1.0"/>
<circle cx="233.53" cy="241.00" r="0.76" fill="#9094e0" opacity="1.0"/>
<circle cx="236.10" cy="238.94" r="0.62" fill="#9094e0" opacity="1.0"/>
<circle cx="240.74" cy="241.51" r="1.08" fill="#5a60cc" opacity="1.0"/>
<circle cx="225.05" cy="231.31" r="0.53" fill="#7c80dc" opacity="1.0"/>
</g>
<g filter="url(#b07)">
<circle cx="233.28" cy="237.70" r="0.79" fill="#bcd448" opacity="1.0"/>
<circle cx="227.74" cy="233.99" r="1.05" fill="#b0d040" opacity="1.0"/>
<circle cx="233.64" cy="237.20" r="1.08" fill="#bcd448" opacity="1.0"/>
<circle cx="231.37" cy="233.01" r="0.52" fill="#bcd448" opacity="1.0"/>
<circle cx="228.35" cy="233.68" r="0.79" fill="#a0c850" opacity="1.0"/>
<circle cx="226.43" cy="233.18" r="0.97" fill="#bcd448" opacity="1.0"/>
<circle cx="224.65" cy="232.70" r="0.73" fill="#b0d040" opacity="1.0"/>
<circle cx="229.58" cy="234.75" r="0.90" fill="#bcd448" opacity="1.0"/>
<circle cx="228.97" cy="235.04" r="0.82" fill="#b0d040" opacity="1.0"/>
<circle cx="226.28" cy="233.54" r="0.69" fill="#a0c850" opacity="1.0"/>
<circle cx="229.12" cy="232.05" r="0.86" fill="#b0d040" opacity="1.0"/>
<circle cx="224.23" cy="230.71" r="0.89" fill="#a0c850" opacity="1.0"/>
<circle cx="228.16" cy="234.99" r="0.96" fill="#b0d040" opacity="1.0"/>
<circle cx="224.77" cy="232.63" r="0.86" fill="#bcd448" opacity="1.0"/>
<circle cx="226.17" cy="231.91" r="0.60" fill="#a0c850" opacity="1.0"/>
<circle cx="231.89" cy="235.54" r="0.59" fill="#b0d040" opacity="1.0"/>
<circle cx="233.32" cy="234.06" r="0.99" fill="#b0d040" opacity="1.0"/>
<circle cx="228.82" cy="234.90" r="1.00" fill="#a0c850" opacity="1.0"/>
<circle cx="231.01" cy="236.38" r="0.90" fill="#b0d040" opacity="1.0"/>
<circle cx="231.12" cy="234.33" r="0.99" fill="#b0d040" opacity="1.0"/>
<circle cx="230.81" cy="236.06" r="0.54" fill="#b0d040" opacity="1.0"/>
<circle cx="225.53" cy="231.38" r="1.05" fill="#b0d040" opacity="1.0"/>
<circle cx="231.88" cy="234.62" r="0.90" fill="#b0d040" opacity="1.0"/>
<circle cx="227.43" cy="232.11" r="1.09" fill="#b0d040" opacity="1.0"/>
<circle cx="229.38" cy="234.44" r="0.91" fill="#b0d040" opacity="1.0"/>
<circle cx="227.55" cy="232.41" r="0.62" fill="#bcd448" opacity="1.0"/>
<circle cx="225.41" cy="233.05" r="1.06" fill="#b0d040" opacity="1.0"/>
<circle cx="230.89" cy="236.65" r="1.03" fill="#b0d040" opacity="1.0"/>
<circle cx="226.51" cy="232.00" r="0.72" fill="#b0d040" opacity="1.0"/>
<circle cx="225.30" cy="232.67" r="0.74" fill="#b0d040" opacity="1.0"/>
<circle cx="228.76" cy="234.03" r="0.95" fill="#a0c850" opacity="1.0"/>
<circle cx="233.46" cy="236.43" r="0.66" fill="#bcd448" opacity="1.0"/>
<circle cx="231.61" cy="233.82" r="0.85" fill="#a0c850" opacity="1.0"/>
<circle cx="231.22" cy="234.69" r="0.66" fill="#a0c850" opacity="1.0"/>
<circle cx="224.54" cy="232.67" r="0.79" fill="#b0d040" opacity="1.0"/>
<circle cx="233.47" cy="237.12" r="0.54" fill="#a0c850" opacity="1.0"/>
<circle cx="225.53" cy="234.33" r="0.67" fill="#bcd448" opacity="1.0"/>
<circle cx="232.87" cy="235.28" r="0.60" fill="#b0d040" opacity="1.0"/>
<circle cx="227.12" cy="232.90" r="0.71" fill="#b0d040" opacity="1.0"/>
<circle cx="226.05" cy="232.81" r="0.71" fill="#b0d040" opacity="1.0"/>
<circle cx="225.19" cy="230.28" r="0.97" fill="#bcd448" opacity="1.0"/>
<circle cx="231.71" cy="235.26" r="0.93" fill="#bcd448" opacity="1.0"/>
<circle cx="227.85" cy="236.38" r="1.08" fill="#b0d040" opacity="1.0"/>
<circle cx="229.63" cy="234.36" r="0.71" fill="#a0c850" opacity="1.0"/>
<circle cx="226.54" cy="231.02" r="0.95" fill="#b0d040" opacity="1.0"/>
</g>
<g filter="url(#b07)">
<circle cx="244.54" cy="244.69" r="0.93" fill="#b0d848" opacity="1.0"/>
<circle cx="244.90" cy="242.68" r="0.94" fill="#b0d848" opacity="1.0"/>
<circle cx="239.96" cy="241.73" r="1.09" fill="#c8e040" opacity="1.0"/>
<circle cx="246.68" cy="243.82" r="0.66" fill="#b0d848" opacity="1.0"/>
<circle cx="240.63" cy="241.20" r="0.62" fill="#c0dc40" opacity="1.0"/>
<circle cx="241.43" cy="241.40" r="0.80" fill="#b0d848" opacity="1.0"/>
<circle cx="247.41" cy="244.48" r="1.06" fill="#c8e040" opacity="1.0"/>
<circle cx="242.63" cy="241.97" r="0.55" fill="#b0d848" opacity="1.0"/>
<circle cx="246.26" cy="241.34" r="0.89" fill="#c0dc40" opacity="1.0"/>
<circle cx="245.02" cy="246.28" r="0.77" fill="#c8e040" opacity="1.0"/>
<circle cx="243.06" cy="240.64" r="0.64" fill="#c0dc40" opacity="1.0"/>
<circle cx="240.17" cy="242.20" r="0.95" fill="#c0dc40" opacity="1.0"/>
<circle cx="246.07" cy="245.82" r="0.74" fill="#c8e040" opacity="1.0"/>
<circle cx="242.20" cy="242.22" r="0.53" fill="#c8e040" opacity="1.0"/>
<circle cx="241.26" cy="241.68" r="0.82" fill="#b0d848" opacity="1.0"/>
<circle cx="243.45" cy="242.22" r="0.61" fill="#c0dc40" opacity="1.0"/>
<circle cx="244.02" cy="243.93" r="0.62" fill="#c8e040" opacity="1.0"/>
<circle cx="241.34" cy="240.88" r="0.89" fill="#c0dc40" opacity="1.0"/>
<circle cx="243.11" cy="243.08" r="0.89" fill="#c0dc40" opacity="1.0"/>
<circle cx="246.49" cy="245.17" r="0.86" fill="#c8e040" opacity="1.0"/>
<circle cx="242.13" cy="241.97" r="0.78" fill="#c8e040" opacity="1.0"/>
<circle cx="243.39" cy="240.16" r="1.00" fill="#b0d848" opacity="1.0"/>
<circle cx="242.95" cy="242.38" r="0.76" fill="#b0d848" opacity="1.0"/>
<circle cx="244.14" cy="241.99" r="0.56" fill="#c0dc40" opacity="1.0"/>
<circle cx="243.23" cy="240.64" r="0.82" fill="#c8e040" opacity="1.0"/>
<circle cx="243.62" cy="241.90" r="0.61" fill="#c8e040" opacity="1.0"/>
<circle cx="246.04" cy="241.91" r="1.02" fill="#c8e040" opacity="1.0"/>
<circle cx="244.75" cy="244.07" r="0.59" fill="#b0d848" opacity="1.0"/>
<circle cx="247.42" cy="245.38" r="0.82" fill="#c8e040" opacity="1.0"/>
<circle cx="246.14" cy="245.00" r="0.51" fill="#b0d848" opacity="1.0"/>
<circle cx="244.52" cy="241.80" r="0.90" fill="#b0d848" opacity="1.0"/>
<circle cx="243.66" cy="242.48" r="1.01" fill="#b0d848" opacity="1.0"/>
<circle cx="246.12" cy="245.48" r="0.83" fill="#c0dc40" opacity="1.0"/>
<circle cx="244.09" cy="243.51" r="1.09" fill="#c0dc40" opacity="1.0"/>
<circle cx="242.46" cy="243.13" r="0.85" fill="#c0dc40" opacity="1.0"/>
<circle cx="245.05" cy="244.50" r="0.52" fill="#c0dc40" opacity="1.0"/>
<circle cx="245.65" cy="241.67" r="0.89" fill="#b0d848" opacity="1.0"/>
<circle cx="248.01" cy="245.52" r="0.95" fill="#c0dc40" opacity="1.0"/>
<circle cx="242.30" cy="243.77" r="0.90" fill="#c0dc40" opacity="1.0"/>
<circle cx="246.88" cy="246.18" r="0.85" fill="#c0dc40" opacity="1.0"/>
</g>
<rect x="360.4" y="31.8" width="15.3" height="15.2" fill="#d0fafa"/>
<rect x="375.7" y="31.8" width="16" height="20" fill="#fbe8f8"/>
<polygon points="362.50,33.80 362.96,34.64 363.51,35.29 364.08,35.88 364.67,36.45 365.28,36.98 365.89,37.49 366.52,37.99 367.16,38.45 367.80,38.90 368.46,39.33 369.12,39.74 369.80,40.12 370.48,40.49 371.18,40.84 371.91,41.11 372.70,41.25 373.55,41.27 374.46,41.18 375.42,40.96 376.50,40.50 376.50,40.50 376.18,39.37 375.74,38.48 375.25,37.72 374.70,37.07 374.09,36.54 373.42,36.14 372.72,35.82 372.00,35.52 371.28,35.23 370.54,34.97 369.80,34.73 369.04,34.51 368.28,34.30 367.51,34.13 366.72,33.97 365.93,33.83 365.12,33.73 364.29,33.65 363.44,33.63 362.50,33.80" fill="#5ec020" opacity="1" filter="url(#b05)"/>
<g filter="url(#b06)">
<circle cx="370.32" cy="35.43" r="0.66" fill="#50b818" opacity="1.0"/>
<circle cx="373.71" cy="38.70" r="0.51" fill="#50b818" opacity="1.0"/>
<circle cx="368.04" cy="35.60" r="0.58" fill="#5cc020" opacity="1.0"/>
<circle cx="374.45" cy="40.16" r="0.84" fill="#68c828" opacity="1.0"/>
<circle cx="367.64" cy="35.70" r="0.86" fill="#50b818" opacity="1.0"/>
<circle cx="374.70" cy="40.04" r="0.87" fill="#50b818" opacity="1.0"/>
<circle cx="368.94" cy="36.45" r="0.91" fill="#68c828" opacity="1.0"/>
<circle cx="372.79" cy="39.83" r="0.81" fill="#78d030" opacity="1.0"/>
<circle cx="368.18" cy="36.89" r="0.68" fill="#5cc020" opacity="1.0"/>
<circle cx="369.88" cy="37.77" r="0.54" fill="#50b818" opacity="1.0"/>
<circle cx="376.09" cy="40.27" r="0.67" fill="#5cc020" opacity="1.0"/>
<circle cx="368.00" cy="36.78" r="0.56" fill="#50b818" opacity="1.0"/>
<circle cx="370.45" cy="39.15" r="0.71" fill="#78d030" opacity="1.0"/>
<circle cx="365.44" cy="35.45" r="0.54" fill="#78d030" opacity="1.0"/>
<circle cx="364.52" cy="34.28" r="0.81" fill="#78d030" opacity="1.0"/>
<circle cx="363.77" cy="33.43" r="0.93" fill="#68c828" opacity="1.0"/>
<circle cx="371.94" cy="39.58" r="0.92" fill="#78d030" opacity="1.0"/>
<circle cx="375.86" cy="38.98" r="0.54" fill="#5cc020" opacity="1.0"/>
<circle cx="372.13" cy="38.82" r="0.80" fill="#78d030" opacity="1.0"/>
<circle cx="366.35" cy="35.03" r="0.60" fill="#78d030" opacity="1.0"/>
<circle cx="368.72" cy="35.88" r="0.62" fill="#5cc020" opacity="1.0"/>
<circle cx="365.16" cy="35.15" r="0.73" fill="#50b818" opacity="1.0"/>
<circle cx="374.22" cy="40.71" r="0.55" fill="#68c828" opacity="1.0"/>
<circle cx="364.98" cy="34.65" r="0.55" fill="#68c828" opacity="1.0"/>
<circle cx="369.09" cy="37.99" r="0.62" fill="#78d030" opacity="1.0"/>
<circle cx="371.18" cy="38.55" r="0.84" fill="#78d030" opacity="1.0"/>
<circle cx="373.25" cy="38.92" r="0.53" fill="#5cc020" opacity="1.0"/>
<circle cx="373.98" cy="38.24" r="0.93" fill="#50b818" opacity="1.0"/>
<circle cx="373.39" cy="37.90" r="0.84" fill="#5cc020" opacity="1.0"/>
<circle cx="363.66" cy="34.40" r="0.67" fill="#78d030" opacity="1.0"/>
</g>
<polygon points="375.00,37.20 375.16,38.52 375.55,39.55 376.04,40.48 376.60,41.33 377.23,42.10 377.94,42.78 378.68,43.41 379.45,44.02 380.22,44.62 381.02,45.20 381.82,45.76 382.64,46.31 383.48,46.84 384.33,47.35 385.19,47.85 386.07,48.33 386.96,48.80 387.87,49.24 388.80,49.66 389.80,50.00 389.80,50.00 389.32,49.06 388.77,48.20 388.20,47.36 387.61,46.55 387.01,45.75 386.39,44.97 385.76,44.20 385.12,43.45 384.46,42.72 383.78,42.00 383.10,41.30 382.39,40.62 381.68,39.95 380.94,39.30 380.17,38.70 379.32,38.19 378.40,37.76 377.41,37.41 376.32,37.16 375.00,37.20" fill="#8a5418" opacity="1" filter="url(#b05)"/>
<polygon points="376.50,38.80 376.88,39.67 377.37,40.41 377.89,41.11 378.45,41.77 379.03,42.40 379.64,43.00 380.27,43.57 380.93,44.11 381.59,44.64 382.27,45.17 382.95,45.68 383.64,46.18 384.34,46.68 385.04,47.16 385.76,47.63 386.48,48.10 387.21,48.55 387.95,48.99 388.71,49.42 389.50,49.80 389.50,49.80 388.99,49.08 388.45,48.41 387.89,47.75 387.32,47.10 386.74,46.47 386.16,45.84 385.56,45.22 384.96,44.62 384.35,44.02 383.73,43.43 383.11,42.86 382.47,42.29 381.83,41.73 381.16,41.20 380.47,40.70 379.75,40.23 379.01,39.79 378.23,39.39 377.42,39.03 376.50,38.80" fill="#4a2a0a" opacity="1" filter="url(#b05)"/>
<circle cx="364.6" cy="29.3" r="0.7" fill="#a09090"/>
<rect x="351.8" y="112" width="24.2" height="16" fill="#e8fcfc"/>
<rect x="351.8" y="128" width="24.2" height="16" fill="#c8f6f6"/>
<rect x="376" y="128" width="16" height="16" fill="#fbe8f8"/>
<path d="M350,131 Q351,126 358,126.5 L366,127.5 Q372,129 376,134 L376,139.5 Q370,139 364,137.5 L356,137 Q350,136 350,131 Z" fill="#4cc410" filter="url(#b05)"/>
<g filter="url(#b06)">
<circle cx="358.14" cy="131.07" r="1.19" fill="#4cc410" opacity="1.0"/>
<circle cx="356.53" cy="130.49" r="0.72" fill="#4cc410" opacity="1.0"/>
<circle cx="366.52" cy="130.60" r="0.92" fill="#58c818" opacity="1.0"/>
<circle cx="369.69" cy="135.52" r="0.81" fill="#4cc410" opacity="1.0"/>
<circle cx="350.78" cy="127.56" r="0.95" fill="#4cc410" opacity="1.0"/>
<circle cx="358.42" cy="130.15" r="1.10" fill="#58c818" opacity="1.0"/>
<circle cx="373.97" cy="139.06" r="0.75" fill="#4cc410" opacity="1.0"/>
<circle cx="353.73" cy="129.31" r="1.08" fill="#40b810" opacity="1.0"/>
<circle cx="359.35" cy="130.36" r="0.73" fill="#4cc410" opacity="1.0"/>
<circle cx="351.49" cy="128.28" r="0.75" fill="#58c818" opacity="1.0"/>
<circle cx="354.04" cy="127.13" r="0.96" fill="#58c818" opacity="1.0"/>
<circle cx="357.16" cy="131.35" r="0.66" fill="#58c818" opacity="1.0"/>
<circle cx="365.58" cy="135.25" r="0.93" fill="#58c818" opacity="1.0"/>
<circle cx="351.59" cy="130.05" r="1.05" fill="#40b810" opacity="1.0"/>
<circle cx="369.83" cy="135.53" r="0.61" fill="#4cc410" opacity="1.0"/>
<circle cx="354.41" cy="132.75" r="0.80" fill="#40b810" opacity="1.0"/>
<circle cx="370.28" cy="138.56" r="0.76" fill="#4cc410" opacity="1.0"/>
<circle cx="376.23" cy="136.02" r="0.90" fill="#58c818" opacity="1.0"/>
<circle cx="355.60" cy="130.97" r="1.20" fill="#58c818" opacity="1.0"/>
<circle cx="357.02" cy="130.41" r="0.88" fill="#58c818" opacity="1.0"/>
<circle cx="358.31" cy="129.65" r="0.89" fill="#58c818" opacity="1.0"/>
<circle cx="349.73" cy="127.88" r="1.11" fill="#4cc410" opacity="1.0"/>
<circle cx="362.04" cy="131.19" r="1.00" fill="#58c818" opacity="1.0"/>
<circle cx="368.25" cy="133.24" r="0.63" fill="#58c818" opacity="1.0"/>
<circle cx="351.20" cy="128.66" r="1.01" fill="#58c818" opacity="1.0"/>
<circle cx="366.60" cy="137.12" r="0.93" fill="#58c818" opacity="1.0"/>
<circle cx="364.57" cy="135.64" r="0.94" fill="#40b810" opacity="1.0"/>
<circle cx="366.02" cy="134.85" r="0.78" fill="#40b810" opacity="1.0"/>
<circle cx="363.96" cy="133.81" r="0.99" fill="#58c818" opacity="1.0"/>
<circle cx="360.57" cy="128.92" r="0.85" fill="#58c818" opacity="1.0"/>
<circle cx="359.92" cy="129.58" r="0.96" fill="#4cc410" opacity="1.0"/>
<circle cx="369.58" cy="134.50" r="0.75" fill="#4cc410" opacity="1.0"/>
<circle cx="361.36" cy="135.22" r="1.08" fill="#58c818" opacity="1.0"/>
<circle cx="360.53" cy="130.46" r="0.87" fill="#58c818" opacity="1.0"/>
<circle cx="361.73" cy="131.78" r="0.94" fill="#40b810" opacity="1.0"/>
<circle cx="373.78" cy="136.69" r="0.87" fill="#4cc410" opacity="1.0"/>
<circle cx="365.82" cy="136.89" r="1.05" fill="#58c818" opacity="1.0"/>
<circle cx="352.05" cy="132.72" r="0.89" fill="#40b810" opacity="1.0"/>
<circle cx="353.27" cy="129.27" r="1.05" fill="#4cc410" opacity="1.0"/>
<circle cx="375.30" cy="137.06" r="0.89" fill="#4cc410" opacity="1.0"/>
</g>
<polygon points="364.00,134.00 364.39,134.59 364.84,135.07 365.31,135.51 365.80,135.92 366.29,136.32 366.80,136.69 367.31,137.05 367.84,137.39 368.37,137.71 368.92,138.01 369.47,138.28 370.04,138.54 370.62,138.78 371.21,138.99 371.81,139.19 372.42,139.36 373.04,139.52 373.67,139.65 374.32,139.76 375.00,139.80 375.00,139.80 374.58,139.26 374.13,138.79 373.66,138.34 373.18,137.92 372.69,137.51 372.19,137.13 371.68,136.76 371.16,136.42 370.63,136.10 370.08,135.79 369.53,135.51 368.96,135.25 368.39,135.01 367.80,134.79 367.21,134.58 366.60,134.40 365.99,134.23 365.36,134.09 364.71,133.99 364.00,134.00" fill="#50c410" opacity="1" filter="url(#b05)"/>
<polygon points="375.50,133.00 375.61,134.19 375.95,135.10 376.37,135.92 376.85,136.65 377.40,137.30 378.02,137.86 378.67,138.38 379.35,138.88 380.03,139.36 380.73,139.82 381.44,140.27 382.16,140.71 382.90,141.12 383.65,141.52 384.42,141.91 385.19,142.28 385.98,142.63 386.78,142.96 387.61,143.27 388.50,143.50 388.50,143.50 388.09,142.68 387.62,141.94 387.12,141.22 386.61,140.52 386.08,139.84 385.55,139.18 385.00,138.53 384.44,137.89 383.86,137.28 383.27,136.68 382.67,136.09 382.05,135.52 381.43,134.97 380.78,134.44 380.10,133.95 379.35,133.55 378.53,133.23 377.65,133.00 376.69,132.86 375.50,133.00" fill="#845018" opacity="1" filter="url(#b05)"/>
<polygon points="377.00,134.50 377.33,135.24 377.75,135.86 378.21,136.44 378.69,136.99 379.20,137.51 379.73,137.99 380.28,138.45 380.85,138.88 381.42,139.31 382.01,139.72 382.60,140.13 383.20,140.52 383.81,140.91 384.42,141.28 385.05,141.65 385.67,142.01 386.31,142.36 386.95,142.70 387.61,143.02 388.30,143.30 388.30,143.30 387.86,142.70 387.39,142.14 386.90,141.60 386.41,141.07 385.90,140.55 385.40,140.04 384.88,139.53 384.36,139.04 383.83,138.55 383.29,138.08 382.75,137.61 382.19,137.16 381.63,136.71 381.05,136.29 380.45,135.89 379.83,135.53 379.18,135.20 378.51,134.90 377.80,134.64 377.00,134.50" fill="#4a2a0a" opacity="1" filter="url(#b05)"/>
<circle cx="349.8" cy="125.5" r="0.6" fill="#b0a070"/><circle cx="350.5" cy="133" r="0.6" fill="#b0a070"/>
<rect x="352" y="224" width="32" height="15.7" fill="#fbe4f6"/>
<rect x="352" y="210" width="8" height="14" fill="#fdf0fa"/>
<rect x="384" y="224" width="16" height="31" fill="#d8fafa"/>
<path d="M347.5,226 Q352,221.5 358,222 Q366,224 376,229 Q382,232 385,236 L384,239.5 Q378,238 370,235 Q360,231.5 352,229 Q348,228 347.5,226 Z" fill="#8e3c10" filter="url(#b05)"/>
<g filter="url(#b06)">
<circle cx="366.83" cy="230.35" r="0.73" fill="#8e3c10" opacity="1.0"/>
<circle cx="353.21" cy="228.10" r="0.77" fill="#8e3c10" opacity="1.0"/>
<circle cx="381.13" cy="236.96" r="0.68" fill="#963e10" opacity="1.0"/>
<circle cx="369.37" cy="234.64" r="0.63" fill="#7a3410" opacity="1.0"/>
<circle cx="380.17" cy="236.05" r="1.02" fill="#7a3410" opacity="1.0"/>
<circle cx="354.45" cy="227.58" r="1.03" fill="#963e10" opacity="1.0"/>
<circle cx="372.29" cy="231.88" r="0.51" fill="#a04810" opacity="1.0"/>
<circle cx="360.18" cy="230.74" r="0.71" fill="#7a3410" opacity="1.0"/>
<circle cx="369.19" cy="232.98" r="0.54" fill="#a04810" opacity="1.0"/>
<circle cx="372.27" cy="233.50" r="1.02" fill="#963e10" opacity="1.0"/>
<circle cx="381.50" cy="237.56" r="0.61" fill="#963e10" opacity="1.0"/>
<circle cx="370.36" cy="234.25" r="0.68" fill="#8e3c10" opacity="1.0"/>
<circle cx="348.45" cy="225.01" r="1.01" fill="#a04810" opacity="1.0"/>
<circle cx="361.95" cy="230.39" r="0.52" fill="#7a3410" opacity="1.0"/>
<circle cx="379.43" cy="237.86" r="1.04" fill="#a04810" opacity="1.0"/>
<circle cx="358.78" cy="229.57" r="0.75" fill="#8e3c10" opacity="1.0"/>
<circle cx="363.25" cy="231.16" r="0.95" fill="#a04810" opacity="1.0"/>
<circle cx="372.97" cy="234.80" r="0.71" fill="#7a3410" opacity="1.0"/>
<circle cx="380.36" cy="236.76" r="1.01" fill="#a04810" opacity="1.0"/>
<circle cx="366.32" cy="231.98" r="0.70" fill="#963e10" opacity="1.0"/>
<circle cx="356.77" cy="231.58" r="0.74" fill="#7a3410" opacity="1.0"/>
<circle cx="363.63" cy="230.44" r="0.96" fill="#963e10" opacity="1.0"/>
<circle cx="383.50" cy="240.61" r="0.81" fill="#963e10" opacity="1.0"/>
<circle cx="374.16" cy="234.57" r="0.65" fill="#7a3410" opacity="1.0"/>
<circle cx="349.47" cy="226.41" r="0.60" fill="#a04810" opacity="1.0"/>
<circle cx="354.44" cy="226.04" r="0.54" fill="#a04810" opacity="1.0"/>
<circle cx="359.40" cy="228.41" r="1.10" fill="#963e10" opacity="1.0"/>
<circle cx="357.07" cy="225.76" r="0.94" fill="#8e3c10" opacity="1.0"/>
<circle cx="358.88" cy="229.53" r="0.55" fill="#8e3c10" opacity="1.0"/>
<circle cx="350.38" cy="225.15" r="0.59" fill="#963e10" opacity="1.0"/>
<circle cx="384.83" cy="236.29" r="0.58" fill="#963e10" opacity="1.0"/>
<circle cx="370.85" cy="233.41" r="0.94" fill="#a04810" opacity="1.0"/>
<circle cx="356.54" cy="228.10" r="0.68" fill="#963e10" opacity="1.0"/>
<circle cx="366.10" cy="230.34" r="0.53" fill="#963e10" opacity="1.0"/>
<circle cx="354.04" cy="226.57" r="0.77" fill="#963e10" opacity="1.0"/>
<circle cx="352.70" cy="228.47" r="1.03" fill="#a04810" opacity="1.0"/>
<circle cx="375.82" cy="234.15" r="1.01" fill="#7a3410" opacity="1.0"/>
<circle cx="356.55" cy="229.03" r="1.03" fill="#7a3410" opacity="1.0"/>
<circle cx="353.43" cy="229.04" r="0.59" fill="#963e10" opacity="1.0"/>
<circle cx="364.80" cy="231.17" r="0.83" fill="#a04810" opacity="1.0"/>
<circle cx="365.60" cy="233.82" r="0.71" fill="#963e10" opacity="1.0"/>
<circle cx="347.36" cy="226.61" r="0.71" fill="#7a3410" opacity="1.0"/>
<circle cx="349.57" cy="225.95" r="0.59" fill="#a04810" opacity="1.0"/>
<circle cx="371.48" cy="235.26" r="0.54" fill="#7a3410" opacity="1.0"/>
<circle cx="376.07" cy="236.14" r="0.81" fill="#7a3410" opacity="1.0"/>
<circle cx="351.77" cy="227.30" r="0.89" fill="#7a3410" opacity="1.0"/>
<circle cx="366.50" cy="230.72" r="0.81" fill="#a04810" opacity="1.0"/>
<circle cx="349.30" cy="224.35" r="0.71" fill="#8e3c10" opacity="1.0"/>
<circle cx="347.24" cy="226.31" r="0.83" fill="#7a3410" opacity="1.0"/>
<circle cx="363.66" cy="231.32" r="0.85" fill="#a04810" opacity="1.0"/>
</g>
<polygon points="382.50,233.00 382.65,234.29 383.04,235.31 383.50,236.24 384.03,237.09 384.61,237.89 385.25,238.61 385.94,239.27 386.68,239.88 387.43,240.47 388.20,241.04 388.99,241.59 389.80,242.12 390.63,242.63 391.47,243.11 392.34,243.58 393.22,244.03 394.11,244.45 395.03,244.85 395.97,245.22 397.00,245.50 397.00,245.50 396.58,244.53 396.07,243.65 395.54,242.80 394.98,241.97 394.41,241.17 393.83,240.39 393.22,239.62 392.60,238.88 391.96,238.16 391.30,237.46 390.62,236.78 389.92,236.12 389.21,235.48 388.45,234.89 387.64,234.36 386.77,233.91 385.85,233.51 384.86,233.19 383.80,232.96 382.50,233.00" fill="#62c220" opacity="1" filter="url(#b05)"/>
<g filter="url(#b06)">
<circle cx="386.22" cy="235.30" r="0.98" fill="#60c020" opacity="1.0"/>
<circle cx="393.05" cy="242.45" r="0.84" fill="#60c020" opacity="1.0"/>
<circle cx="392.17" cy="242.83" r="0.92" fill="#60c020" opacity="1.0"/>
<circle cx="387.39" cy="237.73" r="0.92" fill="#60c020" opacity="1.0"/>
<circle cx="390.37" cy="238.36" r="0.89" fill="#60c020" opacity="1.0"/>
<circle cx="390.43" cy="238.36" r="0.59" fill="#60c020" opacity="1.0"/>
<circle cx="386.82" cy="236.88" r="0.68" fill="#58b818" opacity="1.0"/>
<circle cx="393.49" cy="242.52" r="0.71" fill="#6cc828" opacity="1.0"/>
<circle cx="390.67" cy="241.84" r="0.51" fill="#6cc828" opacity="1.0"/>
<circle cx="385.65" cy="235.21" r="0.85" fill="#60c020" opacity="1.0"/>
<circle cx="387.42" cy="237.50" r="0.56" fill="#60c020" opacity="1.0"/>
<circle cx="390.89" cy="240.62" r="0.85" fill="#6cc828" opacity="1.0"/>
<circle cx="395.87" cy="244.02" r="0.71" fill="#60c020" opacity="1.0"/>
<circle cx="386.96" cy="238.08" r="0.93" fill="#60c020" opacity="1.0"/>
<circle cx="392.18" cy="240.69" r="0.73" fill="#60c020" opacity="1.0"/>
<circle cx="385.73" cy="234.82" r="0.70" fill="#6cc828" opacity="1.0"/>
<circle cx="389.30" cy="240.18" r="0.84" fill="#6cc828" opacity="1.0"/>
<circle cx="388.25" cy="238.74" r="0.68" fill="#60c020" opacity="1.0"/>
<circle cx="392.52" cy="240.91" r="0.68" fill="#60c020" opacity="1.0"/>
<circle cx="392.16" cy="240.55" r="0.54" fill="#6cc828" opacity="1.0"/>
<circle cx="389.32" cy="238.69" r="0.84" fill="#58b818" opacity="1.0"/>
<circle cx="385.36" cy="236.18" r="0.92" fill="#6cc828" opacity="1.0"/>
<circle cx="391.62" cy="241.58" r="0.88" fill="#58b818" opacity="1.0"/>
<circle cx="387.83" cy="239.18" r="0.57" fill="#60c020" opacity="1.0"/>
<circle cx="392.24" cy="241.13" r="0.83" fill="#6cc828" opacity="1.0"/>
</g>
<circle cx="343" cy="226" r="0.55" fill="#905030"/>
<circle cx="344.5" cy="224.5" r="0.55" fill="#905030"/>
<circle cx="349" cy="221" r="0.55" fill="#905030"/>
<circle cx="351" cy="222.5" r="0.55" fill="#905030"/>
<circle cx="354" cy="220" r="0.55" fill="#905030"/>
<circle cx="356" cy="218.8" r="0.55" fill="#905030"/>
<rect x="435.8" y="4.1" width="107.2" height="72.5" fill="#000"/>
<rect x="435.6" y="98.9" width="108.2" height="72.8" fill="#000"/>
<rect x="436.9" y="192.5" width="108.7" height="71.9" fill="#000"/>
<svg x="435.8" y="4.1" width="107.2" height="72.5" viewBox="435.8 4.1 107.2 72.5" overflow="hidden"><g filter="url(#b05)">
<rect x="467" y="7" width="9" height="8" fill="#0a240a"/>
<rect x="488" y="7" width="8" height="9" fill="#5a1a0a"/>
<rect x="513" y="55" width="10" height="25" fill="#3a0606"/>
<rect x="505" y="36" width="8.5" height="44" fill="#781010"/>
<polygon points="496,15 502,18 506,30 507,80 496,80" fill="#c01a10"/>
<rect x="487.8" y="15.3" width="13" height="49" fill="#ff1414"/>
<rect x="487.8" y="63" width="21" height="17" fill="#8a2a10"/>
<circle cx="489.5" cy="66.1" r="1.55" fill="#a05010" opacity="1.0"/>
<circle cx="495.9" cy="69.5" r="1.63" fill="#c03010" opacity="1.0"/>
<circle cx="497.2" cy="73.9" r="1.19" fill="#907020" opacity="1.0"/>
<circle cx="504.8" cy="73.6" r="1.17" fill="#a05010" opacity="1.0"/>
<circle cx="495.6" cy="65.1" r="1.66" fill="#c03010" opacity="1.0"/>
<circle cx="501.9" cy="71.7" r="1.31" fill="#6a4010" opacity="1.0"/>
<circle cx="495.4" cy="75.7" r="1.52" fill="#907020" opacity="1.0"/>
<circle cx="496.5" cy="68.1" r="1.31" fill="#6a4010" opacity="1.0"/>
<circle cx="502.7" cy="70.7" r="1.65" fill="#6a4010" opacity="1.0"/>
<circle cx="503.6" cy="70.3" r="1.71" fill="#c03010" opacity="1.0"/>
<circle cx="496.4" cy="70.4" r="1.06" fill="#907020" opacity="1.0"/>
<circle cx="496.6" cy="71.6" r="1.66" fill="#907020" opacity="1.0"/>
<circle cx="504.4" cy="68.2" r="1.12" fill="#907020" opacity="1.0"/>
<circle cx="505.1" cy="69.3" r="1.77" fill="#c03010" opacity="1.0"/>
<path d="M465,80 L465,17 Q466,14 470,14 L474,14 L474,10 Q476,5 480,5.5 Q483,6 483.5,10 L484,14 L488,16 L488,80 Z" fill="#30f030"/>
<circle cx="465.2" cy="17" r="1.5" fill="#30f030"/>
<circle cx="465.2" cy="20" r="1.5" fill="#30f030"/>
<circle cx="465.2" cy="23" r="1.5" fill="#30f030"/>
<circle cx="465.2" cy="26" r="1.5" fill="#30f030"/>
<circle cx="465.2" cy="29" r="1.5" fill="#30f030"/>
<circle cx="465.2" cy="32" r="1.5" fill="#30f030"/>
<circle cx="465.2" cy="35" r="1.5" fill="#30f030"/>
<circle cx="465.2" cy="38" r="1.5" fill="#30f030"/>
<circle cx="465.2" cy="41" r="1.5" fill="#30f030"/>
<circle cx="465.2" cy="44" r="1.5" fill="#30f030"/>
<circle cx="465.2" cy="47" r="1.5" fill="#30f030"/>
<circle cx="465.2" cy="50" r="1.5" fill="#30f030"/>
<circle cx="465.2" cy="53" r="1.5" fill="#30f030"/>
<circle cx="465.2" cy="56" r="1.5" fill="#30f030"/>
<circle cx="465.2" cy="59" r="1.5" fill="#30f030"/>
<circle cx="465.2" cy="62" r="1.5" fill="#30f030"/>
<circle cx="465.2" cy="65" r="1.5" fill="#30f030"/>
<circle cx="465.2" cy="68" r="1.5" fill="#30f030"/>
<circle cx="465.2" cy="71" r="1.5" fill="#30f030"/>
<circle cx="465.2" cy="74" r="1.5" fill="#30f030"/>
<circle cx="466" cy="75" r="1.4" fill="#30f030"/>
<circle cx="469" cy="75" r="1.4" fill="#30f030"/>
<circle cx="472" cy="75" r="1.4" fill="#30f030"/>
<circle cx="475" cy="75" r="1.4" fill="#30f030"/>
<circle cx="478" cy="75" r="1.4" fill="#30f030"/>
<circle cx="481" cy="75" r="1.4" fill="#30f030"/>
<circle cx="484" cy="75" r="1.4" fill="#30f030"/>
<circle cx="487" cy="75" r="1.4" fill="#30f030"/>
<rect x="482" y="15" width="6" height="58" fill="#60d020"/>
<rect x="486" y="20" width="2" height="50" fill="#508018" opacity="0.7"/>
</g></svg>
<rect x="438.6" y="72.9" width="9.3" height="1.4" fill="#d8e860"/>
<svg x="435.6" y="98.9" width="108.2" height="72.8" viewBox="435.6 98.9 108.2 72.8" overflow="hidden"><g filter="url(#b05)">
<rect x="487.5" y="111" width="16.3" height="12" fill="#0a280a"/>
<rect x="503.7" y="111" width="9" height="66" fill="#041404"/>
<rect x="480" y="111" width="7.5" height="17" fill="#380404"/>
<polygon points="447.5,143.75 472.5,143.75 472.5,127.5 480,127.5 480,111 487.5,111 487.5,176 447.5,176" fill="#6a0606"/>
<rect x="447.5" y="143.75" width="7.5" height="32" fill="#2a0303"/>
<polygon points="455,176 459,162 464,152 470,143 477,135 484,126.5 487.5,123.5 487.5,176" fill="#e42c12"/>
<polygon points="461,176 465,156 470,148 476,140 476,144 487.5,144 487.5,176" fill="#ff1212"/>
<polygon points="476,138 482,131 487.5,127 487.5,144 476,144" fill="#f01a10"/>
<path d="M487.5,124 L494,122.4 L500,121.2 Q504,120.6 505.4,123 L506,140 L505.5,160 L504.6,176 L487.5,176 Z" fill="#58d020"/>
<path d="M488.5,128 L496,126.5 L503,126 L503.8,140 L503.4,176 L488.5,176 Z" fill="#12f012"/>
</g></svg>
<rect x="437.8" y="167.2" width="10.2" height="1.5" fill="#c8dc70"/>
<svg x="436.9" y="192.5" width="108.7" height="71.9" viewBox="436.9 192.5 108.7 71.9" overflow="hidden"><g filter="url(#b05)">
<rect x="480" y="192.6" width="16" height="9.3" fill="#3a0808"/>
<rect x="496" y="192.6" width="14.4" height="9.3" fill="#0a2a0a"/>
<rect x="505" y="192.6" width="6.7" height="62" fill="#082008"/>
<rect x="472" y="207" width="8" height="47.6" fill="#4a0606"/>
<rect x="476" y="222" width="4.5" height="32" fill="#b01010"/>
<rect x="480" y="201.9" width="16" height="7" fill="#902010"/>
<rect x="480" y="207" width="9.3" height="47.6" fill="#ff1010"/>
<rect x="488" y="200.5" width="8" height="54" fill="#90a820"/>
<path d="M494.6,202 L500,200.5 L506,200.6 Q509.5,201 509,205 L508,225 L509,240 L507,252 L494.6,252 Z" fill="#12f012"/>
<rect x="492" y="243" width="13" height="11.6" fill="#80c020"/>
</g></svg>
<rect x="439.8" y="256.8" width="9.8" height="1.4" fill="#d4e870"/>
<text x="439.9" y="15.2" font-size="9" fill="#fff" text-anchor="start" font-weight="normal" >d)</text>
<text x="439.6" y="110.2" font-size="9" fill="#fff" text-anchor="start" font-weight="normal" >h)</text>
<text x="441.3" y="201.2" font-size="8.6" fill="#fff" text-anchor="start" font-weight="normal" >l)</text>
<text x="201.1" y="90.6" font-size="7.2" fill="#444" text-anchor="middle" font-weight="normal" >g(ω)</text>
<text x="136" y="40.5" font-size="6.8" fill="#444" text-anchor="middle" transform="rotate(-90 136 40.5)">s(ω)</text>
<text x="343" y="91.6" font-size="6.4" fill="#444" text-anchor="middle" font-weight="normal" >g (ω)</text>
<text x="269.8" y="42.3" font-size="6" fill="#444" text-anchor="middle" transform="rotate(-90 269.8 42.3)">s (ω)</text>
<text x="201.4" y="183.2" font-size="7.2" fill="#444" text-anchor="middle" font-weight="normal" >g(ω)</text>
<text x="134" y="131.5" font-size="6.8" fill="#444" text-anchor="middle" transform="rotate(-90 134 131.5)">s(ω)</text>
<text x="343.5" y="183.3" font-size="6.8" fill="#444" text-anchor="middle" font-weight="normal" >g(ω)</text>
<text x="277.5" y="136.4" font-size="6.5" fill="#444" text-anchor="middle" transform="rotate(-90 277.5 136.4)">s(ω)</text>
<text x="200.7" y="277.2" font-size="7.2" fill="#444" text-anchor="middle" font-weight="normal" >g(ω)</text>
<text x="133.2" y="222.3" font-size="6.8" fill="#444" text-anchor="middle" transform="rotate(-90 133.2 222.3)">s(ω)</text>
<text x="347.8" y="278.7" font-size="6.2" fill="#444" text-anchor="middle" font-weight="normal" >g (ω)</text>
<text x="272.6" y="228" font-size="6" fill="#444" text-anchor="middle" transform="rotate(-90 272.6 228)">s (ω)</text>
<rect x="287.6" y="55.4" width="11.3" height="13.9" fill="#fff" stroke="#cfcfcf" stroke-width="0.5"/>
<text x="294.3" y="60.9" font-size="6.2" fill="#333">1</text>
<text x="294.3" y="68.3" font-size="6.2" fill="#333">2</text>
<path d="M290.6,58.6 h1.6 M291.40000000000003,57.8 v1.6" stroke="#b09080" stroke-width="0.4"/>
<path d="M290.6,66.0 h1.6" stroke="#90c080" stroke-width="0.5"/>
<rect x="291.5" y="152.8" width="10.4" height="15.6" fill="#fff" stroke="#cfcfcf" stroke-width="0.5"/>
<text x="297.29999999999995" y="158.7" font-size="6.2" fill="#333">1</text>
<text x="297.29999999999995" y="167.0" font-size="6.2" fill="#333">2</text>
<path d="M294.5,156.4 h1.6 M295.3,155.6 v1.6" stroke="#b09080" stroke-width="0.4"/>
<path d="M294.5,164.7 h1.6" stroke="#90c080" stroke-width="0.5"/>
<rect x="294.7" y="246" width="10.6" height="15.6" fill="#fff" stroke="#cfcfcf" stroke-width="0.5"/>
<text x="300.7" y="251.9" font-size="6.2" fill="#333">1</text>
<text x="300.7" y="260.2" font-size="6.2" fill="#333">2</text>
<path d="M297.7,249.6 h1.6 M298.5,248.8 v1.6" stroke="#b09080" stroke-width="0.4"/>
<path d="M297.7,257.9 h1.6" stroke="#90c080" stroke-width="0.5"/>
<text x="433.8" y="22.9" font-size="6.8" fill="#333" text-anchor="end" font-weight="normal"  textLength="10.5" lengthAdjust="spacingAndGlyphs">100</text>
<text x="433.8" y="37.6" font-size="6.8" fill="#333" text-anchor="end" font-weight="normal"  textLength="10.5" lengthAdjust="spacingAndGlyphs">200</text>
<text x="433.8" y="52.5" font-size="6.8" fill="#333" text-anchor="end" font-weight="normal"  textLength="10.5" lengthAdjust="spacingAndGlyphs">300</text>
<text x="433.8" y="67.4" font-size="6.8" fill="#333" text-anchor="end" font-weight="normal"  textLength="10.5" lengthAdjust="spacingAndGlyphs">400</text>
<text x="469.3" y="85.8" font-size="6.8" fill="#333" text-anchor="middle" font-weight="normal"  textLength="11.8" lengthAdjust="spacingAndGlyphs">200</text>
<text x="502.4" y="85.8" font-size="6.8" fill="#333" text-anchor="middle" font-weight="normal"  textLength="11.8" lengthAdjust="spacingAndGlyphs">400</text>
<text x="536" y="85.8" font-size="6.8" fill="#333" text-anchor="middle" font-weight="normal"  textLength="11.8" lengthAdjust="spacingAndGlyphs">600</text>
<text x="489.8" y="90.8" font-size="6.6" fill="#333" text-anchor="middle" font-weight="normal"  textLength="55.5" lengthAdjust="spacingAndGlyphs">x-position (pixel)</text>
<text x="421.3" y="42.2" font-size="6.6" fill="#333" text-anchor="middle" textLength="54" lengthAdjust="spacingAndGlyphs" transform="rotate(-90 421.3 42.2)">y-position (pixel)</text>
<text x="434.2" y="116.3" font-size="6.8" fill="#333" text-anchor="end" font-weight="normal"  textLength="10.5" lengthAdjust="spacingAndGlyphs">100</text>
<text x="434.2" y="131.6" font-size="6.8" fill="#333" text-anchor="end" font-weight="normal"  textLength="10.5" lengthAdjust="spacingAndGlyphs">200</text>
<text x="434.2" y="147.4" font-size="6.8" fill="#333" text-anchor="end" font-weight="normal"  textLength="10.5" lengthAdjust="spacingAndGlyphs">300</text>
<text x="434.2" y="161.8" font-size="6.8" fill="#333" text-anchor="end" font-weight="normal"  textLength="10.5" lengthAdjust="spacingAndGlyphs">400</text>
<text x="469.8" y="181.4" font-size="6.8" fill="#333" text-anchor="middle" font-weight="normal"  textLength="11" lengthAdjust="spacingAndGlyphs">200</text>
<text x="503.7" y="181.4" font-size="6.8" fill="#333" text-anchor="middle" font-weight="normal"  textLength="11" lengthAdjust="spacingAndGlyphs">400</text>
<text x="536.8" y="181.4" font-size="6.8" fill="#333" text-anchor="middle" font-weight="normal"  textLength="11" lengthAdjust="spacingAndGlyphs">600</text>
<text x="487.7" y="186.6" font-size="6.6" fill="#333" text-anchor="middle" font-weight="normal"  textLength="50" lengthAdjust="spacingAndGlyphs">x-position (pixel)</text>
<text x="421.5" y="134.6" font-size="6.6" fill="#333" text-anchor="middle" textLength="53" lengthAdjust="spacingAndGlyphs" transform="rotate(-90 421.5 134.6)">y-position (pixel)</text>
<text x="434.6" y="210.6" font-size="6.4" fill="#333" text-anchor="end" font-weight="normal"  textLength="10.5" lengthAdjust="spacingAndGlyphs">100</text>
<text x="434.6" y="225.2" font-size="6.4" fill="#333" text-anchor="end" font-weight="normal"  textLength="10.5" lengthAdjust="spacingAndGlyphs">200</text>
<text x="434.6" y="239.7" font-size="6.4" fill="#333" text-anchor="end" font-weight="normal"  textLength="10.5" lengthAdjust="spacingAndGlyphs">300</text>
<text x="434.6" y="254.2" font-size="6.4" fill="#333" text-anchor="end" font-weight="normal"  textLength="10.5" lengthAdjust="spacingAndGlyphs">400</text>
<text x="471" y="272.6" font-size="6.2" fill="#333" text-anchor="middle" font-weight="normal"  textLength="10.8" lengthAdjust="spacingAndGlyphs">200</text>
<text x="505" y="272.6" font-size="6.2" fill="#333" text-anchor="middle" font-weight="normal"  textLength="10.8" lengthAdjust="spacingAndGlyphs">400</text>
<text x="539.3" y="272.6" font-size="6.2" fill="#333" text-anchor="middle" font-weight="normal"  textLength="10.8" lengthAdjust="spacingAndGlyphs">600</text>
<text x="492.2" y="278" font-size="6.4" fill="#333" text-anchor="middle" font-weight="normal"  textLength="51" lengthAdjust="spacingAndGlyphs">x-position (pixel)</text>
<text x="421.2" y="229.7" font-size="6.4" fill="#333" text-anchor="middle" textLength="49.5" lengthAdjust="spacingAndGlyphs" transform="rotate(-90 421.2 229.7)">y-position (pixel)</text>
</svg></body></html>
